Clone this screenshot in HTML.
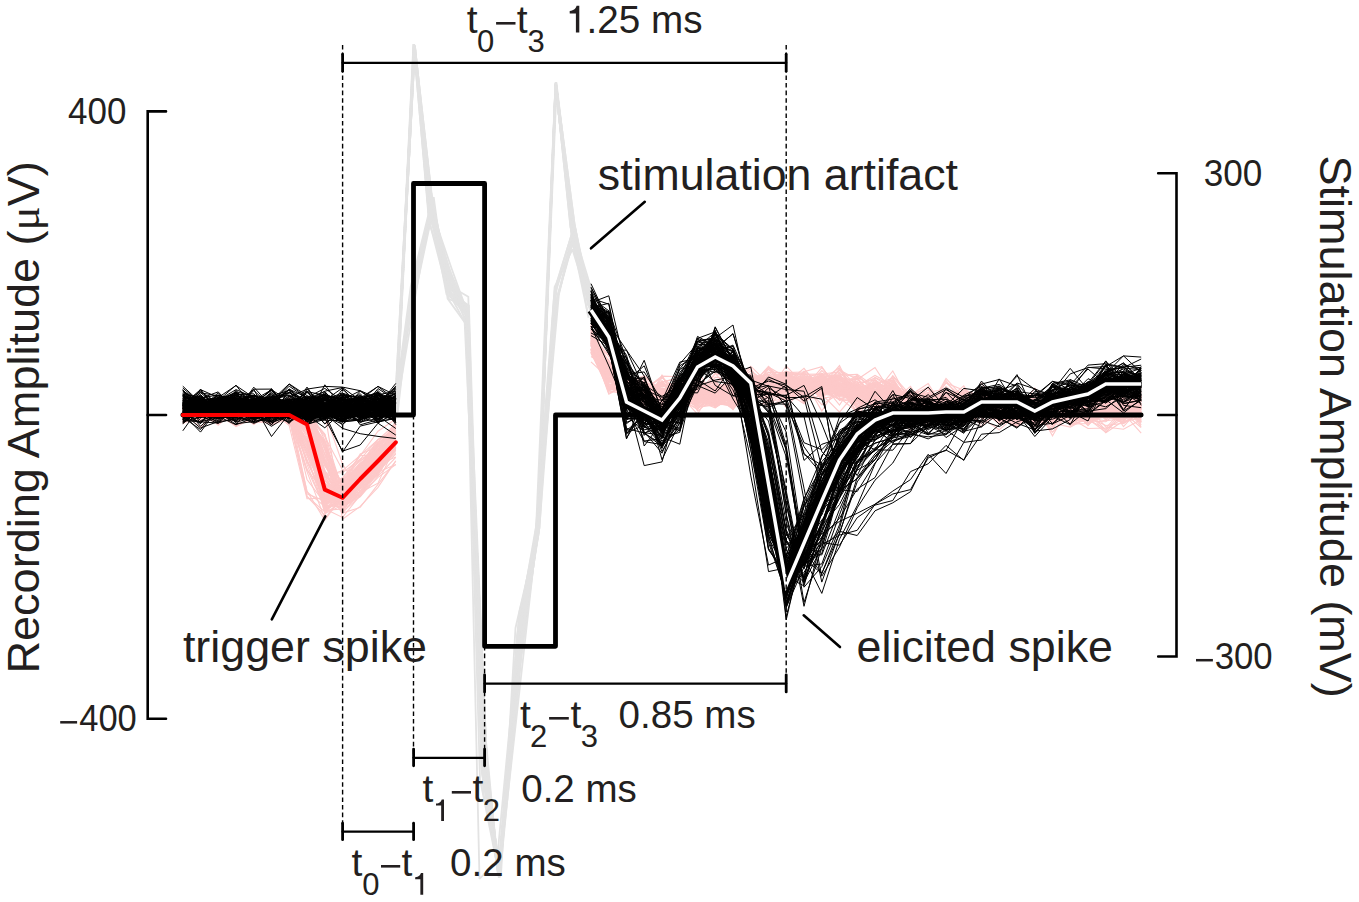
<!DOCTYPE html>
<html><head><meta charset="utf-8"><style>
html,body{margin:0;padding:0;background:#fff;width:1359px;height:902px;overflow:hidden;}
svg{display:block;}
text{font-family:"Liberation Sans",sans-serif;fill:#231f20;}
</style></head><body>
<svg width="1359" height="902" viewBox="0 0 1359 902">
<rect width="1359" height="902" fill="#fff"/>
<g fill="none" stroke="#e3e3e3" stroke-width="1.8" stroke-linejoin="miter" stroke-miterlimit="2"><polyline points="395.8,412.7 414.9,45.5 430.8,203.3 449.9,284.6 467.1,307.5 487.0,763.6 499.5,877.5 519.4,636.5 538.2,531.4 555.5,84.1 571.9,224.4 591.6,300.3"/><polyline points="394.8,408.4 414.1,47.6 428.9,207.3 450.4,283.4 466.4,314.2 485.6,760.8 499.4,873.8 519.7,618.6 537.9,532.7 556.1,85.9 572.2,229.1 588.2,305.9"/><polyline points="396.0,408.5 415.0,46.5 432.3,209.8 450.5,275.7 467.1,314.8 481.7,769.9 498.8,874.9 519.3,629.7 537.9,529.4 555.9,82.3 574.0,231.3 592.7,309.2"/><polyline points="395.7,411.3 414.9,49.4 428.7,213.2 449.7,284.3 466.2,316.8 482.5,772.9 500.0,871.6 519.5,611.7 537.9,536.5 556.6,87.3 572.3,239.9 593.5,307.9"/><polyline points="395.4,410.6 414.3,44.6 430.1,209.7 449.5,284.3 466.6,309.1 483.7,781.9 498.8,872.2 522.1,637.4 538.8,532.2 555.4,86.3 575.4,253.0 589.7,300.5"/><polyline points="396.0,408.3 414.2,45.0 431.6,214.7 449.0,291.4 466.5,314.0 481.1,744.7 499.6,875.6 520.9,637.6 538.4,534.4 556.1,82.3 572.1,229.9 590.2,297.1"/><polyline points="395.5,409.8 414.4,45.0 428.2,206.5 449.4,292.6 467.0,311.1 483.3,793.1 499.6,870.7 523.4,618.5 537.9,533.4 555.9,83.6 573.6,236.2 588.6,303.8"/><polyline points="395.4,410.3 414.1,45.9 432.6,209.2 449.5,285.7 466.5,312.5 483.7,770.4 499.0,875.7 517.9,642.4 537.4,529.8 555.5,83.7 573.7,231.0 589.3,299.1"/><polyline points="396.4,410.1 413.7,44.0 428.8,219.5 446.6,288.4 467.0,308.6 485.0,779.0 499.4,877.0 521.5,632.3 537.9,531.6 555.9,84.8 574.5,231.5 589.3,307.6"/><polyline points="396.6,411.9 414.1,46.1 430.5,206.1 449.1,268.8 466.8,309.9 483.4,744.4 497.8,874.2 521.3,653.3 537.7,535.3 555.5,87.7 573.5,238.1 590.3,307.1"/><polyline points="396.0,408.3 413.6,44.7 430.9,204.5 450.6,297.1 466.5,315.1 486.0,775.0 499.8,876.4 521.2,658.3 538.2,530.1 555.9,85.8 573.8,231.1 593.5,296.3"/><polyline points="396.0,410.0 413.7,47.7 431.8,198.8 450.0,282.0 465.8,310.9 484.9,773.9 499.1,877.8 520.8,627.0 538.3,532.4 555.7,83.6 571.6,230.0 593.4,307.3"/><polyline points="395.6,410.7 414.1,44.8 430.2,208.9 446.5,294.3 466.5,308.3 484.1,759.8 499.1,873.4 520.6,680.7 537.1,533.0 555.5,82.6 570.4,226.9 591.7,304.7"/><polyline points="396.6,408.6 414.4,52.7 430.0,200.7 448.9,284.7 467.2,313.4 483.3,768.0 501.1,872.9 515.5,628.0 537.3,533.9 555.5,87.8 574.7,241.2 591.3,304.7"/><polyline points="395.9,412.6 414.6,45.1 433.3,208.3 448.9,279.5 466.5,311.1 480.0,779.2 499.5,877.1 521.7,636.1 537.9,524.6 555.5,83.6 575.8,247.9 593.3,296.9"/><polyline points="394.7,411.1 414.3,46.9 431.0,208.5 446.6,288.1 466.5,314.0 485.2,763.4 499.3,877.9 521.2,637.0 537.5,530.2 556.4,82.3 574.8,237.8 590.1,299.8"/><polyline points="395.8,410.5 414.6,47.8 430.3,206.3 451.6,268.5 467.0,311.4 485.2,758.1 499.3,871.7 520.6,636.1 537.9,529.7 555.9,82.6 572.0,234.7 590.6,310.3"/><polyline points="395.7,408.9 415.0,47.0 433.3,211.3 448.8,282.1 466.6,315.8 484.7,744.2 499.0,872.3 520.3,613.1 537.1,532.4 555.6,87.0 574.4,250.1 588.6,317.7"/><polyline points="395.4,409.0 414.2,48.3 433.3,210.4 447.8,283.1 466.0,312.0 486.0,741.0 498.7,877.4 521.7,648.9 537.5,529.8 555.8,83.1 572.8,242.6 593.7,306.9"/><polyline points="395.7,411.1 413.4,44.1 429.6,223.7 450.2,286.0 466.7,305.5 485.6,787.8 498.4,875.3 521.2,608.3 538.2,536.1 555.7,82.2 574.5,224.2 591.1,312.4"/><polyline points="395.1,412.0 414.1,50.2 431.1,200.2 449.5,276.8 467.3,310.8 485.1,756.7 498.7,873.2 520.3,624.5 537.1,535.5 556.0,83.0 573.6,227.8 589.4,299.2"/><polyline points="395.9,410.6 413.9,46.2 432.5,208.2 450.7,283.0 466.7,314.4 484.4,776.1 498.0,872.3 518.7,627.7 537.1,533.8 556.2,85.2 574.6,224.1 589.7,301.8"/><polyline points="397.4,403.5 413.5,286.3 429.8,210.4 447.7,278.6 467.3,316.5 486.1,769.0 499.0,872.6 518.0,631.0 539.3,528.3 557.1,299.7 572.9,235.3 590.4,312.6"/><polyline points="397.7,412.4 412.6,282.4 432.1,206.9 449.2,288.4 464.4,316.9 484.7,759.0 499.0,874.3 518.6,621.5 536.2,530.8 558.0,293.6 575.2,234.0 589.3,307.0"/><polyline points="394.3,408.2 411.8,290.4 432.1,216.3 450.2,270.8 465.6,323.9 481.8,771.9 499.0,877.0 517.3,633.4 538.3,513.6 554.6,308.0 573.4,240.8 591.9,302.7"/><polyline points="393.9,421.5 414.0,288.9 433.7,197.0 447.6,298.6 466.8,325.2 486.8,763.9 499.0,877.1 521.9,640.6 535.6,538.3 557.2,281.0 573.5,228.5 590.7,297.5"/><polyline points="398.2,401.0 413.3,277.9 433.1,205.7 448.9,275.1 467.5,311.5 483.8,768.3 499.0,877.0 519.8,633.3 537.7,527.4 558.9,294.5 573.7,231.6 587.9,315.2"/><polyline points="394.0,397.8 417.2,284.2 433.1,209.7 445.3,283.4 468.3,296.8 482.6,766.3 499.0,873.5 522.2,637.9 536.1,526.6 553.9,297.9 571.5,241.0 591.1,310.7"/><polyline points="394.4,407.0 410.7,286.7 430.7,205.1 447.1,289.7 466.3,325.0 486.6,757.0 499.0,871.3 520.0,623.8 537.3,527.2 556.1,302.9 573.8,236.0 592.3,304.6"/><polyline points="395.2,416.2 417.1,285.7 431.0,210.0 449.0,299.3 467.8,305.3 483.8,758.7 499.0,876.7 519.2,624.7 539.5,527.8 554.6,287.0 572.4,249.3 593.0,315.4"/><polyline points="393.6,408.9 414.5,288.2 431.4,213.8 451.1,293.4 468.9,305.6 483.7,766.2 499.0,876.7 517.3,636.9 537.5,532.6 554.7,290.8 574.5,224.8 590.4,298.4"/><polyline points="396.0,415.0 414.0,44.0 430.0,205.0 449.0,283.0 466.5,313.0 479.5,879.0 497.0,860.0 518.0,640.0 536.0,530.0 555.5,84.0 572.0,240.0 591.0,305.0"/></g>
<g fill="none" stroke="#fdc9c9" stroke-width="1.1"><polyline points="182.8,414.9 200.5,408.3 218.2,417.8 236.0,414.2 253.8,411.7 271.5,403.8 289.2,409.1 307.0,439.9 324.8,491.8 342.5,477.5 360.2,473.5 378.0,457.1 395.8,429.7"/><polyline points="182.8,409.3 200.5,403.7 218.2,407.6 236.0,414.5 253.8,403.1 271.5,408.8 289.2,419.2 307.0,409.2 324.8,472.7 342.5,496.1 360.2,480.0 378.0,454.6 395.8,436.2"/><polyline points="182.8,412.3 200.5,402.5 218.2,406.3 236.0,409.5 253.8,415.9 271.5,414.3 289.2,416.4 307.0,418.9 324.8,412.6 342.5,519.2 360.2,506.4 378.0,487.4 395.8,460.7"/><polyline points="182.8,407.4 200.5,417.8 218.2,415.5 236.0,425.9 253.8,418.2 271.5,413.3 289.2,418.2 307.0,418.7 324.8,494.8 342.5,503.2 360.2,469.3 378.0,450.5 395.8,440.5"/><polyline points="182.8,414.3 200.5,420.3 218.2,414.2 236.0,412.7 253.8,409.8 271.5,412.6 289.2,411.7 307.0,442.7 324.8,509.3 342.5,497.8 360.2,479.6 378.0,454.4 395.8,435.7"/><polyline points="182.8,420.0 200.5,414.5 218.2,408.3 236.0,410.9 253.8,419.2 271.5,406.4 289.2,421.1 307.0,449.3 324.8,492.8 342.5,480.3 360.2,464.7 378.0,447.2 395.8,423.9"/><polyline points="182.8,405.1 200.5,409.0 218.2,409.8 236.0,407.5 253.8,416.2 271.5,402.5 289.2,412.0 307.0,409.0 324.8,448.2 342.5,487.5 360.2,479.1 378.0,467.4 395.8,443.8"/><polyline points="182.8,419.1 200.5,406.7 218.2,418.1 236.0,413.3 253.8,420.3 271.5,417.6 289.2,417.6 307.0,412.3 324.8,448.5 342.5,512.1 360.2,496.2 378.0,472.8 395.8,448.2"/><polyline points="182.8,414.2 200.5,412.4 218.2,406.3 236.0,411.0 253.8,414.0 271.5,403.8 289.2,419.2 307.0,493.8 324.8,501.1 342.5,491.7 360.2,472.9 378.0,443.1 395.8,428.6"/><polyline points="182.8,411.7 200.5,408.0 218.2,415.6 236.0,412.2 253.8,413.3 271.5,396.6 289.2,417.2 307.0,408.3 324.8,499.1 342.5,493.9 360.2,477.0 378.0,457.3 395.8,434.5"/><polyline points="182.8,412.7 200.5,410.3 218.2,420.0 236.0,420.7 253.8,407.2 271.5,411.9 289.2,416.3 307.0,460.2 324.8,502.0 342.5,485.2 360.2,467.5 378.0,444.5 395.8,429.1"/><polyline points="182.8,417.6 200.5,412.5 218.2,412.9 236.0,404.0 253.8,405.1 271.5,416.3 289.2,418.5 307.0,496.6 324.8,515.2 342.5,482.3 360.2,459.1 378.0,449.9 395.8,420.7"/><polyline points="182.8,418.1 200.5,411.4 218.2,412.1 236.0,413.0 253.8,411.8 271.5,421.5 289.2,417.7 307.0,409.4 324.8,473.4 342.5,501.8 360.2,486.9 378.0,463.7 395.8,447.4"/><polyline points="182.8,413.1 200.5,409.9 218.2,415.4 236.0,412.3 253.8,420.1 271.5,415.0 289.2,408.0 307.0,451.3 324.8,498.8 342.5,483.5 360.2,472.6 378.0,460.5 395.8,437.2"/><polyline points="182.8,416.0 200.5,415.9 218.2,410.7 236.0,411.7 253.8,410.9 271.5,403.4 289.2,404.6 307.0,416.4 324.8,454.3 342.5,495.9 360.2,479.1 378.0,456.0 395.8,438.0"/><polyline points="182.8,412.6 200.5,403.3 218.2,409.0 236.0,408.6 253.8,410.3 271.5,415.7 289.2,417.0 307.0,422.9 324.8,492.7 342.5,489.0 360.2,485.9 378.0,463.0 395.8,439.5"/><polyline points="182.8,416.6 200.5,412.2 218.2,411.2 236.0,407.2 253.8,407.6 271.5,410.9 289.2,410.2 307.0,414.6 324.8,499.6 342.5,496.0 360.2,475.9 378.0,459.4 395.8,434.5"/><polyline points="182.8,416.5 200.5,406.5 218.2,407.4 236.0,407.4 253.8,412.1 271.5,416.6 289.2,422.0 307.0,414.4 324.8,466.0 342.5,489.7 360.2,483.2 378.0,460.4 395.8,444.5"/><polyline points="182.8,412.4 200.5,416.0 218.2,422.8 236.0,412.8 253.8,420.1 271.5,416.5 289.2,415.9 307.0,414.3 324.8,479.7 342.5,499.7 360.2,484.8 378.0,467.3 395.8,449.6"/><polyline points="182.8,408.5 200.5,412.4 218.2,423.7 236.0,411.8 253.8,422.3 271.5,412.1 289.2,412.3 307.0,445.9 324.8,498.5 342.5,486.2 360.2,465.3 378.0,450.7 395.8,430.8"/><polyline points="182.8,417.9 200.5,411.6 218.2,403.9 236.0,413.8 253.8,418.2 271.5,412.2 289.2,404.6 307.0,479.5 324.8,503.2 342.5,484.0 360.2,453.9 378.0,446.9 395.8,423.7"/><polyline points="182.8,402.9 200.5,405.4 218.2,411.4 236.0,404.8 253.8,416.2 271.5,419.3 289.2,397.3 307.0,433.0 324.8,491.3 342.5,493.3 360.2,469.6 378.0,462.7 395.8,444.6"/><polyline points="182.8,408.1 200.5,421.5 218.2,406.8 236.0,413.3 253.8,407.6 271.5,417.8 289.2,416.3 307.0,424.2 324.8,486.9 342.5,488.8 360.2,465.7 378.0,442.8 395.8,435.1"/><polyline points="182.8,416.3 200.5,412.3 218.2,411.4 236.0,407.7 253.8,413.6 271.5,410.7 289.2,411.7 307.0,453.2 324.8,487.4 342.5,478.0 360.2,460.5 378.0,451.0 395.8,423.2"/><polyline points="182.8,411.2 200.5,420.3 218.2,419.9 236.0,410.8 253.8,417.3 271.5,424.8 289.2,418.8 307.0,469.9 324.8,492.1 342.5,479.6 360.2,465.9 378.0,445.5 395.8,426.1"/><polyline points="182.8,420.1 200.5,413.0 218.2,410.4 236.0,414.2 253.8,414.8 271.5,407.2 289.2,414.9 307.0,417.0 324.8,476.2 342.5,504.9 360.2,476.6 378.0,460.1 395.8,437.1"/><polyline points="182.8,421.9 200.5,407.3 218.2,408.7 236.0,414.8 253.8,414.6 271.5,416.3 289.2,412.8 307.0,405.0 324.8,459.8 342.5,493.7 360.2,475.4 378.0,457.6 395.8,440.3"/><polyline points="182.8,416.8 200.5,413.7 218.2,412.8 236.0,413.3 253.8,410.7 271.5,413.1 289.2,410.9 307.0,414.5 324.8,483.7 342.5,496.8 360.2,494.7 378.0,467.4 395.8,447.7"/><polyline points="182.8,417.1 200.5,412.0 218.2,412.0 236.0,405.8 253.8,404.3 271.5,409.6 289.2,414.3 307.0,447.1 324.8,489.3 342.5,481.9 360.2,464.5 378.0,446.5 395.8,427.2"/><polyline points="182.8,407.0 200.5,414.2 218.2,412.9 236.0,408.4 253.8,403.8 271.5,405.3 289.2,416.4 307.0,412.7 324.8,483.0 342.5,498.2 360.2,484.7 378.0,456.2 395.8,436.6"/><polyline points="182.8,404.3 200.5,416.7 218.2,411.5 236.0,418.4 253.8,410.1 271.5,407.6 289.2,421.9 307.0,413.5 324.8,476.5 342.5,483.3 360.2,466.5 378.0,457.7 395.8,437.3"/><polyline points="182.8,418.3 200.5,414.0 218.2,417.3 236.0,420.7 253.8,408.1 271.5,414.8 289.2,414.6 307.0,412.8 324.8,496.4 342.5,505.7 360.2,479.4 378.0,467.7 395.8,435.9"/><polyline points="182.8,413.4 200.5,427.2 218.2,410.5 236.0,410.6 253.8,412.8 271.5,410.3 289.2,413.5 307.0,418.5 324.8,480.1 342.5,498.2 360.2,474.9 378.0,465.9 395.8,444.1"/><polyline points="182.8,419.7 200.5,410.8 218.2,410.0 236.0,411.6 253.8,409.5 271.5,412.6 289.2,412.0 307.0,429.6 324.8,476.9 342.5,470.6 360.2,455.4 378.0,439.7 395.8,430.6"/><polyline points="182.8,408.3 200.5,415.2 218.2,417.7 236.0,413.6 253.8,418.5 271.5,412.1 289.2,412.1 307.0,460.2 324.8,498.0 342.5,484.7 360.2,462.4 378.0,442.5 395.8,432.3"/><polyline points="182.8,411.8 200.5,414.1 218.2,412.3 236.0,402.5 253.8,414.9 271.5,415.3 289.2,410.9 307.0,406.1 324.8,412.9 342.5,464.0 360.2,492.0 378.0,472.1 395.8,464.4"/><polyline points="182.8,414.4 200.5,414.5 218.2,402.9 236.0,419.2 253.8,408.3 271.5,408.9 289.2,406.8 307.0,464.4 324.8,508.9 342.5,502.6 360.2,472.1 378.0,443.9 395.8,432.7"/><polyline points="182.8,409.5 200.5,413.3 218.2,405.4 236.0,418.1 253.8,409.2 271.5,420.9 289.2,408.3 307.0,414.8 324.8,464.0 342.5,495.2 360.2,468.6 378.0,459.0 395.8,439.9"/><polyline points="182.8,398.6 200.5,405.1 218.2,414.3 236.0,412.5 253.8,424.4 271.5,411.3 289.2,405.9 307.0,415.2 324.8,463.4 342.5,505.7 360.2,482.2 378.0,459.3 395.8,445.3"/><polyline points="182.8,412.8 200.5,403.5 218.2,412.8 236.0,410.0 253.8,406.1 271.5,414.8 289.2,412.9 307.0,413.6 324.8,476.5 342.5,502.1 360.2,475.3 378.0,466.1 395.8,440.3"/><polyline points="182.8,418.7 200.5,412.7 218.2,411.4 236.0,412.4 253.8,412.7 271.5,414.8 289.2,407.1 307.0,417.1 324.8,489.7 342.5,513.4 360.2,491.3 378.0,468.6 395.8,446.6"/><polyline points="182.8,420.7 200.5,417.6 218.2,413.9 236.0,413.4 253.8,412.6 271.5,411.9 289.2,412.4 307.0,413.1 324.8,508.8 342.5,517.4 360.2,495.2 378.0,467.5 395.8,441.9"/><polyline points="182.8,406.6 200.5,419.0 218.2,420.3 236.0,401.6 253.8,418.5 271.5,410.6 289.2,413.4 307.0,417.2 324.8,465.2 342.5,496.2 360.2,466.5 378.0,465.0 395.8,445.4"/><polyline points="182.8,416.7 200.5,415.4 218.2,418.7 236.0,417.8 253.8,418.4 271.5,416.1 289.2,413.8 307.0,424.7 324.8,501.6 342.5,502.0 360.2,471.7 378.0,461.0 395.8,445.8"/><polyline points="182.8,409.1 200.5,413.1 218.2,418.6 236.0,412.3 253.8,412.0 271.5,414.9 289.2,421.5 307.0,417.4 324.8,492.2 342.5,504.4 360.2,482.3 378.0,464.7 395.8,441.7"/><polyline points="182.8,406.1 200.5,411.0 218.2,407.4 236.0,419.4 253.8,419.5 271.5,415.9 289.2,411.6 307.0,413.3 324.8,480.0 342.5,504.4 360.2,485.6 378.0,471.7 395.8,447.0"/><polyline points="182.8,399.6 200.5,415.5 218.2,414.6 236.0,422.0 253.8,411.9 271.5,415.3 289.2,410.9 307.0,414.3 324.8,436.5 342.5,470.0 360.2,470.7 378.0,453.9 395.8,439.5"/><polyline points="182.8,412.0 200.5,413.2 218.2,406.1 236.0,413.5 253.8,411.8 271.5,418.8 289.2,413.5 307.0,468.8 324.8,507.0 342.5,488.6 360.2,466.5 378.0,439.6 395.8,430.7"/><polyline points="182.8,412.0 200.5,415.8 218.2,412.0 236.0,418.0 253.8,415.0 271.5,410.3 289.2,411.6 307.0,414.6 324.8,465.0 342.5,492.5 360.2,469.2 378.0,462.8 395.8,439.3"/><polyline points="182.8,421.6 200.5,416.9 218.2,409.7 236.0,415.6 253.8,420.6 271.5,413.9 289.2,411.7 307.0,413.1 324.8,484.3 342.5,507.2 360.2,485.6 378.0,468.2 395.8,446.9"/><polyline points="182.8,414.0 200.5,404.4 218.2,415.5 236.0,414.7 253.8,411.9 271.5,420.3 289.2,412.8 307.0,416.4 324.8,472.3 342.5,484.8 360.2,465.5 378.0,454.9 395.8,440.9"/><polyline points="182.8,411.8 200.5,418.8 218.2,415.5 236.0,404.3 253.8,404.8 271.5,421.6 289.2,408.9 307.0,407.2 324.8,461.9 342.5,503.7 360.2,489.0 378.0,458.9 395.8,434.1"/><polyline points="182.8,410.6 200.5,413.1 218.2,407.7 236.0,410.3 253.8,412.4 271.5,415.4 289.2,408.6 307.0,420.4 324.8,442.1 342.5,489.8 360.2,474.6 378.0,468.2 395.8,449.4"/><polyline points="182.8,409.7 200.5,411.4 218.2,415.0 236.0,420.5 253.8,412.7 271.5,415.5 289.2,413.6 307.0,455.9 324.8,491.5 342.5,489.3 360.2,466.3 378.0,456.2 395.8,437.6"/><polyline points="182.8,416.9 200.5,410.2 218.2,412.0 236.0,419.8 253.8,417.3 271.5,414.0 289.2,424.2 307.0,439.2 324.8,503.2 342.5,495.3 360.2,472.2 378.0,448.6 395.8,442.1"/><polyline points="182.8,413.9 200.5,406.2 218.2,419.1 236.0,407.7 253.8,412.6 271.5,424.5 289.2,411.4 307.0,427.2 324.8,484.6 342.5,512.7 360.2,483.8 378.0,462.8 395.8,439.2"/><polyline points="182.8,406.6 200.5,422.0 218.2,410.3 236.0,415.3 253.8,404.0 271.5,412.0 289.2,406.3 307.0,437.4 324.8,510.5 342.5,496.5 360.2,479.8 378.0,460.2 395.8,427.2"/><polyline points="182.8,415.4 200.5,405.9 218.2,407.3 236.0,412.0 253.8,419.7 271.5,410.1 289.2,419.0 307.0,459.9 324.8,500.7 342.5,493.0 360.2,465.4 378.0,439.9 395.8,424.0"/><polyline points="182.8,418.0 200.5,414.0 218.2,421.0 236.0,414.6 253.8,415.1 271.5,409.8 289.2,412.8 307.0,419.9 324.8,496.0 342.5,503.7 360.2,473.2 378.0,460.5 395.8,436.2"/><polyline points="182.8,408.8 200.5,414.5 218.2,418.0 236.0,416.9 253.8,414.8 271.5,414.9 289.2,413.8 307.0,422.9 324.8,502.7 342.5,495.0 360.2,487.8 378.0,455.9 395.8,440.1"/><polyline points="182.8,411.7 200.5,417.8 218.2,418.7 236.0,411.4 253.8,417.0 271.5,404.8 289.2,416.1 307.0,424.0 324.8,473.1 342.5,472.8 360.2,459.3 378.0,439.4 395.8,432.0"/><polyline points="182.8,416.9 200.5,410.4 218.2,412.7 236.0,418.7 253.8,415.8 271.5,409.0 289.2,413.6 307.0,422.6 324.8,489.9 342.5,486.7 360.2,464.6 378.0,453.6 395.8,439.1"/><polyline points="182.8,413.2 200.5,406.0 218.2,402.8 236.0,403.2 253.8,414.5 271.5,419.4 289.2,415.3 307.0,491.0 324.8,520.3 342.5,495.6 360.2,476.8 378.0,452.6 395.8,435.8"/><polyline points="182.8,416.6 200.5,417.1 218.2,416.0 236.0,414.5 253.8,405.6 271.5,407.9 289.2,414.5 307.0,414.2 324.8,443.4 342.5,486.5 360.2,477.0 378.0,458.5 395.8,443.8"/><polyline points="182.8,414.3 200.5,408.5 218.2,410.7 236.0,416.3 253.8,412.6 271.5,414.3 289.2,414.0 307.0,410.4 324.8,445.7 342.5,513.1 360.2,507.4 378.0,484.3 395.8,461.1"/><polyline points="182.8,414.4 200.5,411.0 218.2,410.9 236.0,411.0 253.8,420.4 271.5,410.0 289.2,425.5 307.0,498.8 324.8,498.3 342.5,477.8 360.2,455.7 378.0,431.2 395.8,419.0"/><polyline points="182.8,411.3 200.5,417.0 218.2,412.8 236.0,412.7 253.8,413.2 271.5,418.0 289.2,414.0 307.0,417.7 324.8,461.0 342.5,509.4 360.2,488.3 378.0,471.9 395.8,450.2"/><polyline points="182.8,408.9 200.5,417.0 218.2,408.6 236.0,413.8 253.8,410.6 271.5,420.5 289.2,412.8 307.0,424.9 324.8,491.8 342.5,506.2 360.2,477.5 378.0,463.6 395.8,439.2"/><polyline points="182.8,406.6 200.5,417.4 218.2,404.5 236.0,396.6 253.8,418.7 271.5,417.4 289.2,420.7 307.0,413.2 324.8,463.4 342.5,495.1 360.2,482.9 378.0,472.0 395.8,444.9"/><polyline points="182.8,410.2 200.5,422.6 218.2,408.6 236.0,409.5 253.8,413.1 271.5,407.2 289.2,419.2 307.0,431.3 324.8,507.7 342.5,495.5 360.2,484.6 378.0,458.1 395.8,444.6"/><polyline points="182.8,410.9 200.5,418.5 218.2,417.3 236.0,412.3 253.8,407.1 271.5,410.8 289.2,413.5 307.0,426.2 324.8,496.7 342.5,499.1 360.2,482.4 378.0,465.9 395.8,447.4"/><polyline points="182.8,412.4 200.5,416.5 218.2,412.9 236.0,411.6 253.8,415.9 271.5,413.0 289.2,416.3 307.0,496.3 324.8,511.8 342.5,495.1 360.2,470.4 378.0,454.7 395.8,424.6"/><polyline points="182.8,411.1 200.5,410.2 218.2,419.3 236.0,413.7 253.8,417.9 271.5,417.0 289.2,414.1 307.0,423.2 324.8,503.5 342.5,496.3 360.2,474.3 378.0,452.3 395.8,429.7"/><polyline points="182.8,413.8 200.5,413.5 218.2,416.8 236.0,404.2 253.8,405.5 271.5,417.8 289.2,407.5 307.0,415.7 324.8,485.4 342.5,508.9 360.2,492.5 378.0,483.2 395.8,444.5"/><polyline points="182.8,410.5 200.5,410.8 218.2,408.8 236.0,413.2 253.8,422.5 271.5,417.0 289.2,415.1 307.0,448.9 324.8,487.6 342.5,481.7 360.2,455.7 378.0,454.4 395.8,433.7"/><polyline points="182.8,413.2 200.5,413.5 218.2,417.2 236.0,409.5 253.8,414.6 271.5,413.9 289.2,413.1 307.0,414.6 324.8,434.6 342.5,506.7 360.2,488.7 378.0,475.0 395.8,446.6"/><polyline points="182.8,411.3 200.5,408.1 218.2,409.8 236.0,419.6 253.8,408.2 271.5,408.2 289.2,417.7 307.0,429.2 324.8,508.5 342.5,499.2 360.2,466.2 378.0,458.3 395.8,444.6"/><polyline points="182.8,411.6 200.5,403.1 218.2,410.7 236.0,415.0 253.8,413.9 271.5,405.0 289.2,419.5 307.0,409.9 324.8,483.7 342.5,499.3 360.2,485.7 378.0,462.5 395.8,440.5"/><polyline points="182.8,412.4 200.5,413.4 218.2,410.1 236.0,422.2 253.8,410.8 271.5,410.4 289.2,418.2 307.0,471.6 324.8,518.7 342.5,495.1 360.2,466.0 378.0,452.4 395.8,430.0"/><polyline points="182.8,412.1 200.5,419.6 218.2,416.8 236.0,405.3 253.8,401.6 271.5,401.5 289.2,416.9 307.0,410.4 324.8,462.3 342.5,503.3 360.2,487.1 378.0,473.4 395.8,448.1"/><polyline points="182.8,416.3 200.5,418.7 218.2,413.4 236.0,415.1 253.8,415.0 271.5,422.9 289.2,407.7 307.0,431.9 324.8,502.0 342.5,504.3 360.2,471.6 378.0,456.2 395.8,441.6"/><polyline points="182.8,419.7 200.5,411.0 218.2,419.3 236.0,413.2 253.8,413.5 271.5,411.4 289.2,414.0 307.0,417.1 324.8,494.7 342.5,493.7 360.2,472.8 378.0,457.7 395.8,436.5"/><polyline points="182.8,411.1 200.5,416.7 218.2,416.3 236.0,413.9 253.8,408.5 271.5,412.3 289.2,410.1 307.0,411.7 324.8,488.9 342.5,494.2 360.2,477.0 378.0,457.2 395.8,441.8"/><polyline points="182.8,409.2 200.5,420.0 218.2,420.7 236.0,411.3 253.8,413.9 271.5,413.3 289.2,411.6 307.0,418.5 324.8,485.6 342.5,486.0 360.2,478.3 378.0,452.6 395.8,434.2"/><polyline points="182.8,411.7 200.5,411.1 218.2,411.0 236.0,418.0 253.8,419.3 271.5,414.3 289.2,403.7 307.0,419.2 324.8,480.0 342.5,498.3 360.2,491.5 378.0,474.0 395.8,440.5"/><polyline points="182.8,422.7 200.5,419.1 218.2,409.0 236.0,414.1 253.8,410.8 271.5,423.1 289.2,417.3 307.0,417.8 324.8,440.6 342.5,507.0 360.2,496.8 378.0,476.0 395.8,457.3"/><polyline points="182.8,417.1 200.5,408.7 218.2,413.3 236.0,425.5 253.8,409.2 271.5,410.8 289.2,412.3 307.0,411.9 324.8,463.6 342.5,492.6 360.2,473.7 378.0,460.3 395.8,436.1"/><polyline points="182.8,408.2 200.5,412.1 218.2,415.2 236.0,413.5 253.8,406.4 271.5,401.9 289.2,411.2 307.0,421.7 324.8,475.4 342.5,494.1 360.2,478.6 378.0,459.2 395.8,437.1"/><polyline points="182.8,409.5 200.5,410.0 218.2,422.3 236.0,409.5 253.8,422.8 271.5,407.1 289.2,405.6 307.0,462.0 324.8,496.2 342.5,483.9 360.2,466.7 378.0,444.7 395.8,433.7"/><polyline points="182.8,415.8 200.5,415.9 218.2,410.0 236.0,407.7 253.8,424.4 271.5,409.7 289.2,414.4 307.0,428.0 324.8,501.3 342.5,503.7 360.2,478.5 378.0,460.8 395.8,448.1"/><polyline points="182.8,418.1 200.5,412.1 218.2,408.6 236.0,419.1 253.8,414.0 271.5,403.9 289.2,410.0 307.0,410.0 324.8,498.7 342.5,499.1 360.2,486.6 378.0,455.0 395.8,448.1"/><polyline points="182.8,415.2 200.5,416.9 218.2,413.3 236.0,415.9 253.8,413.4 271.5,412.9 289.2,414.7 307.0,431.7 324.8,510.3 342.5,509.0 360.2,483.0 378.0,454.5 395.8,446.6"/><polyline points="182.8,414.7 200.5,416.0 218.2,413.0 236.0,409.6 253.8,412.9 271.5,415.8 289.2,410.6 307.0,416.9 324.8,495.6 342.5,489.0 360.2,471.8 378.0,452.1 395.8,439.7"/><polyline points="182.8,410.8 200.5,409.5 218.2,414.7 236.0,398.2 253.8,420.2 271.5,413.7 289.2,415.0 307.0,403.0 324.8,440.3 342.5,498.5 360.2,479.9 378.0,466.4 395.8,449.6"/><polyline points="182.8,406.5 200.5,412.1 218.2,403.9 236.0,412.6 253.8,408.9 271.5,405.5 289.2,411.9 307.0,434.2 324.8,489.6 342.5,491.4 360.2,469.3 378.0,450.8 395.8,429.6"/><polyline points="182.8,417.3 200.5,417.3 218.2,414.2 236.0,411.3 253.8,412.3 271.5,406.0 289.2,418.1 307.0,405.4 324.8,455.1 342.5,507.4 360.2,495.2 378.0,468.7 395.8,452.8"/><polyline points="182.8,424.0 200.5,410.4 218.2,406.7 236.0,417.8 253.8,418.0 271.5,414.4 289.2,409.0 307.0,415.3 324.8,462.9 342.5,486.9 360.2,480.0 378.0,456.8 395.8,451.8"/><polyline points="182.8,419.7 200.5,418.9 218.2,414.2 236.0,403.0 253.8,418.7 271.5,419.5 289.2,398.5 307.0,414.0 324.8,505.3 342.5,507.1 360.2,491.1 378.0,464.9 395.8,447.0"/><polyline points="182.8,407.3 200.5,417.4 218.2,410.9 236.0,416.7 253.8,415.9 271.5,406.7 289.2,414.1 307.0,415.4 324.8,480.6 342.5,494.3 360.2,471.9 378.0,458.0 395.8,432.9"/><polyline points="182.8,416.2 200.5,421.3 218.2,419.0 236.0,410.7 253.8,413.4 271.5,415.1 289.2,408.2 307.0,491.8 324.8,506.5 342.5,478.8 360.2,472.4 378.0,441.9 395.8,426.0"/><polyline points="182.8,414.5 200.5,415.7 218.2,411.9 236.0,417.2 253.8,411.3 271.5,413.7 289.2,406.3 307.0,405.5 324.8,459.7 342.5,483.8 360.2,470.9 378.0,447.2 395.8,438.2"/><polyline points="182.8,413.4 200.5,413.8 218.2,413.6 236.0,412.4 253.8,405.9 271.5,418.9 289.2,413.7 307.0,421.9 324.8,479.3 342.5,502.5 360.2,494.4 378.0,469.7 395.8,441.3"/><polyline points="182.8,418.2 200.5,418.1 218.2,413.4 236.0,412.4 253.8,422.2 271.5,422.4 289.2,412.8 307.0,411.7 324.8,458.3 342.5,511.6 360.2,483.5 378.0,471.4 395.8,445.5"/><polyline points="182.8,421.5 200.5,412.0 218.2,412.3 236.0,408.6 253.8,406.4 271.5,410.2 289.2,412.3 307.0,405.6 324.8,454.0 342.5,483.3 360.2,477.3 378.0,469.6 395.8,450.0"/><polyline points="182.8,407.2 200.5,412.5 218.2,419.0 236.0,415.3 253.8,421.2 271.5,406.3 289.2,416.5 307.0,407.4 324.8,473.5 342.5,500.6 360.2,479.0 378.0,456.4 395.8,445.2"/><polyline points="182.8,413.3 200.5,418.7 218.2,419.9 236.0,408.5 253.8,405.9 271.5,412.2 289.2,411.8 307.0,406.5 324.8,445.7 342.5,494.4 360.2,486.4 378.0,471.2 395.8,454.2"/><polyline points="182.8,414.6 200.5,406.3 218.2,416.3 236.0,407.9 253.8,415.3 271.5,414.3 289.2,413.2 307.0,419.8 324.8,463.6 342.5,483.2 360.2,479.3 378.0,459.7 395.8,442.6"/><polyline points="182.8,406.8 200.5,413.2 218.2,418.1 236.0,413.2 253.8,413.6 271.5,416.6 289.2,408.9 307.0,417.7 324.8,441.6 342.5,490.0 360.2,496.3 378.0,468.5 395.8,447.6"/><polyline points="182.8,416.3 200.5,411.6 218.2,411.2 236.0,407.7 253.8,412.0 271.5,416.2 289.2,413.1 307.0,444.1 324.8,499.3 342.5,489.3 360.2,465.4 378.0,453.2 395.8,436.3"/><polyline points="182.8,416.4 200.5,421.4 218.2,404.0 236.0,409.8 253.8,415.1 271.5,411.4 289.2,408.0 307.0,405.8 324.8,450.4 342.5,501.4 360.2,480.2 378.0,467.8 395.8,449.5"/><polyline points="182.8,408.1 200.5,412.7 218.2,411.7 236.0,410.2 253.8,403.8 271.5,411.3 289.2,416.4 307.0,438.9 324.8,497.5 342.5,498.6 360.2,476.2 378.0,456.8 395.8,437.4"/><polyline points="182.8,413.0 200.5,414.2 218.2,417.2 236.0,403.5 253.8,402.6 271.5,410.8 289.2,423.5 307.0,413.3 324.8,434.1 342.5,490.1 360.2,476.4 378.0,466.0 395.8,441.6"/><polyline points="182.8,420.1 200.5,418.8 218.2,414.8 236.0,408.2 253.8,406.5 271.5,408.8 289.2,421.2 307.0,440.5 324.8,504.6 342.5,491.8 360.2,467.1 378.0,457.5 395.8,433.9"/><polyline points="182.8,415.2 200.5,420.0 218.2,414.8 236.0,405.8 253.8,411.1 271.5,417.5 289.2,406.5 307.0,412.9 324.8,443.1 342.5,504.9 360.2,495.5 378.0,477.4 395.8,464.6"/><polyline points="182.8,412.0 200.5,404.8 218.2,410.0 236.0,412.6 253.8,404.0 271.5,420.5 289.2,411.3 307.0,410.5 324.8,475.3 342.5,491.7 360.2,482.0 378.0,458.3 395.8,442.6"/><polyline points="182.8,410.9 200.5,422.2 218.2,415.9 236.0,414.2 253.8,413.2 271.5,412.3 289.2,409.5 307.0,419.7 324.8,487.8 342.5,486.1 360.2,467.0 378.0,449.2 395.8,439.1"/><polyline points="182.8,415.8 200.5,416.9 218.2,407.3 236.0,413.2 253.8,413.2 271.5,409.6 289.2,411.0 307.0,441.3 324.8,513.5 342.5,505.3 360.2,481.0 378.0,454.1 395.8,445.2"/><polyline points="182.8,414.5 200.5,416.1 218.2,413.3 236.0,410.2 253.8,408.1 271.5,409.6 289.2,416.9 307.0,434.3 324.8,507.3 342.5,501.3 360.2,469.3 378.0,456.8 395.8,424.6"/><polyline points="182.8,411.2 200.5,399.0 218.2,409.7 236.0,410.6 253.8,414.4 271.5,409.0 289.2,411.8 307.0,423.9 324.8,487.6 342.5,492.0 360.2,468.2 378.0,454.1 395.8,435.5"/><polyline points="182.8,417.2 200.5,407.5 218.2,411.4 236.0,419.8 253.8,407.6 271.5,421.3 289.2,408.0 307.0,424.9 324.8,502.2 342.5,498.7 360.2,471.9 378.0,453.5 395.8,432.1"/><polyline points="182.8,408.2 200.5,418.4 218.2,421.9 236.0,416.4 253.8,404.2 271.5,415.1 289.2,414.0 307.0,430.1 324.8,508.9 342.5,500.7 360.2,479.0 378.0,458.1 395.8,445.6"/><polyline points="182.8,416.9 200.5,413.1 218.2,412.9 236.0,426.6 253.8,417.8 271.5,406.5 289.2,417.1 307.0,441.4 324.8,494.7 342.5,481.4 360.2,463.4 378.0,452.0 395.8,441.4"/><polyline points="182.8,412.5 200.5,413.8 218.2,415.6 236.0,416.2 253.8,412.3 271.5,418.9 289.2,410.9 307.0,416.0 324.8,480.2 342.5,499.3 360.2,481.5 378.0,464.7 395.8,456.9"/><polyline points="182.8,413.2 200.5,405.8 218.2,417.4 236.0,412.1 253.8,412.7 271.5,413.0 289.2,406.4 307.0,426.1 324.8,503.5 342.5,501.7 360.2,469.0 378.0,449.5 395.8,426.4"/><polyline points="182.8,417.6 200.5,412.5 218.2,412.2 236.0,412.1 253.8,417.2 271.5,406.5 289.2,412.1 307.0,453.6 324.8,512.6 342.5,502.9 360.2,483.8 378.0,458.6 395.8,434.3"/><polyline points="182.8,419.3 200.5,419.2 218.2,421.6 236.0,417.3 253.8,406.1 271.5,413.9 289.2,413.0 307.0,408.2 324.8,491.2 342.5,494.1 360.2,468.6 378.0,454.6 395.8,444.8"/><polyline points="182.8,416.5 200.5,416.3 218.2,417.0 236.0,413.0 253.8,419.2 271.5,424.3 289.2,412.8 307.0,431.5 324.8,506.0 342.5,488.7 360.2,477.8 378.0,459.1 395.8,435.7"/><polyline points="182.8,407.0 200.5,409.4 218.2,417.0 236.0,418.7 253.8,416.8 271.5,405.6 289.2,413.6 307.0,407.9 324.8,470.1 342.5,501.8 360.2,484.9 378.0,463.4 395.8,442.0"/><polyline points="182.8,414.9 200.5,410.7 218.2,415.7 236.0,411.4 253.8,415.4 271.5,407.3 289.2,416.4 307.0,439.6 324.8,488.9 342.5,492.4 360.2,469.7 378.0,452.3 395.8,438.4"/><polyline points="182.8,410.6 200.5,410.0 218.2,425.2 236.0,408.9 253.8,410.2 271.5,405.5 289.2,405.3 307.0,419.3 324.8,511.7 342.5,498.2 360.2,480.0 378.0,461.0 395.8,436.8"/><polyline points="591.0,335.0 608.8,372.5 626.5,385.1 644.2,382.5 662.0,393.4 679.8,398.5 697.5,396.8 715.2,384.0 733.0,400.5 750.8,391.4 768.5,387.4 786.2,375.2 804.0,373.2 821.8,385.3 839.5,376.8 857.2,382.3 875.0,400.1 892.8,400.3 910.5,409.1 928.2,414.4 946.0,411.2 963.8,394.7 981.5,413.1 999.2,410.9 1017.0,413.5 1034.8,422.5 1052.5,413.5 1070.2,422.6 1088.0,410.4 1105.8,406.9 1123.5,404.3 1141.2,408.9"/><polyline points="591.0,326.5 608.8,375.5 626.5,385.0 644.2,389.7 662.0,376.1 679.8,376.8 697.5,399.6 715.2,386.3 733.0,405.0 750.8,379.3 768.5,387.9 786.2,373.4 804.0,379.9 821.8,383.2 839.5,389.6 857.2,406.4 875.0,400.7 892.8,381.4 910.5,404.0 928.2,402.7 946.0,398.9 963.8,408.7 981.5,416.6 999.2,406.3 1017.0,418.9 1034.8,421.2 1052.5,401.5 1070.2,424.2 1088.0,423.5 1105.8,412.4 1123.5,423.7 1141.2,412.0"/><polyline points="591.0,349.2 608.8,381.2 626.5,379.1 644.2,396.1 662.0,392.7 679.8,390.1 697.5,384.8 715.2,387.8 733.0,384.1 750.8,394.1 768.5,369.3 786.2,385.6 804.0,380.1 821.8,375.0 839.5,390.8 857.2,386.6 875.0,402.7 892.8,391.6 910.5,406.7 928.2,403.0 946.0,409.2 963.8,411.5 981.5,400.4 999.2,409.9 1017.0,424.1 1034.8,405.4 1052.5,424.5 1070.2,406.9 1088.0,405.5 1105.8,396.5 1123.5,403.2 1141.2,396.1"/><polyline points="591.0,335.4 608.8,381.5 626.5,385.5 644.2,389.2 662.0,385.8 679.8,388.5 697.5,382.4 715.2,383.8 733.0,409.6 750.8,386.9 768.5,377.7 786.2,390.4 804.0,397.0 821.8,379.9 839.5,384.1 857.2,382.9 875.0,380.2 892.8,404.0 910.5,431.4 928.2,398.1 946.0,391.0 963.8,415.4 981.5,412.5 999.2,413.8 1017.0,421.8 1034.8,407.3 1052.5,412.2 1070.2,416.3 1088.0,407.5 1105.8,413.8 1123.5,408.1 1141.2,413.6"/><polyline points="591.0,341.3 608.8,360.1 626.5,386.7 644.2,382.5 662.0,387.2 679.8,380.7 697.5,400.5 715.2,391.4 733.0,390.9 750.8,395.0 768.5,390.7 786.2,383.3 804.0,368.3 821.8,390.3 839.5,382.9 857.2,390.1 875.0,398.8 892.8,387.9 910.5,403.3 928.2,411.1 946.0,408.5 963.8,399.1 981.5,415.6 999.2,419.2 1017.0,425.1 1034.8,409.5 1052.5,411.7 1070.2,418.4 1088.0,413.5 1105.8,411.1 1123.5,409.2 1141.2,407.6"/><polyline points="591.0,334.8 608.8,370.8 626.5,389.3 644.2,391.6 662.0,382.7 679.8,394.4 697.5,407.3 715.2,404.9 733.0,377.9 750.8,378.2 768.5,391.2 786.2,385.7 804.0,385.6 821.8,384.0 839.5,385.5 857.2,384.9 875.0,402.5 892.8,384.7 910.5,402.9 928.2,416.3 946.0,412.7 963.8,404.0 981.5,404.0 999.2,405.3 1017.0,406.1 1034.8,408.2 1052.5,420.7 1070.2,406.6 1088.0,414.6 1105.8,413.5 1123.5,413.3 1141.2,407.8"/><polyline points="591.0,345.9 608.8,377.4 626.5,386.9 644.2,390.3 662.0,377.0 679.8,399.9 697.5,400.2 715.2,390.1 733.0,392.7 750.8,387.4 768.5,377.4 786.2,390.8 804.0,390.8 821.8,392.0 839.5,392.5 857.2,378.1 875.0,397.4 892.8,389.7 910.5,413.0 928.2,412.6 946.0,410.7 963.8,403.6 981.5,426.5 999.2,409.8 1017.0,401.9 1034.8,418.0 1052.5,398.7 1070.2,425.5 1088.0,418.3 1105.8,420.8 1123.5,418.6 1141.2,413.5"/><polyline points="591.0,329.8 608.8,371.6 626.5,390.8 644.2,392.7 662.0,397.3 679.8,388.9 697.5,388.1 715.2,396.7 733.0,400.2 750.8,385.4 768.5,377.6 786.2,372.1 804.0,401.4 821.8,376.3 839.5,378.4 857.2,387.5 875.0,400.4 892.8,387.3 910.5,408.6 928.2,406.6 946.0,395.2 963.8,405.5 981.5,394.5 999.2,409.0 1017.0,416.1 1034.8,408.3 1052.5,403.0 1070.2,406.9 1088.0,408.7 1105.8,412.8 1123.5,392.0 1141.2,395.5"/><polyline points="591.0,344.0 608.8,375.2 626.5,386.2 644.2,395.7 662.0,392.8 679.8,390.4 697.5,394.9 715.2,399.3 733.0,396.7 750.8,385.1 768.5,376.7 786.2,386.8 804.0,375.8 821.8,379.6 839.5,386.1 857.2,393.9 875.0,401.6 892.8,399.9 910.5,407.8 928.2,401.4 946.0,403.9 963.8,402.0 981.5,417.7 999.2,413.6 1017.0,404.8 1034.8,403.3 1052.5,419.8 1070.2,403.1 1088.0,412.9 1105.8,411.4 1123.5,418.4 1141.2,403.1"/><polyline points="591.0,343.6 608.8,377.6 626.5,392.3 644.2,404.7 662.0,394.8 679.8,392.2 697.5,400.9 715.2,382.9 733.0,395.5 750.8,377.3 768.5,375.5 786.2,372.5 804.0,372.0 821.8,391.6 839.5,391.9 857.2,393.9 875.0,401.2 892.8,393.3 910.5,400.1 928.2,395.5 946.0,410.1 963.8,410.5 981.5,414.0 999.2,403.8 1017.0,407.8 1034.8,399.4 1052.5,419.1 1070.2,415.7 1088.0,414.2 1105.8,410.0 1123.5,408.9 1141.2,407.2"/><polyline points="591.0,348.7 608.8,371.1 626.5,393.2 644.2,396.4 662.0,386.2 679.8,382.7 697.5,388.0 715.2,393.8 733.0,383.9 750.8,390.1 768.5,394.1 786.2,389.4 804.0,371.8 821.8,366.6 839.5,392.0 857.2,404.9 875.0,390.0 892.8,397.3 910.5,402.0 928.2,399.1 946.0,412.0 963.8,399.8 981.5,410.9 999.2,423.8 1017.0,409.2 1034.8,425.0 1052.5,399.8 1070.2,417.4 1088.0,410.2 1105.8,430.5 1123.5,410.5 1141.2,403.9"/><polyline points="591.0,353.1 608.8,364.0 626.5,389.7 644.2,388.1 662.0,405.1 679.8,393.3 697.5,401.0 715.2,393.9 733.0,385.4 750.8,368.0 768.5,399.4 786.2,387.0 804.0,376.0 821.8,382.7 839.5,393.0 857.2,381.3 875.0,411.2 892.8,391.2 910.5,401.2 928.2,414.4 946.0,405.8 963.8,396.1 981.5,411.4 999.2,413.7 1017.0,419.1 1034.8,402.8 1052.5,401.1 1070.2,415.1 1088.0,406.6 1105.8,392.9 1123.5,405.4 1141.2,415.1"/><polyline points="591.0,334.3 608.8,386.3 626.5,382.0 644.2,393.3 662.0,381.1 679.8,387.7 697.5,392.5 715.2,398.6 733.0,395.5 750.8,393.5 768.5,367.7 786.2,385.2 804.0,383.8 821.8,376.7 839.5,384.7 857.2,387.1 875.0,396.4 892.8,390.2 910.5,408.0 928.2,396.7 946.0,414.1 963.8,407.2 981.5,418.2 999.2,408.9 1017.0,406.0 1034.8,411.1 1052.5,406.3 1070.2,401.7 1088.0,410.1 1105.8,409.5 1123.5,404.8 1141.2,406.9"/><polyline points="591.0,332.2 608.8,377.2 626.5,375.2 644.2,407.6 662.0,394.2 679.8,401.6 697.5,384.4 715.2,396.8 733.0,392.9 750.8,392.9 768.5,392.0 786.2,371.9 804.0,394.2 821.8,373.0 839.5,395.7 857.2,392.6 875.0,383.4 892.8,398.7 910.5,404.3 928.2,396.1 946.0,398.1 963.8,407.8 981.5,393.0 999.2,403.1 1017.0,424.9 1034.8,403.8 1052.5,413.0 1070.2,413.6 1088.0,417.7 1105.8,417.1 1123.5,389.7 1141.2,406.1"/><polyline points="591.0,349.5 608.8,369.7 626.5,400.6 644.2,396.0 662.0,384.2 679.8,398.6 697.5,409.6 715.2,388.6 733.0,398.5 750.8,377.9 768.5,380.3 786.2,385.9 804.0,389.2 821.8,387.9 839.5,386.7 857.2,412.4 875.0,384.3 892.8,378.1 910.5,408.5 928.2,405.5 946.0,392.5 963.8,417.9 981.5,398.4 999.2,398.7 1017.0,413.4 1034.8,415.2 1052.5,429.0 1070.2,397.7 1088.0,399.8 1105.8,407.8 1123.5,406.5 1141.2,409.4"/><polyline points="591.0,334.3 608.8,363.5 626.5,382.4 644.2,399.8 662.0,400.4 679.8,388.7 697.5,398.4 715.2,397.4 733.0,390.1 750.8,382.2 768.5,385.4 786.2,407.6 804.0,386.4 821.8,377.9 839.5,383.8 857.2,388.6 875.0,402.3 892.8,375.6 910.5,395.2 928.2,410.8 946.0,407.4 963.8,404.3 981.5,409.9 999.2,399.3 1017.0,413.0 1034.8,400.9 1052.5,399.7 1070.2,414.1 1088.0,403.6 1105.8,407.2 1123.5,415.1 1141.2,401.6"/><polyline points="591.0,345.0 608.8,394.2 626.5,384.5 644.2,401.9 662.0,400.3 679.8,383.9 697.5,383.0 715.2,394.1 733.0,376.9 750.8,385.5 768.5,387.2 786.2,388.9 804.0,388.8 821.8,395.9 839.5,382.4 857.2,404.1 875.0,397.4 892.8,397.4 910.5,402.9 928.2,411.9 946.0,398.1 963.8,410.0 981.5,413.2 999.2,404.8 1017.0,402.5 1034.8,404.0 1052.5,409.8 1070.2,413.1 1088.0,417.3 1105.8,425.5 1123.5,423.3 1141.2,412.4"/><polyline points="591.0,337.0 608.8,366.4 626.5,392.9 644.2,398.4 662.0,391.9 679.8,392.9 697.5,393.2 715.2,373.3 733.0,393.7 750.8,387.8 768.5,384.2 786.2,376.6 804.0,385.6 821.8,389.1 839.5,399.8 857.2,401.8 875.0,398.0 892.8,392.8 910.5,393.3 928.2,400.4 946.0,393.1 963.8,403.4 981.5,412.8 999.2,418.7 1017.0,417.5 1034.8,410.4 1052.5,418.2 1070.2,408.0 1088.0,394.3 1105.8,411.3 1123.5,410.5 1141.2,396.1"/><polyline points="591.0,335.9 608.8,356.4 626.5,382.3 644.2,404.0 662.0,389.0 679.8,404.8 697.5,396.0 715.2,388.2 733.0,379.8 750.8,391.3 768.5,390.6 786.2,373.1 804.0,381.8 821.8,394.2 839.5,379.1 857.2,396.4 875.0,377.4 892.8,385.7 910.5,410.1 928.2,394.6 946.0,392.5 963.8,392.9 981.5,401.1 999.2,397.4 1017.0,409.3 1034.8,414.7 1052.5,422.6 1070.2,406.9 1088.0,423.3 1105.8,414.7 1123.5,408.4 1141.2,414.4"/><polyline points="591.0,352.5 608.8,388.3 626.5,392.3 644.2,393.4 662.0,400.9 679.8,395.9 697.5,395.5 715.2,396.3 733.0,408.9 750.8,375.5 768.5,384.6 786.2,376.3 804.0,392.2 821.8,394.2 839.5,396.2 857.2,390.3 875.0,393.6 892.8,399.4 910.5,405.7 928.2,406.6 946.0,405.8 963.8,406.4 981.5,403.3 999.2,413.8 1017.0,398.4 1034.8,406.8 1052.5,399.5 1070.2,409.5 1088.0,404.3 1105.8,414.6 1123.5,420.4 1141.2,400.2"/><polyline points="591.0,333.9 608.8,378.9 626.5,397.9 644.2,400.5 662.0,397.8 679.8,393.8 697.5,390.7 715.2,397.4 733.0,398.3 750.8,386.5 768.5,380.5 786.2,372.3 804.0,378.4 821.8,382.2 839.5,375.8 857.2,395.9 875.0,381.7 892.8,390.8 910.5,407.1 928.2,410.8 946.0,406.2 963.8,414.0 981.5,399.4 999.2,404.0 1017.0,419.0 1034.8,403.1 1052.5,409.0 1070.2,396.2 1088.0,419.3 1105.8,416.0 1123.5,404.1 1141.2,396.1"/><polyline points="591.0,342.3 608.8,378.4 626.5,395.6 644.2,409.2 662.0,396.1 679.8,392.4 697.5,392.3 715.2,391.8 733.0,383.1 750.8,377.9 768.5,384.5 786.2,371.9 804.0,374.6 821.8,395.0 839.5,379.7 857.2,399.6 875.0,402.0 892.8,393.3 910.5,410.9 928.2,402.7 946.0,397.1 963.8,403.3 981.5,404.8 999.2,411.2 1017.0,410.8 1034.8,407.0 1052.5,418.8 1070.2,408.6 1088.0,406.9 1105.8,417.7 1123.5,402.2 1141.2,410.2"/><polyline points="591.0,352.1 608.8,376.8 626.5,397.7 644.2,392.2 662.0,390.2 679.8,393.0 697.5,389.8 715.2,391.4 733.0,390.8 750.8,391.7 768.5,388.5 786.2,383.6 804.0,379.3 821.8,411.1 839.5,383.7 857.2,404.6 875.0,383.8 892.8,387.4 910.5,414.2 928.2,395.5 946.0,395.7 963.8,403.9 981.5,398.5 999.2,408.0 1017.0,411.6 1034.8,417.3 1052.5,411.8 1070.2,412.7 1088.0,421.0 1105.8,421.7 1123.5,407.5 1141.2,395.4"/><polyline points="591.0,332.2 608.8,384.9 626.5,382.5 644.2,388.6 662.0,390.7 679.8,407.1 697.5,394.8 715.2,391.3 733.0,388.7 750.8,376.5 768.5,408.0 786.2,385.0 804.0,386.6 821.8,382.8 839.5,393.9 857.2,385.3 875.0,377.9 892.8,388.7 910.5,407.1 928.2,422.5 946.0,403.8 963.8,397.4 981.5,402.5 999.2,404.1 1017.0,404.0 1034.8,411.1 1052.5,412.7 1070.2,405.1 1088.0,419.2 1105.8,409.8 1123.5,411.3 1141.2,406.2"/><polyline points="591.0,343.3 608.8,379.7 626.5,391.7 644.2,387.8 662.0,399.5 679.8,389.8 697.5,395.2 715.2,400.4 733.0,406.6 750.8,381.8 768.5,376.5 786.2,386.6 804.0,395.3 821.8,382.8 839.5,405.0 857.2,378.3 875.0,405.5 892.8,402.8 910.5,413.4 928.2,397.8 946.0,415.4 963.8,413.9 981.5,414.5 999.2,408.6 1017.0,408.5 1034.8,420.9 1052.5,413.3 1070.2,407.6 1088.0,403.7 1105.8,412.6 1123.5,399.5 1141.2,415.1"/><polyline points="591.0,341.7 608.8,364.0 626.5,390.1 644.2,404.2 662.0,396.5 679.8,383.8 697.5,389.6 715.2,401.2 733.0,384.0 750.8,382.4 768.5,394.7 786.2,383.1 804.0,380.8 821.8,391.9 839.5,398.4 857.2,396.6 875.0,382.7 892.8,380.4 910.5,402.4 928.2,389.9 946.0,403.7 963.8,411.7 981.5,383.0 999.2,409.0 1017.0,413.0 1034.8,406.0 1052.5,413.6 1070.2,414.4 1088.0,418.9 1105.8,432.2 1123.5,413.0 1141.2,403.2"/><polyline points="591.0,332.1 608.8,366.4 626.5,392.1 644.2,397.1 662.0,398.2 679.8,396.0 697.5,407.3 715.2,403.2 733.0,402.6 750.8,379.9 768.5,382.8 786.2,374.9 804.0,380.1 821.8,386.1 839.5,375.5 857.2,388.2 875.0,409.7 892.8,391.9 910.5,392.3 928.2,394.3 946.0,403.7 963.8,411.2 981.5,403.7 999.2,417.4 1017.0,412.9 1034.8,401.4 1052.5,418.7 1070.2,406.7 1088.0,425.6 1105.8,405.6 1123.5,409.2 1141.2,406.0"/><polyline points="591.0,338.2 608.8,380.1 626.5,384.9 644.2,404.0 662.0,397.8 679.8,407.2 697.5,395.0 715.2,404.8 733.0,404.1 750.8,384.3 768.5,405.9 786.2,397.7 804.0,389.9 821.8,383.9 839.5,384.8 857.2,392.1 875.0,395.8 892.8,384.4 910.5,405.0 928.2,399.7 946.0,418.0 963.8,410.7 981.5,418.0 999.2,429.8 1017.0,414.4 1034.8,426.8 1052.5,413.6 1070.2,415.7 1088.0,403.0 1105.8,411.3 1123.5,422.1 1141.2,414.6"/><polyline points="591.0,337.6 608.8,376.7 626.5,380.7 644.2,389.2 662.0,383.0 679.8,403.6 697.5,403.4 715.2,393.7 733.0,383.8 750.8,383.7 768.5,401.8 786.2,374.9 804.0,381.6 821.8,381.8 839.5,392.1 857.2,383.4 875.0,395.8 892.8,387.0 910.5,401.8 928.2,394.8 946.0,408.9 963.8,400.7 981.5,399.9 999.2,419.5 1017.0,413.4 1034.8,429.7 1052.5,414.0 1070.2,411.3 1088.0,411.7 1105.8,432.8 1123.5,420.7 1141.2,408.4"/><polyline points="591.0,343.3 608.8,372.5 626.5,392.0 644.2,390.6 662.0,390.2 679.8,398.3 697.5,405.6 715.2,401.6 733.0,400.7 750.8,386.0 768.5,366.2 786.2,384.3 804.0,384.0 821.8,390.0 839.5,399.8 857.2,399.8 875.0,379.6 892.8,393.8 910.5,402.7 928.2,410.4 946.0,404.1 963.8,389.2 981.5,397.3 999.2,408.0 1017.0,394.1 1034.8,409.6 1052.5,408.2 1070.2,419.2 1088.0,409.6 1105.8,405.5 1123.5,409.5 1141.2,410.6"/><polyline points="591.0,348.3 608.8,368.8 626.5,368.3 644.2,416.7 662.0,400.6 679.8,394.8 697.5,414.0 715.2,385.2 733.0,388.0 750.8,381.9 768.5,389.4 786.2,381.7 804.0,391.7 821.8,382.6 839.5,395.9 857.2,397.2 875.0,380.0 892.8,393.1 910.5,395.1 928.2,403.2 946.0,404.4 963.8,422.5 981.5,402.4 999.2,397.3 1017.0,411.2 1034.8,400.9 1052.5,425.1 1070.2,416.1 1088.0,423.1 1105.8,407.1 1123.5,401.8 1141.2,412.7"/><polyline points="591.0,329.1 608.8,368.4 626.5,380.1 644.2,393.1 662.0,381.9 679.8,377.5 697.5,405.9 715.2,389.8 733.0,392.8 750.8,390.1 768.5,388.8 786.2,379.9 804.0,381.6 821.8,398.4 839.5,395.5 857.2,399.4 875.0,406.9 892.8,378.0 910.5,405.4 928.2,402.1 946.0,388.7 963.8,407.1 981.5,409.6 999.2,412.5 1017.0,395.7 1034.8,408.6 1052.5,412.1 1070.2,408.5 1088.0,412.7 1105.8,414.5 1123.5,422.0 1141.2,412.4"/><polyline points="591.0,361.9 608.8,378.2 626.5,388.8 644.2,400.9 662.0,393.9 679.8,391.9 697.5,404.6 715.2,377.1 733.0,380.1 750.8,402.5 768.5,391.5 786.2,390.0 804.0,388.0 821.8,387.9 839.5,377.8 857.2,391.2 875.0,385.2 892.8,403.0 910.5,409.8 928.2,406.5 946.0,407.8 963.8,403.5 981.5,395.2 999.2,424.5 1017.0,415.9 1034.8,409.2 1052.5,415.4 1070.2,421.0 1088.0,420.3 1105.8,416.0 1123.5,417.4 1141.2,408.8"/><polyline points="591.0,351.7 608.8,384.4 626.5,394.4 644.2,384.1 662.0,399.9 679.8,400.1 697.5,401.2 715.2,373.4 733.0,379.3 750.8,387.9 768.5,377.8 786.2,388.7 804.0,384.8 821.8,392.6 839.5,380.9 857.2,384.8 875.0,397.8 892.8,391.2 910.5,394.8 928.2,388.2 946.0,430.2 963.8,401.5 981.5,402.4 999.2,394.3 1017.0,402.0 1034.8,409.1 1052.5,413.1 1070.2,416.8 1088.0,404.2 1105.8,414.3 1123.5,419.8 1141.2,406.2"/><polyline points="591.0,339.8 608.8,361.5 626.5,379.6 644.2,383.0 662.0,399.8 679.8,392.8 697.5,407.4 715.2,395.9 733.0,400.9 750.8,389.6 768.5,387.0 786.2,376.5 804.0,399.0 821.8,384.6 839.5,370.2 857.2,388.6 875.0,384.3 892.8,403.1 910.5,413.0 928.2,417.0 946.0,422.4 963.8,399.0 981.5,388.8 999.2,402.6 1017.0,413.7 1034.8,388.0 1052.5,405.4 1070.2,417.3 1088.0,403.3 1105.8,409.4 1123.5,402.8 1141.2,424.8"/><polyline points="591.0,356.5 608.8,367.9 626.5,379.4 644.2,395.5 662.0,400.2 679.8,398.0 697.5,400.0 715.2,402.8 733.0,404.8 750.8,401.4 768.5,387.4 786.2,382.1 804.0,385.5 821.8,404.7 839.5,393.2 857.2,400.2 875.0,405.4 892.8,404.6 910.5,424.9 928.2,398.6 946.0,407.0 963.8,411.6 981.5,412.2 999.2,408.1 1017.0,397.8 1034.8,409.0 1052.5,405.5 1070.2,410.4 1088.0,420.4 1105.8,417.0 1123.5,401.7 1141.2,404.9"/><polyline points="591.0,342.8 608.8,386.6 626.5,386.6 644.2,396.9 662.0,382.5 679.8,391.0 697.5,388.4 715.2,396.6 733.0,392.7 750.8,378.6 768.5,376.8 786.2,387.5 804.0,380.3 821.8,395.1 839.5,386.9 857.2,391.4 875.0,401.2 892.8,383.7 910.5,412.2 928.2,398.6 946.0,410.6 963.8,398.9 981.5,396.6 999.2,395.2 1017.0,410.8 1034.8,414.4 1052.5,398.8 1070.2,425.1 1088.0,410.3 1105.8,401.0 1123.5,426.6 1141.2,407.0"/><polyline points="591.0,352.5 608.8,353.0 626.5,404.2 644.2,395.9 662.0,394.3 679.8,397.0 697.5,384.7 715.2,402.0 733.0,397.9 750.8,388.0 768.5,380.6 786.2,375.6 804.0,388.3 821.8,392.1 839.5,386.4 857.2,391.6 875.0,388.9 892.8,399.2 910.5,416.3 928.2,403.0 946.0,397.2 963.8,424.6 981.5,391.4 999.2,412.4 1017.0,409.4 1034.8,421.1 1052.5,409.1 1070.2,396.5 1088.0,400.8 1105.8,411.1 1123.5,410.0 1141.2,404.7"/><polyline points="591.0,335.6 608.8,363.3 626.5,374.0 644.2,389.0 662.0,388.5 679.8,393.1 697.5,384.5 715.2,407.1 733.0,379.8 750.8,392.4 768.5,389.8 786.2,398.4 804.0,396.7 821.8,374.5 839.5,388.3 857.2,399.7 875.0,401.2 892.8,397.7 910.5,399.7 928.2,415.1 946.0,403.5 963.8,400.5 981.5,406.0 999.2,406.8 1017.0,405.0 1034.8,411.5 1052.5,432.2 1070.2,413.2 1088.0,411.2 1105.8,406.8 1123.5,413.4 1141.2,400.8"/><polyline points="591.0,344.6 608.8,378.8 626.5,387.3 644.2,398.5 662.0,392.9 679.8,400.0 697.5,399.0 715.2,399.2 733.0,394.6 750.8,392.8 768.5,384.1 786.2,396.2 804.0,384.7 821.8,396.1 839.5,387.7 857.2,393.3 875.0,385.3 892.8,398.8 910.5,407.5 928.2,405.0 946.0,407.9 963.8,405.7 981.5,397.1 999.2,401.0 1017.0,415.8 1034.8,412.1 1052.5,423.1 1070.2,427.1 1088.0,417.4 1105.8,415.9 1123.5,415.3 1141.2,411.5"/><polyline points="591.0,335.4 608.8,355.0 626.5,392.9 644.2,399.5 662.0,394.9 679.8,395.7 697.5,402.6 715.2,402.2 733.0,396.2 750.8,383.6 768.5,390.6 786.2,392.2 804.0,403.8 821.8,378.2 839.5,389.7 857.2,386.4 875.0,389.9 892.8,412.9 910.5,401.2 928.2,403.6 946.0,399.9 963.8,411.7 981.5,401.2 999.2,396.9 1017.0,411.8 1034.8,417.4 1052.5,410.4 1070.2,411.9 1088.0,404.9 1105.8,402.9 1123.5,410.6 1141.2,401.2"/><polyline points="591.0,336.9 608.8,368.4 626.5,384.6 644.2,401.0 662.0,394.2 679.8,403.8 697.5,397.5 715.2,393.4 733.0,387.0 750.8,386.3 768.5,375.9 786.2,391.7 804.0,374.4 821.8,374.0 839.5,378.4 857.2,379.6 875.0,394.2 892.8,387.0 910.5,400.6 928.2,409.4 946.0,386.2 963.8,402.3 981.5,407.3 999.2,418.7 1017.0,411.4 1034.8,404.8 1052.5,418.0 1070.2,418.0 1088.0,428.5 1105.8,428.0 1123.5,408.7 1141.2,421.6"/><polyline points="591.0,342.1 608.8,368.0 626.5,392.2 644.2,405.1 662.0,375.0 679.8,405.3 697.5,387.5 715.2,407.6 733.0,396.3 750.8,386.6 768.5,396.8 786.2,382.6 804.0,402.5 821.8,377.5 839.5,380.4 857.2,384.4 875.0,397.8 892.8,392.7 910.5,410.9 928.2,413.3 946.0,410.8 963.8,413.1 981.5,413.2 999.2,409.6 1017.0,404.2 1034.8,402.2 1052.5,416.3 1070.2,405.8 1088.0,402.2 1105.8,403.3 1123.5,408.3 1141.2,412.0"/><polyline points="591.0,338.0 608.8,367.6 626.5,390.5 644.2,375.7 662.0,391.3 679.8,402.5 697.5,396.1 715.2,403.7 733.0,394.8 750.8,389.6 768.5,385.2 786.2,381.3 804.0,387.9 821.8,392.8 839.5,368.6 857.2,386.1 875.0,375.5 892.8,385.0 910.5,393.1 928.2,399.7 946.0,401.2 963.8,411.4 981.5,413.6 999.2,402.9 1017.0,405.5 1034.8,414.6 1052.5,404.2 1070.2,406.1 1088.0,394.3 1105.8,415.4 1123.5,411.6 1141.2,401.6"/><polyline points="591.0,328.6 608.8,366.7 626.5,389.0 644.2,389.5 662.0,383.5 679.8,390.8 697.5,400.5 715.2,403.7 733.0,404.5 750.8,385.6 768.5,386.7 786.2,387.0 804.0,390.1 821.8,389.5 839.5,376.8 857.2,386.7 875.0,389.6 892.8,398.5 910.5,399.6 928.2,397.4 946.0,412.1 963.8,415.7 981.5,396.3 999.2,408.6 1017.0,419.2 1034.8,406.5 1052.5,417.2 1070.2,398.2 1088.0,408.0 1105.8,415.1 1123.5,422.2 1141.2,417.5"/><polyline points="591.0,326.5 608.8,363.2 626.5,378.6 644.2,400.5 662.0,399.7 679.8,402.6 697.5,399.4 715.2,389.0 733.0,390.6 750.8,377.4 768.5,391.5 786.2,374.4 804.0,385.2 821.8,386.7 839.5,394.7 857.2,386.5 875.0,396.0 892.8,384.5 910.5,412.1 928.2,400.7 946.0,401.2 963.8,395.9 981.5,398.7 999.2,404.4 1017.0,404.7 1034.8,419.1 1052.5,401.6 1070.2,411.7 1088.0,416.5 1105.8,400.5 1123.5,392.2 1141.2,413.5"/><polyline points="591.0,326.3 608.8,369.4 626.5,384.9 644.2,395.9 662.0,391.5 679.8,388.0 697.5,401.8 715.2,395.5 733.0,409.4 750.8,377.4 768.5,384.0 786.2,384.4 804.0,389.1 821.8,386.6 839.5,384.9 857.2,408.7 875.0,391.4 892.8,396.3 910.5,405.3 928.2,398.8 946.0,409.8 963.8,388.6 981.5,413.0 999.2,397.1 1017.0,407.2 1034.8,410.6 1052.5,405.8 1070.2,405.5 1088.0,419.5 1105.8,429.2 1123.5,418.2 1141.2,411.1"/><polyline points="591.0,334.7 608.8,369.5 626.5,395.6 644.2,401.0 662.0,404.5 679.8,401.9 697.5,404.5 715.2,388.9 733.0,387.4 750.8,376.5 768.5,384.5 786.2,383.2 804.0,385.6 821.8,375.0 839.5,386.1 857.2,399.3 875.0,393.4 892.8,370.9 910.5,403.5 928.2,400.8 946.0,411.2 963.8,402.4 981.5,408.9 999.2,406.6 1017.0,412.4 1034.8,417.6 1052.5,407.5 1070.2,412.2 1088.0,411.0 1105.8,414.7 1123.5,408.8 1141.2,413.6"/><polyline points="591.0,324.9 608.8,373.9 626.5,392.4 644.2,399.1 662.0,385.9 679.8,387.3 697.5,396.9 715.2,396.6 733.0,397.5 750.8,385.2 768.5,385.6 786.2,393.1 804.0,377.2 821.8,373.6 839.5,392.8 857.2,386.6 875.0,398.2 892.8,387.2 910.5,394.8 928.2,416.1 946.0,403.1 963.8,392.4 981.5,401.9 999.2,408.3 1017.0,408.0 1034.8,411.0 1052.5,400.4 1070.2,407.3 1088.0,413.2 1105.8,414.6 1123.5,410.3 1141.2,403.2"/><polyline points="591.0,323.8 608.8,387.3 626.5,376.6 644.2,390.0 662.0,393.7 679.8,397.2 697.5,393.4 715.2,387.1 733.0,393.3 750.8,401.2 768.5,404.7 786.2,382.9 804.0,389.8 821.8,370.6 839.5,386.3 857.2,398.4 875.0,390.2 892.8,407.3 910.5,410.7 928.2,408.6 946.0,382.7 963.8,398.8 981.5,409.4 999.2,405.7 1017.0,395.6 1034.8,405.1 1052.5,421.9 1070.2,415.2 1088.0,416.7 1105.8,411.3 1123.5,422.7 1141.2,387.2"/><polyline points="591.0,330.1 608.8,391.1 626.5,394.2 644.2,395.7 662.0,391.0 679.8,379.2 697.5,390.3 715.2,392.6 733.0,386.3 750.8,395.8 768.5,393.0 786.2,382.5 804.0,392.0 821.8,384.4 839.5,386.9 857.2,388.9 875.0,412.7 892.8,380.8 910.5,402.6 928.2,412.1 946.0,412.0 963.8,390.8 981.5,396.2 999.2,409.0 1017.0,403.4 1034.8,404.4 1052.5,407.8 1070.2,408.5 1088.0,418.7 1105.8,396.1 1123.5,418.3 1141.2,408.0"/><polyline points="591.0,344.5 608.8,373.0 626.5,404.7 644.2,379.4 662.0,403.3 679.8,390.2 697.5,392.0 715.2,405.3 733.0,392.2 750.8,392.1 768.5,396.5 786.2,380.1 804.0,401.1 821.8,395.0 839.5,383.1 857.2,394.7 875.0,387.2 892.8,395.3 910.5,410.9 928.2,412.0 946.0,405.7 963.8,399.8 981.5,398.8 999.2,402.3 1017.0,407.7 1034.8,414.8 1052.5,405.3 1070.2,404.5 1088.0,401.4 1105.8,414.5 1123.5,407.8 1141.2,396.9"/><polyline points="591.0,348.8 608.8,384.4 626.5,386.1 644.2,391.1 662.0,393.6 679.8,386.5 697.5,402.0 715.2,405.0 733.0,402.2 750.8,386.8 768.5,386.8 786.2,389.2 804.0,398.6 821.8,378.5 839.5,384.8 857.2,387.4 875.0,383.2 892.8,395.6 910.5,413.0 928.2,395.4 946.0,411.8 963.8,409.3 981.5,407.7 999.2,420.8 1017.0,404.6 1034.8,422.9 1052.5,407.0 1070.2,414.3 1088.0,397.5 1105.8,417.7 1123.5,410.1 1141.2,405.4"/><polyline points="591.0,331.7 608.8,377.5 626.5,396.5 644.2,398.1 662.0,391.2 679.8,387.7 697.5,385.5 715.2,391.2 733.0,381.0 750.8,381.8 768.5,393.6 786.2,384.4 804.0,383.6 821.8,380.0 839.5,390.5 857.2,397.9 875.0,404.2 892.8,387.2 910.5,394.9 928.2,398.9 946.0,393.9 963.8,403.4 981.5,400.3 999.2,402.9 1017.0,409.3 1034.8,417.8 1052.5,415.5 1070.2,404.7 1088.0,410.0 1105.8,412.2 1123.5,415.0 1141.2,407.0"/><polyline points="591.0,329.4 608.8,378.5 626.5,377.9 644.2,390.7 662.0,391.6 679.8,401.1 697.5,389.9 715.2,395.0 733.0,392.0 750.8,380.3 768.5,391.7 786.2,381.0 804.0,388.5 821.8,387.0 839.5,369.9 857.2,379.5 875.0,367.5 892.8,395.0 910.5,405.8 928.2,399.5 946.0,399.5 963.8,401.1 981.5,398.7 999.2,409.4 1017.0,409.4 1034.8,402.6 1052.5,421.1 1070.2,417.8 1088.0,406.5 1105.8,427.1 1123.5,429.3 1141.2,419.6"/><polyline points="591.0,349.3 608.8,371.1 626.5,383.2 644.2,381.1 662.0,390.4 679.8,401.6 697.5,390.5 715.2,380.4 733.0,406.6 750.8,400.5 768.5,396.9 786.2,372.6 804.0,391.4 821.8,378.2 839.5,383.7 857.2,398.4 875.0,405.0 892.8,387.8 910.5,401.0 928.2,393.7 946.0,403.9 963.8,396.0 981.5,399.8 999.2,415.9 1017.0,409.7 1034.8,410.8 1052.5,412.1 1070.2,416.2 1088.0,420.9 1105.8,400.5 1123.5,396.9 1141.2,414.0"/><polyline points="591.0,345.4 608.8,387.0 626.5,392.1 644.2,407.7 662.0,397.9 679.8,388.7 697.5,401.9 715.2,386.7 733.0,388.3 750.8,388.1 768.5,382.8 786.2,392.3 804.0,381.8 821.8,399.5 839.5,376.6 857.2,398.5 875.0,389.1 892.8,404.2 910.5,399.2 928.2,410.0 946.0,378.4 963.8,397.9 981.5,417.2 999.2,411.4 1017.0,410.6 1034.8,417.0 1052.5,429.3 1070.2,401.1 1088.0,409.3 1105.8,406.2 1123.5,415.6 1141.2,404.3"/><polyline points="591.0,327.4 608.8,363.7 626.5,391.3 644.2,395.6 662.0,400.9 679.8,381.1 697.5,386.7 715.2,389.6 733.0,400.8 750.8,388.5 768.5,383.6 786.2,376.9 804.0,386.5 821.8,381.2 839.5,392.1 857.2,407.0 875.0,393.9 892.8,384.0 910.5,423.1 928.2,409.1 946.0,408.3 963.8,404.9 981.5,405.4 999.2,410.8 1017.0,412.1 1034.8,398.0 1052.5,404.3 1070.2,409.3 1088.0,411.2 1105.8,411.6 1123.5,413.5 1141.2,395.4"/><polyline points="591.0,332.3 608.8,370.7 626.5,387.1 644.2,392.5 662.0,410.0 679.8,391.0 697.5,392.1 715.2,381.6 733.0,408.7 750.8,385.7 768.5,384.1 786.2,379.9 804.0,385.8 821.8,382.2 839.5,394.8 857.2,386.6 875.0,389.6 892.8,388.8 910.5,408.8 928.2,406.7 946.0,412.0 963.8,408.4 981.5,408.7 999.2,410.5 1017.0,417.4 1034.8,414.0 1052.5,412.8 1070.2,397.2 1088.0,406.3 1105.8,404.6 1123.5,395.5 1141.2,420.6"/><polyline points="591.0,351.7 608.8,384.8 626.5,390.7 644.2,406.0 662.0,380.6 679.8,404.3 697.5,377.8 715.2,395.3 733.0,395.0 750.8,389.2 768.5,390.3 786.2,390.8 804.0,379.4 821.8,379.6 839.5,378.3 857.2,394.0 875.0,390.3 892.8,380.2 910.5,411.7 928.2,394.8 946.0,400.1 963.8,398.0 981.5,398.0 999.2,414.6 1017.0,404.4 1034.8,398.4 1052.5,404.7 1070.2,401.7 1088.0,397.6 1105.8,417.3 1123.5,419.2 1141.2,398.4"/><polyline points="591.0,352.5 608.8,390.6 626.5,374.8 644.2,397.3 662.0,391.7 679.8,400.6 697.5,370.4 715.2,398.9 733.0,391.0 750.8,388.8 768.5,392.0 786.2,366.0 804.0,384.5 821.8,384.9 839.5,389.8 857.2,402.1 875.0,399.0 892.8,386.8 910.5,409.6 928.2,397.9 946.0,410.1 963.8,402.6 981.5,402.5 999.2,411.0 1017.0,397.2 1034.8,407.4 1052.5,400.4 1070.2,417.4 1088.0,420.2 1105.8,398.4 1123.5,392.0 1141.2,411.9"/><polyline points="591.0,335.4 608.8,368.5 626.5,404.3 644.2,390.6 662.0,385.7 679.8,391.7 697.5,396.3 715.2,406.6 733.0,396.4 750.8,374.9 768.5,381.0 786.2,399.7 804.0,371.0 821.8,384.6 839.5,394.4 857.2,395.1 875.0,391.3 892.8,385.9 910.5,405.3 928.2,408.2 946.0,405.8 963.8,412.2 981.5,405.6 999.2,420.4 1017.0,411.1 1034.8,417.3 1052.5,407.4 1070.2,424.0 1088.0,420.1 1105.8,415.6 1123.5,402.1 1141.2,411.6"/><polyline points="591.0,316.5 608.8,373.1 626.5,387.4 644.2,387.1 662.0,395.3 679.8,399.4 697.5,408.6 715.2,394.2 733.0,381.5 750.8,366.2 768.5,383.8 786.2,392.3 804.0,394.1 821.8,385.9 839.5,379.8 857.2,387.5 875.0,392.0 892.8,393.8 910.5,408.9 928.2,405.1 946.0,420.2 963.8,405.4 981.5,408.1 999.2,418.5 1017.0,417.7 1034.8,405.0 1052.5,397.2 1070.2,399.7 1088.0,413.1 1105.8,414.9 1123.5,412.9 1141.2,416.5"/><polyline points="591.0,350.6 608.8,370.0 626.5,406.7 644.2,415.6 662.0,400.3 679.8,392.8 697.5,396.3 715.2,383.0 733.0,394.4 750.8,378.7 768.5,384.5 786.2,382.7 804.0,401.8 821.8,378.3 839.5,387.7 857.2,390.0 875.0,406.0 892.8,401.8 910.5,392.0 928.2,396.4 946.0,406.5 963.8,399.3 981.5,407.9 999.2,410.9 1017.0,401.6 1034.8,407.9 1052.5,414.1 1070.2,409.7 1088.0,411.4 1105.8,413.3 1123.5,409.3 1141.2,421.1"/><polyline points="591.0,330.1 608.8,380.0 626.5,382.1 644.2,397.5 662.0,401.0 679.8,399.4 697.5,399.7 715.2,400.4 733.0,398.6 750.8,383.4 768.5,391.2 786.2,393.1 804.0,392.2 821.8,387.5 839.5,387.5 857.2,377.3 875.0,386.7 892.8,391.7 910.5,412.3 928.2,413.9 946.0,405.4 963.8,395.2 981.5,408.1 999.2,418.2 1017.0,416.4 1034.8,404.6 1052.5,401.6 1070.2,403.0 1088.0,401.6 1105.8,418.2 1123.5,412.7 1141.2,427.5"/><polyline points="591.0,353.4 608.8,384.3 626.5,380.7 644.2,399.5 662.0,397.8 679.8,382.9 697.5,384.0 715.2,388.3 733.0,404.3 750.8,382.0 768.5,374.1 786.2,385.9 804.0,390.0 821.8,375.4 839.5,400.5 857.2,387.1 875.0,401.6 892.8,398.6 910.5,398.2 928.2,403.2 946.0,404.3 963.8,401.2 981.5,410.2 999.2,410.6 1017.0,396.2 1034.8,410.8 1052.5,400.9 1070.2,408.2 1088.0,412.0 1105.8,409.2 1123.5,418.3 1141.2,409.5"/><polyline points="591.0,335.9 608.8,389.4 626.5,392.0 644.2,393.0 662.0,394.1 679.8,390.8 697.5,394.7 715.2,386.3 733.0,408.3 750.8,395.0 768.5,367.0 786.2,377.3 804.0,384.7 821.8,379.8 839.5,367.9 857.2,398.6 875.0,383.5 892.8,398.5 910.5,407.7 928.2,416.3 946.0,396.8 963.8,418.7 981.5,394.1 999.2,422.1 1017.0,418.6 1034.8,413.6 1052.5,401.3 1070.2,423.1 1088.0,416.6 1105.8,396.7 1123.5,389.1 1141.2,404.7"/><polyline points="591.0,333.1 608.8,381.8 626.5,387.2 644.2,396.6 662.0,389.9 679.8,401.7 697.5,389.4 715.2,381.9 733.0,374.7 750.8,389.3 768.5,380.1 786.2,371.2 804.0,378.0 821.8,381.9 839.5,390.6 857.2,375.9 875.0,389.8 892.8,399.1 910.5,407.9 928.2,410.7 946.0,420.1 963.8,397.2 981.5,399.3 999.2,418.9 1017.0,423.3 1034.8,413.0 1052.5,407.7 1070.2,401.0 1088.0,415.3 1105.8,413.2 1123.5,401.7 1141.2,406.1"/><polyline points="591.0,332.4 608.8,381.1 626.5,385.2 644.2,404.4 662.0,405.3 679.8,397.1 697.5,404.0 715.2,402.9 733.0,406.6 750.8,381.7 768.5,390.6 786.2,400.5 804.0,390.9 821.8,382.3 839.5,387.6 857.2,412.1 875.0,390.5 892.8,388.6 910.5,412.0 928.2,401.7 946.0,392.1 963.8,392.0 981.5,404.8 999.2,405.7 1017.0,422.6 1034.8,405.9 1052.5,399.5 1070.2,404.5 1088.0,400.7 1105.8,420.2 1123.5,404.4 1141.2,422.9"/><polyline points="591.0,345.4 608.8,393.2 626.5,385.9 644.2,401.6 662.0,377.8 679.8,391.0 697.5,388.8 715.2,404.1 733.0,393.8 750.8,391.3 768.5,380.0 786.2,375.4 804.0,385.1 821.8,396.4 839.5,385.4 857.2,406.6 875.0,391.2 892.8,391.0 910.5,402.0 928.2,402.7 946.0,399.2 963.8,402.9 981.5,398.3 999.2,402.5 1017.0,423.2 1034.8,418.0 1052.5,408.4 1070.2,405.9 1088.0,398.1 1105.8,415.6 1123.5,405.4 1141.2,426.5"/><polyline points="591.0,326.7 608.8,379.6 626.5,396.7 644.2,390.5 662.0,411.4 679.8,403.1 697.5,402.9 715.2,387.9 733.0,403.3 750.8,394.1 768.5,387.0 786.2,400.6 804.0,388.7 821.8,367.6 839.5,388.8 857.2,408.2 875.0,389.1 892.8,400.1 910.5,399.8 928.2,405.0 946.0,383.0 963.8,390.3 981.5,402.5 999.2,406.3 1017.0,395.8 1034.8,416.7 1052.5,413.8 1070.2,403.7 1088.0,394.1 1105.8,415.5 1123.5,406.8 1141.2,416.7"/><polyline points="591.0,350.0 608.8,373.9 626.5,384.8 644.2,400.9 662.0,392.5 679.8,378.5 697.5,399.5 715.2,397.1 733.0,389.8 750.8,389.7 768.5,382.3 786.2,382.0 804.0,391.8 821.8,374.0 839.5,372.0 857.2,392.0 875.0,382.4 892.8,400.2 910.5,398.1 928.2,390.0 946.0,400.8 963.8,385.9 981.5,415.3 999.2,409.9 1017.0,415.7 1034.8,414.3 1052.5,411.8 1070.2,401.6 1088.0,416.5 1105.8,407.4 1123.5,403.9 1141.2,393.5"/><polyline points="591.0,350.6 608.8,374.2 626.5,382.8 644.2,378.6 662.0,401.7 679.8,393.2 697.5,402.3 715.2,393.8 733.0,387.2 750.8,389.7 768.5,372.3 786.2,372.5 804.0,384.6 821.8,391.2 839.5,394.2 857.2,392.4 875.0,392.2 892.8,394.8 910.5,402.4 928.2,400.0 946.0,408.2 963.8,400.0 981.5,402.4 999.2,419.8 1017.0,411.9 1034.8,405.9 1052.5,415.8 1070.2,409.0 1088.0,415.6 1105.8,403.1 1123.5,403.8 1141.2,398.5"/><polyline points="591.0,349.2 608.8,387.5 626.5,395.7 644.2,397.0 662.0,395.7 679.8,392.2 697.5,398.8 715.2,392.6 733.0,385.9 750.8,393.1 768.5,392.3 786.2,389.3 804.0,384.5 821.8,382.0 839.5,385.8 857.2,394.7 875.0,383.6 892.8,389.4 910.5,395.5 928.2,413.0 946.0,393.1 963.8,394.3 981.5,396.9 999.2,411.3 1017.0,402.5 1034.8,424.1 1052.5,415.9 1070.2,390.7 1088.0,411.8 1105.8,412.8 1123.5,399.8 1141.2,409.2"/><polyline points="591.0,340.6 608.8,370.8 626.5,385.1 644.2,396.6 662.0,389.8 679.8,393.4 697.5,384.2 715.2,398.9 733.0,388.8 750.8,394.7 768.5,401.5 786.2,398.4 804.0,381.2 821.8,388.3 839.5,382.8 857.2,396.6 875.0,386.2 892.8,384.7 910.5,403.5 928.2,397.4 946.0,413.7 963.8,409.7 981.5,406.6 999.2,408.7 1017.0,408.5 1034.8,417.7 1052.5,410.5 1070.2,410.0 1088.0,424.9 1105.8,411.0 1123.5,407.8 1141.2,408.1"/><polyline points="591.0,350.2 608.8,371.9 626.5,382.1 644.2,402.7 662.0,403.3 679.8,405.3 697.5,387.0 715.2,397.5 733.0,389.4 750.8,388.3 768.5,372.2 786.2,383.3 804.0,393.6 821.8,386.6 839.5,365.6 857.2,401.0 875.0,395.9 892.8,390.8 910.5,403.9 928.2,401.4 946.0,413.2 963.8,403.7 981.5,391.1 999.2,403.1 1017.0,423.1 1034.8,419.0 1052.5,416.4 1070.2,403.6 1088.0,414.4 1105.8,418.3 1123.5,410.8 1141.2,415.9"/><polyline points="591.0,349.2 608.8,384.4 626.5,389.7 644.2,397.8 662.0,384.2 679.8,391.7 697.5,400.8 715.2,407.8 733.0,395.6 750.8,393.8 768.5,385.2 786.2,377.3 804.0,388.6 821.8,388.8 839.5,378.0 857.2,386.2 875.0,393.5 892.8,389.0 910.5,408.2 928.2,393.2 946.0,410.7 963.8,399.2 981.5,407.0 999.2,397.6 1017.0,417.7 1034.8,411.8 1052.5,427.1 1070.2,396.8 1088.0,395.4 1105.8,415.9 1123.5,417.3 1141.2,395.8"/><polyline points="591.0,344.4 608.8,383.7 626.5,397.5 644.2,395.2 662.0,381.7 679.8,378.6 697.5,411.0 715.2,397.4 733.0,402.1 750.8,382.6 768.5,383.3 786.2,383.5 804.0,377.6 821.8,382.8 839.5,376.2 857.2,389.8 875.0,402.1 892.8,393.4 910.5,398.7 928.2,418.1 946.0,414.7 963.8,404.5 981.5,390.1 999.2,420.6 1017.0,420.7 1034.8,405.5 1052.5,421.7 1070.2,403.5 1088.0,408.0 1105.8,406.5 1123.5,411.7 1141.2,409.1"/><polyline points="591.0,351.7 608.8,373.4 626.5,389.8 644.2,394.6 662.0,396.2 679.8,387.5 697.5,393.9 715.2,405.3 733.0,400.8 750.8,375.7 768.5,381.9 786.2,377.1 804.0,379.4 821.8,380.0 839.5,375.3 857.2,396.9 875.0,400.5 892.8,394.4 910.5,400.3 928.2,405.5 946.0,398.0 963.8,412.6 981.5,423.0 999.2,388.6 1017.0,413.3 1034.8,410.6 1052.5,411.8 1070.2,408.0 1088.0,398.1 1105.8,409.5 1123.5,406.9 1141.2,409.0"/><polyline points="591.0,339.8 608.8,372.1 626.5,404.6 644.2,384.1 662.0,391.0 679.8,383.9 697.5,392.9 715.2,406.6 733.0,393.8 750.8,378.4 768.5,374.5 786.2,389.5 804.0,379.4 821.8,390.2 839.5,379.5 857.2,388.9 875.0,392.6 892.8,380.0 910.5,413.8 928.2,394.9 946.0,405.3 963.8,407.7 981.5,423.0 999.2,413.9 1017.0,416.9 1034.8,406.0 1052.5,409.0 1070.2,410.0 1088.0,418.7 1105.8,402.1 1123.5,413.4 1141.2,433.1"/><polyline points="591.0,332.4 608.8,361.3 626.5,381.9 644.2,393.1 662.0,407.5 679.8,398.0 697.5,403.3 715.2,388.4 733.0,393.9 750.8,387.5 768.5,378.4 786.2,387.5 804.0,382.9 821.8,387.0 839.5,374.0 857.2,376.8 875.0,404.2 892.8,393.6 910.5,403.5 928.2,425.0 946.0,412.4 963.8,407.9 981.5,399.0 999.2,413.3 1017.0,412.3 1034.8,408.4 1052.5,421.9 1070.2,416.5 1088.0,415.0 1105.8,403.9 1123.5,404.9 1141.2,419.4"/><polyline points="591.0,342.4 608.8,372.1 626.5,389.1 644.2,394.8 662.0,391.1 679.8,393.2 697.5,400.7 715.2,397.3 733.0,387.7 750.8,379.7 768.5,387.9 786.2,377.2 804.0,386.6 821.8,384.6 839.5,375.2 857.2,374.3 875.0,386.8 892.8,393.4 910.5,404.4 928.2,414.5 946.0,404.5 963.8,403.8 981.5,407.4 999.2,406.9 1017.0,424.2 1034.8,405.8 1052.5,403.5 1070.2,406.3 1088.0,420.0 1105.8,405.8 1123.5,404.2 1141.2,415.0"/><polyline points="591.0,349.7 608.8,372.9 626.5,391.8 644.2,389.0 662.0,405.4 679.8,385.7 697.5,392.0 715.2,390.8 733.0,386.8 750.8,384.6 768.5,390.5 786.2,378.6 804.0,400.4 821.8,387.1 839.5,387.8 857.2,387.0 875.0,392.6 892.8,400.2 910.5,396.1 928.2,398.6 946.0,397.5 963.8,393.6 981.5,409.1 999.2,403.6 1017.0,423.2 1034.8,400.0 1052.5,407.3 1070.2,410.4 1088.0,402.1 1105.8,392.9 1123.5,404.8 1141.2,409.9"/><polyline points="591.0,332.4 608.8,378.2 626.5,371.2 644.2,396.4 662.0,410.8 679.8,401.7 697.5,402.0 715.2,391.2 733.0,390.6 750.8,394.0 768.5,382.4 786.2,390.2 804.0,377.2 821.8,388.1 839.5,386.4 857.2,375.2 875.0,392.1 892.8,397.6 910.5,408.3 928.2,407.0 946.0,414.3 963.8,403.5 981.5,397.9 999.2,417.3 1017.0,427.0 1034.8,407.3 1052.5,422.2 1070.2,408.6 1088.0,398.1 1105.8,402.9 1123.5,403.1 1141.2,419.4"/><polyline points="591.0,340.9 608.8,371.6 626.5,387.1 644.2,405.3 662.0,393.4 679.8,388.2 697.5,396.9 715.2,387.3 733.0,398.1 750.8,393.0 768.5,386.5 786.2,381.6 804.0,386.0 821.8,373.7 839.5,397.6 857.2,412.0 875.0,393.2 892.8,376.5 910.5,398.6 928.2,392.4 946.0,389.0 963.8,402.9 981.5,402.7 999.2,405.0 1017.0,418.9 1034.8,410.3 1052.5,402.2 1070.2,413.3 1088.0,399.9 1105.8,407.2 1123.5,403.3 1141.2,412.4"/><polyline points="591.0,337.8 608.8,371.3 626.5,388.1 644.2,397.8 662.0,396.0 679.8,403.0 697.5,385.6 715.2,397.2 733.0,407.4 750.8,385.1 768.5,367.3 786.2,392.8 804.0,383.4 821.8,390.2 839.5,387.2 857.2,398.0 875.0,402.8 892.8,394.0 910.5,410.3 928.2,393.6 946.0,396.8 963.8,403.0 981.5,416.7 999.2,403.4 1017.0,407.2 1034.8,415.3 1052.5,405.8 1070.2,399.6 1088.0,394.2 1105.8,416.3 1123.5,400.9 1141.2,412.8"/><polyline points="591.0,344.1 608.8,368.0 626.5,389.6 644.2,376.8 662.0,393.1 679.8,385.6 697.5,395.8 715.2,395.6 733.0,395.4 750.8,389.9 768.5,379.8 786.2,373.4 804.0,375.0 821.8,393.0 839.5,376.6 857.2,390.2 875.0,395.8 892.8,391.7 910.5,396.0 928.2,387.0 946.0,411.5 963.8,399.3 981.5,390.9 999.2,404.8 1017.0,410.3 1034.8,394.2 1052.5,411.1 1070.2,410.0 1088.0,413.6 1105.8,410.0 1123.5,401.9 1141.2,396.8"/><polyline points="591.0,338.3 608.8,371.7 626.5,398.2 644.2,391.6 662.0,397.2 679.8,394.4 697.5,379.8 715.2,399.9 733.0,390.2 750.8,373.3 768.5,388.2 786.2,394.8 804.0,383.9 821.8,382.6 839.5,379.7 857.2,389.4 875.0,401.7 892.8,393.5 910.5,407.2 928.2,408.4 946.0,380.4 963.8,405.1 981.5,408.4 999.2,411.6 1017.0,397.9 1034.8,403.5 1052.5,415.2 1070.2,413.1 1088.0,413.4 1105.8,400.6 1123.5,412.0 1141.2,421.4"/><polyline points="591.0,340.1 608.8,386.6 626.5,392.7 644.2,400.4 662.0,388.4 679.8,388.6 697.5,388.4 715.2,403.0 733.0,403.8 750.8,376.5 768.5,374.5 786.2,385.8 804.0,395.2 821.8,387.0 839.5,389.8 857.2,396.6 875.0,397.4 892.8,391.7 910.5,407.6 928.2,409.2 946.0,402.9 963.8,417.2 981.5,395.3 999.2,406.7 1017.0,403.1 1034.8,418.3 1052.5,418.4 1070.2,403.8 1088.0,410.4 1105.8,406.2 1123.5,398.9 1141.2,403.4"/><polyline points="591.0,342.4 608.8,380.3 626.5,380.0 644.2,393.8 662.0,400.3 679.8,404.8 697.5,396.5 715.2,387.3 733.0,381.3 750.8,385.3 768.5,382.3 786.2,380.2 804.0,379.3 821.8,380.3 839.5,386.0 857.2,398.2 875.0,386.3 892.8,407.6 910.5,415.1 928.2,401.9 946.0,406.3 963.8,415.9 981.5,396.6 999.2,405.0 1017.0,405.0 1034.8,401.8 1052.5,415.5 1070.2,408.1 1088.0,410.6 1105.8,410.5 1123.5,408.3 1141.2,421.9"/><polyline points="591.0,338.6 608.8,369.1 626.5,375.0 644.2,388.5 662.0,395.4 679.8,395.2 697.5,396.2 715.2,390.6 733.0,397.4 750.8,388.5 768.5,375.4 786.2,388.1 804.0,388.2 821.8,382.8 839.5,393.6 857.2,393.4 875.0,387.0 892.8,400.4 910.5,418.0 928.2,394.8 946.0,403.4 963.8,410.9 981.5,408.8 999.2,418.0 1017.0,420.3 1034.8,395.8 1052.5,415.4 1070.2,397.1 1088.0,402.5 1105.8,401.3 1123.5,413.8 1141.2,396.8"/><polyline points="591.0,340.7 608.8,364.0 626.5,401.8 644.2,389.7 662.0,393.8 679.8,384.6 697.5,389.3 715.2,404.3 733.0,395.9 750.8,375.7 768.5,380.9 786.2,383.7 804.0,398.8 821.8,384.0 839.5,388.4 857.2,401.3 875.0,411.9 892.8,398.1 910.5,395.4 928.2,396.1 946.0,417.5 963.8,407.2 981.5,388.6 999.2,405.9 1017.0,406.3 1034.8,407.2 1052.5,415.0 1070.2,415.3 1088.0,420.6 1105.8,394.9 1123.5,412.3 1141.2,408.3"/><polyline points="591.0,331.5 608.8,382.6 626.5,375.3 644.2,382.9 662.0,406.8 679.8,397.2 697.5,400.5 715.2,404.4 733.0,383.7 750.8,395.9 768.5,385.8 786.2,389.3 804.0,391.4 821.8,390.1 839.5,381.9 857.2,392.9 875.0,394.3 892.8,401.4 910.5,386.4 928.2,415.3 946.0,396.6 963.8,421.4 981.5,407.9 999.2,424.1 1017.0,408.2 1034.8,423.9 1052.5,413.4 1070.2,413.4 1088.0,413.7 1105.8,390.1 1123.5,398.2 1141.2,397.1"/><polyline points="591.0,340.7 608.8,374.3 626.5,392.6 644.2,396.9 662.0,404.0 679.8,388.4 697.5,396.9 715.2,390.0 733.0,384.7 750.8,370.8 768.5,384.2 786.2,377.6 804.0,380.7 821.8,377.2 839.5,376.1 857.2,415.6 875.0,393.3 892.8,382.4 910.5,402.3 928.2,404.1 946.0,392.1 963.8,412.4 981.5,396.4 999.2,414.0 1017.0,406.1 1034.8,403.3 1052.5,435.8 1070.2,404.8 1088.0,397.4 1105.8,405.5 1123.5,401.7 1141.2,418.4"/><polyline points="591.0,343.2 608.8,366.1 626.5,399.9 644.2,391.8 662.0,383.1 679.8,402.4 697.5,398.9 715.2,385.4 733.0,384.5 750.8,383.3 768.5,379.2 786.2,389.0 804.0,386.9 821.8,375.0 839.5,375.8 857.2,390.6 875.0,403.1 892.8,387.4 910.5,408.4 928.2,398.4 946.0,407.1 963.8,399.0 981.5,407.0 999.2,402.3 1017.0,403.5 1034.8,425.2 1052.5,417.0 1070.2,399.4 1088.0,419.0 1105.8,408.1 1123.5,420.5 1141.2,398.6"/><polyline points="591.0,338.7 608.8,372.0 626.5,379.8 644.2,384.0 662.0,409.2 679.8,393.4 697.5,390.9 715.2,380.1 733.0,402.6 750.8,393.6 768.5,383.2 786.2,373.4 804.0,389.2 821.8,384.6 839.5,372.8 857.2,409.5 875.0,398.5 892.8,384.6 910.5,397.0 928.2,410.0 946.0,413.3 963.8,408.5 981.5,407.9 999.2,406.7 1017.0,426.6 1034.8,407.6 1052.5,411.7 1070.2,413.0 1088.0,407.6 1105.8,416.2 1123.5,422.5 1141.2,391.9"/><polyline points="591.0,338.3 608.8,386.2 626.5,397.4 644.2,390.2 662.0,399.5 679.8,395.6 697.5,395.2 715.2,388.9 733.0,402.2 750.8,394.8 768.5,398.0 786.2,387.2 804.0,386.2 821.8,394.3 839.5,412.1 857.2,391.3 875.0,392.5 892.8,407.5 910.5,395.0 928.2,383.6 946.0,412.2 963.8,415.5 981.5,415.0 999.2,418.4 1017.0,419.2 1034.8,404.7 1052.5,418.8 1070.2,402.2 1088.0,397.6 1105.8,408.5 1123.5,399.8 1141.2,401.3"/><polyline points="591.0,335.0 608.8,372.8 626.5,387.4 644.2,385.9 662.0,389.3 679.8,392.9 697.5,395.4 715.2,398.0 733.0,400.4 750.8,387.0 768.5,388.8 786.2,390.6 804.0,385.0 821.8,386.6 839.5,377.8 857.2,395.0 875.0,401.1 892.8,387.8 910.5,414.8 928.2,400.0 946.0,412.9 963.8,417.7 981.5,406.0 999.2,407.0 1017.0,413.8 1034.8,406.9 1052.5,402.8 1070.2,418.6 1088.0,394.6 1105.8,417.5 1123.5,403.8 1141.2,417.7"/><polyline points="591.0,336.0 608.8,390.9 626.5,382.1 644.2,375.9 662.0,417.8 679.8,394.4 697.5,393.1 715.2,394.0 733.0,391.5 750.8,387.5 768.5,378.9 786.2,402.8 804.0,379.4 821.8,390.3 839.5,396.0 857.2,391.3 875.0,400.1 892.8,388.7 910.5,396.0 928.2,397.6 946.0,412.9 963.8,412.6 981.5,396.7 999.2,418.3 1017.0,402.7 1034.8,411.5 1052.5,415.7 1070.2,393.3 1088.0,415.1 1105.8,407.6 1123.5,398.0 1141.2,415.5"/><polyline points="591.0,342.3 608.8,378.9 626.5,383.7 644.2,388.5 662.0,383.2 679.8,392.0 697.5,385.4 715.2,390.3 733.0,397.2 750.8,391.3 768.5,388.3 786.2,387.2 804.0,382.6 821.8,392.5 839.5,394.4 857.2,388.9 875.0,389.3 892.8,384.9 910.5,401.4 928.2,400.3 946.0,419.7 963.8,414.9 981.5,392.9 999.2,416.1 1017.0,407.9 1034.8,395.7 1052.5,411.9 1070.2,404.3 1088.0,412.3 1105.8,414.1 1123.5,404.6 1141.2,422.0"/></g>
<g fill="none" stroke="#000" stroke-width="1" stroke-linejoin="miter"><polyline points="182.8,395.1 200.5,423.7 218.2,401.3 236.0,407.7 253.8,409.3 271.5,413.8 289.2,397.2 307.0,389.1 324.8,407.9 342.5,396.1 360.2,405.1 378.0,422.4 395.8,402.7"/><polyline points="182.8,430.8 200.5,405.9 218.2,411.6 236.0,407.6 253.8,404.2 271.5,416.6 289.2,406.9 307.0,401.8 324.8,404.6 342.5,406.3 360.2,409.3 378.0,409.6 395.8,402.5"/><polyline points="182.8,402.8 200.5,414.8 218.2,401.4 236.0,407.3 253.8,400.0 271.5,389.9 289.2,400.5 307.0,411.1 324.8,414.0 342.5,412.5 360.2,400.4 378.0,402.1 395.8,396.0"/><polyline points="182.8,408.3 200.5,401.1 218.2,409.6 236.0,407.4 253.8,410.2 271.5,405.3 289.2,408.2 307.0,401.3 324.8,400.5 342.5,387.9 360.2,408.3 378.0,407.9 395.8,399.6"/><polyline points="182.8,423.4 200.5,409.9 218.2,408.9 236.0,413.2 253.8,417.7 271.5,422.0 289.2,403.7 307.0,409.6 324.8,395.8 342.5,408.9 360.2,417.7 378.0,416.0 395.8,428.5"/><polyline points="182.8,402.8 200.5,410.4 218.2,420.8 236.0,399.1 253.8,401.4 271.5,409.1 289.2,406.0 307.0,415.1 324.8,405.0 342.5,408.8 360.2,408.4 378.0,410.1 395.8,418.7"/><polyline points="182.8,391.4 200.5,400.3 218.2,403.3 236.0,406.4 253.8,404.8 271.5,403.4 289.2,389.2 307.0,397.6 324.8,405.7 342.5,393.2 360.2,398.8 378.0,399.2 395.8,406.1"/><polyline points="182.8,401.0 200.5,401.6 218.2,409.9 236.0,399.2 253.8,402.0 271.5,399.8 289.2,400.1 307.0,419.1 324.8,384.8 342.5,408.1 360.2,397.8 378.0,404.3 395.8,392.2"/><polyline points="182.8,411.1 200.5,417.1 218.2,397.7 236.0,395.0 253.8,415.5 271.5,421.5 289.2,407.0 307.0,391.6 324.8,395.3 342.5,414.1 360.2,420.0 378.0,406.0 395.8,396.9"/><polyline points="182.8,404.8 200.5,405.2 218.2,405.1 236.0,413.9 253.8,402.7 271.5,411.0 289.2,418.0 307.0,418.0 324.8,419.9 342.5,407.1 360.2,397.2 378.0,411.3 395.8,411.6"/><polyline points="182.8,410.7 200.5,399.6 218.2,413.4 236.0,420.5 253.8,408.3 271.5,407.7 289.2,412.1 307.0,411.4 324.8,411.6 342.5,408.9 360.2,405.3 378.0,419.1 395.8,398.5"/><polyline points="182.8,413.5 200.5,402.9 218.2,398.5 236.0,402.3 253.8,402.7 271.5,419.8 289.2,405.4 307.0,404.7 324.8,402.6 342.5,409.7 360.2,409.7 378.0,414.0 395.8,404.7"/><polyline points="182.8,409.1 200.5,408.2 218.2,395.4 236.0,399.0 253.8,405.2 271.5,398.4 289.2,392.3 307.0,404.1 324.8,400.0 342.5,404.9 360.2,409.0 378.0,399.1 395.8,394.3"/><polyline points="182.8,404.8 200.5,409.8 218.2,401.5 236.0,409.5 253.8,400.5 271.5,399.4 289.2,404.0 307.0,403.2 324.8,402.3 342.5,404.5 360.2,411.2 378.0,399.1 395.8,391.2"/><polyline points="182.8,415.5 200.5,398.9 218.2,411.1 236.0,415.9 253.8,414.3 271.5,421.2 289.2,414.0 307.0,387.1 324.8,412.0 342.5,402.0 360.2,400.9 378.0,395.1 395.8,398.3"/><polyline points="182.8,413.8 200.5,410.3 218.2,414.5 236.0,402.4 253.8,399.1 271.5,419.5 289.2,408.8 307.0,402.7 324.8,410.9 342.5,399.8 360.2,417.1 378.0,395.7 395.8,401.4"/><polyline points="182.8,396.7 200.5,412.3 218.2,410.6 236.0,406.4 253.8,410.3 271.5,402.5 289.2,413.2 307.0,401.7 324.8,398.1 342.5,404.7 360.2,404.5 378.0,408.6 395.8,411.0"/><polyline points="182.8,400.0 200.5,413.9 218.2,421.6 236.0,419.5 253.8,411.1 271.5,410.2 289.2,409.8 307.0,425.1 324.8,410.5 342.5,414.4 360.2,403.0 378.0,418.9 395.8,411.1"/><polyline points="182.8,405.3 200.5,426.3 218.2,410.8 236.0,411.2 253.8,400.7 271.5,395.9 289.2,390.4 307.0,402.0 324.8,407.6 342.5,408.0 360.2,395.6 378.0,411.1 395.8,402.2"/><polyline points="182.8,410.9 200.5,405.2 218.2,405.6 236.0,410.9 253.8,414.9 271.5,415.9 289.2,405.4 307.0,401.5 324.8,413.8 342.5,420.1 360.2,407.0 378.0,407.5 395.8,407.4"/><polyline points="182.8,401.4 200.5,411.5 218.2,418.8 236.0,412.7 253.8,402.7 271.5,397.7 289.2,408.6 307.0,418.3 324.8,414.2 342.5,418.9 360.2,405.7 378.0,408.9 395.8,402.5"/><polyline points="182.8,403.4 200.5,406.3 218.2,413.3 236.0,415.6 253.8,414.9 271.5,426.3 289.2,414.8 307.0,402.5 324.8,417.2 342.5,403.1 360.2,401.3 378.0,414.6 395.8,405.0"/><polyline points="182.8,406.4 200.5,395.1 218.2,414.4 236.0,416.8 253.8,406.1 271.5,416.9 289.2,414.1 307.0,416.6 324.8,418.7 342.5,398.9 360.2,413.8 378.0,406.8 395.8,413.5"/><polyline points="182.8,419.3 200.5,407.1 218.2,410.5 236.0,408.9 253.8,409.1 271.5,414.0 289.2,400.1 307.0,396.9 324.8,415.4 342.5,409.8 360.2,403.9 378.0,402.3 395.8,396.4"/><polyline points="182.8,408.2 200.5,409.2 218.2,402.3 236.0,414.5 253.8,412.6 271.5,408.5 289.2,401.6 307.0,402.3 324.8,400.1 342.5,392.7 360.2,407.0 378.0,412.2 395.8,395.8"/><polyline points="182.8,409.4 200.5,413.8 218.2,415.2 236.0,403.5 253.8,413.9 271.5,405.4 289.2,389.7 307.0,423.3 324.8,408.7 342.5,406.0 360.2,418.2 378.0,411.7 395.8,404.2"/><polyline points="182.8,406.3 200.5,390.4 218.2,408.9 236.0,400.9 253.8,400.1 271.5,408.1 289.2,423.6 307.0,399.0 324.8,410.0 342.5,396.9 360.2,395.9 378.0,405.1 395.8,414.5"/><polyline points="182.8,416.9 200.5,411.5 218.2,403.6 236.0,400.9 253.8,405.7 271.5,410.5 289.2,405.5 307.0,406.1 324.8,403.8 342.5,402.0 360.2,399.1 378.0,402.1 395.8,421.0"/><polyline points="182.8,411.2 200.5,409.4 218.2,416.3 236.0,407.5 253.8,418.7 271.5,411.3 289.2,416.1 307.0,404.6 324.8,423.7 342.5,411.9 360.2,415.2 378.0,404.9 395.8,405.3"/><polyline points="182.8,418.3 200.5,404.8 218.2,416.3 236.0,404.4 253.8,408.9 271.5,409.8 289.2,415.9 307.0,402.9 324.8,413.3 342.5,411.4 360.2,414.9 378.0,403.1 395.8,409.2"/><polyline points="182.8,412.7 200.5,413.6 218.2,398.0 236.0,403.7 253.8,404.3 271.5,397.9 289.2,402.0 307.0,397.0 324.8,408.9 342.5,397.9 360.2,415.2 378.0,390.5 395.8,409.0"/><polyline points="182.8,396.4 200.5,410.1 218.2,399.9 236.0,416.8 253.8,409.6 271.5,408.7 289.2,409.6 307.0,414.3 324.8,408.6 342.5,412.8 360.2,411.5 378.0,405.0 395.8,416.8"/><polyline points="182.8,412.6 200.5,416.7 218.2,403.9 236.0,405.7 253.8,405.3 271.5,407.4 289.2,417.8 307.0,405.7 324.8,407.0 342.5,400.6 360.2,406.6 378.0,399.5 395.8,418.1"/><polyline points="182.8,416.2 200.5,409.7 218.2,408.7 236.0,407.3 253.8,403.2 271.5,390.5 289.2,407.6 307.0,401.2 324.8,399.1 342.5,402.1 360.2,406.1 378.0,411.3 395.8,399.1"/><polyline points="182.8,407.0 200.5,408.8 218.2,401.0 236.0,392.9 253.8,412.6 271.5,412.0 289.2,398.7 307.0,406.0 324.8,411.0 342.5,421.1 360.2,411.8 378.0,407.1 395.8,401.5"/><polyline points="182.8,400.8 200.5,410.2 218.2,406.6 236.0,403.9 253.8,398.3 271.5,406.5 289.2,403.2 307.0,408.5 324.8,398.8 342.5,410.6 360.2,404.9 378.0,419.6 395.8,400.2"/><polyline points="182.8,412.9 200.5,428.0 218.2,421.5 236.0,404.5 253.8,409.2 271.5,420.7 289.2,415.6 307.0,419.8 324.8,416.6 342.5,424.1 360.2,411.8 378.0,405.8 395.8,408.6"/><polyline points="182.8,407.5 200.5,406.2 218.2,405.4 236.0,407.4 253.8,404.9 271.5,414.9 289.2,408.4 307.0,413.3 324.8,397.2 342.5,407.9 360.2,404.2 378.0,393.5 395.8,422.5"/><polyline points="182.8,409.3 200.5,412.2 218.2,400.6 236.0,385.2 253.8,408.4 271.5,403.1 289.2,408.6 307.0,402.7 324.8,413.2 342.5,407.6 360.2,401.3 378.0,421.3 395.8,399.6"/><polyline points="182.8,404.8 200.5,405.5 218.2,397.5 236.0,401.3 253.8,395.3 271.5,398.3 289.2,406.2 307.0,397.6 324.8,406.6 342.5,399.6 360.2,402.0 378.0,399.0 395.8,409.7"/><polyline points="182.8,416.4 200.5,402.5 218.2,409.1 236.0,416.8 253.8,410.1 271.5,400.5 289.2,402.7 307.0,400.7 324.8,418.0 342.5,409.5 360.2,414.5 378.0,414.1 395.8,405.7"/><polyline points="182.8,413.3 200.5,396.2 218.2,410.1 236.0,407.8 253.8,405.2 271.5,412.2 289.2,401.5 307.0,408.7 324.8,392.1 342.5,409.0 360.2,405.5 378.0,423.1 395.8,411.9"/><polyline points="182.8,405.6 200.5,400.3 218.2,418.3 236.0,415.8 253.8,409.6 271.5,410.0 289.2,409.5 307.0,408.3 324.8,413.4 342.5,413.0 360.2,407.6 378.0,403.4 395.8,420.5"/><polyline points="182.8,422.5 200.5,406.4 218.2,404.6 236.0,395.9 253.8,398.2 271.5,415.8 289.2,403.4 307.0,414.2 324.8,398.0 342.5,411.9 360.2,407.1 378.0,403.0 395.8,393.2"/><polyline points="182.8,411.5 200.5,418.2 218.2,404.4 236.0,422.1 253.8,417.7 271.5,416.0 289.2,416.3 307.0,407.1 324.8,410.7 342.5,415.2 360.2,408.3 378.0,421.9 395.8,418.0"/><polyline points="182.8,423.6 200.5,408.7 218.2,406.7 236.0,410.2 253.8,422.6 271.5,415.7 289.2,415.2 307.0,419.9 324.8,420.2 342.5,420.7 360.2,419.2 378.0,414.6 395.8,416.1"/><polyline points="182.8,388.0 200.5,403.3 218.2,404.7 236.0,398.5 253.8,400.2 271.5,411.6 289.2,401.4 307.0,404.1 324.8,417.7 342.5,406.3 360.2,410.6 378.0,407.1 395.8,408.0"/><polyline points="182.8,416.6 200.5,407.6 218.2,408.1 236.0,415.6 253.8,406.6 271.5,392.1 289.2,409.3 307.0,420.3 324.8,403.7 342.5,415.2 360.2,408.2 378.0,399.9 395.8,408.5"/><polyline points="182.8,397.6 200.5,403.1 218.2,400.3 236.0,389.6 253.8,397.4 271.5,408.8 289.2,406.1 307.0,397.6 324.8,395.0 342.5,399.7 360.2,390.8 378.0,402.0 395.8,388.4"/><polyline points="182.8,404.6 200.5,399.9 218.2,405.7 236.0,402.7 253.8,406.5 271.5,412.5 289.2,403.9 307.0,392.4 324.8,407.7 342.5,398.9 360.2,412.9 378.0,411.7 395.8,404.6"/><polyline points="182.8,395.7 200.5,405.8 218.2,410.7 236.0,418.1 253.8,403.4 271.5,401.6 289.2,402.1 307.0,402.9 324.8,409.6 342.5,398.0 360.2,413.8 378.0,398.8 395.8,424.6"/><polyline points="182.8,394.6 200.5,408.6 218.2,392.8 236.0,412.6 253.8,401.9 271.5,408.4 289.2,410.2 307.0,413.3 324.8,416.3 342.5,414.7 360.2,411.9 378.0,402.2 395.8,398.4"/><polyline points="182.8,405.4 200.5,408.8 218.2,415.9 236.0,415.7 253.8,404.8 271.5,399.7 289.2,395.4 307.0,405.8 324.8,406.9 342.5,399.6 360.2,416.8 378.0,422.8 395.8,403.7"/><polyline points="182.8,413.3 200.5,410.4 218.2,408.6 236.0,416.0 253.8,414.2 271.5,406.2 289.2,412.7 307.0,404.9 324.8,408.9 342.5,413.6 360.2,412.6 378.0,398.1 395.8,413.4"/><polyline points="182.8,408.6 200.5,392.8 218.2,395.8 236.0,409.4 253.8,405.8 271.5,388.6 289.2,410.4 307.0,399.1 324.8,395.1 342.5,405.4 360.2,399.0 378.0,403.8 395.8,405.4"/><polyline points="182.8,416.1 200.5,415.0 218.2,416.7 236.0,417.8 253.8,409.8 271.5,417.9 289.2,409.3 307.0,410.2 324.8,413.6 342.5,421.6 360.2,420.2 378.0,393.0 395.8,422.9"/><polyline points="182.8,417.7 200.5,402.0 218.2,399.7 236.0,393.0 253.8,398.7 271.5,413.1 289.2,401.4 307.0,399.7 324.8,410.0 342.5,399.9 360.2,401.7 378.0,401.3 395.8,410.0"/><polyline points="182.8,403.5 200.5,391.6 218.2,403.0 236.0,391.8 253.8,396.1 271.5,401.3 289.2,405.5 307.0,402.8 324.8,412.3 342.5,405.5 360.2,408.7 378.0,401.2 395.8,400.0"/><polyline points="182.8,419.9 200.5,406.1 218.2,416.3 236.0,402.3 253.8,415.1 271.5,413.8 289.2,396.4 307.0,406.9 324.8,416.1 342.5,418.8 360.2,413.7 378.0,407.5 395.8,411.2"/><polyline points="182.8,404.3 200.5,402.7 218.2,407.8 236.0,404.0 253.8,406.9 271.5,402.0 289.2,407.1 307.0,420.4 324.8,395.7 342.5,403.8 360.2,399.5 378.0,406.4 395.8,406.2"/><polyline points="182.8,405.9 200.5,403.6 218.2,406.7 236.0,414.4 253.8,408.8 271.5,402.6 289.2,406.2 307.0,418.8 324.8,400.1 342.5,412.6 360.2,399.8 378.0,393.1 395.8,399.6"/><polyline points="182.8,403.0 200.5,402.4 218.2,401.1 236.0,400.3 253.8,403.6 271.5,390.1 289.2,411.0 307.0,410.0 324.8,408.7 342.5,414.5 360.2,403.7 378.0,407.9 395.8,389.3"/><polyline points="182.8,411.8 200.5,413.5 218.2,406.1 236.0,398.3 253.8,409.8 271.5,413.5 289.2,413.9 307.0,403.6 324.8,400.8 342.5,405.4 360.2,399.9 378.0,391.9 395.8,409.9"/><polyline points="182.8,401.9 200.5,407.7 218.2,399.3 236.0,397.4 253.8,411.3 271.5,394.9 289.2,405.5 307.0,424.8 324.8,416.7 342.5,412.8 360.2,412.3 378.0,406.5 395.8,403.7"/><polyline points="182.8,408.4 200.5,417.4 218.2,412.2 236.0,422.0 253.8,408.1 271.5,406.8 289.2,409.8 307.0,424.2 324.8,419.4 342.5,414.6 360.2,413.4 378.0,415.2 395.8,405.8"/><polyline points="182.8,410.1 200.5,408.6 218.2,410.6 236.0,405.2 253.8,415.3 271.5,411.1 289.2,403.0 307.0,411.6 324.8,406.0 342.5,411.3 360.2,414.6 378.0,405.0 395.8,408.3"/><polyline points="182.8,421.8 200.5,409.8 218.2,399.1 236.0,408.1 253.8,403.4 271.5,424.8 289.2,402.8 307.0,399.4 324.8,412.6 342.5,403.6 360.2,404.6 378.0,405.6 395.8,402.5"/><polyline points="182.8,405.2 200.5,410.6 218.2,419.3 236.0,406.4 253.8,411.9 271.5,400.8 289.2,416.5 307.0,422.1 324.8,408.4 342.5,403.6 360.2,406.4 378.0,417.2 395.8,397.2"/><polyline points="182.8,405.2 200.5,413.1 218.2,415.8 236.0,418.1 253.8,421.4 271.5,403.1 289.2,411.7 307.0,416.7 324.8,413.1 342.5,419.3 360.2,411.5 378.0,409.1 395.8,395.1"/><polyline points="182.8,393.7 200.5,404.1 218.2,406.6 236.0,401.0 253.8,409.1 271.5,397.3 289.2,406.1 307.0,401.0 324.8,391.2 342.5,387.5 360.2,400.5 378.0,413.5 395.8,410.2"/><polyline points="182.8,415.2 200.5,407.0 218.2,418.2 236.0,410.7 253.8,405.1 271.5,436.5 289.2,413.6 307.0,407.9 324.8,414.3 342.5,400.1 360.2,400.0 378.0,422.6 395.8,413.3"/><polyline points="182.8,403.4 200.5,396.6 218.2,413.6 236.0,390.2 253.8,412.9 271.5,396.7 289.2,395.0 307.0,404.3 324.8,394.8 342.5,399.7 360.2,399.9 378.0,386.4 395.8,395.3"/><polyline points="182.8,398.1 200.5,401.3 218.2,414.6 236.0,414.6 253.8,418.7 271.5,400.9 289.2,413.8 307.0,409.6 324.8,398.5 342.5,411.7 360.2,407.9 378.0,403.1 395.8,400.0"/><polyline points="182.8,405.2 200.5,399.9 218.2,399.2 236.0,397.7 253.8,407.5 271.5,403.4 289.2,389.0 307.0,402.6 324.8,405.4 342.5,397.6 360.2,398.6 378.0,397.7 395.8,406.6"/><polyline points="182.8,406.4 200.5,406.3 218.2,416.9 236.0,394.7 253.8,422.6 271.5,396.9 289.2,404.0 307.0,399.7 324.8,406.6 342.5,409.7 360.2,422.7 378.0,414.4 395.8,400.7"/><polyline points="182.8,402.7 200.5,411.9 218.2,409.5 236.0,404.3 253.8,402.5 271.5,412.7 289.2,406.7 307.0,416.3 324.8,413.9 342.5,428.4 360.2,433.7 378.0,436.4 395.8,438.5"/><polyline points="182.8,400.0 200.5,415.9 218.2,423.5 236.0,399.6 253.8,403.4 271.5,411.9 289.2,408.6 307.0,425.0 324.8,406.4 342.5,425.1 360.2,402.4 378.0,406.4 395.8,415.1"/><polyline points="182.8,420.4 200.5,421.9 218.2,423.0 236.0,407.9 253.8,415.0 271.5,406.6 289.2,419.1 307.0,391.7 324.8,403.9 342.5,407.1 360.2,405.1 378.0,420.3 395.8,398.5"/><polyline points="182.8,404.4 200.5,398.0 218.2,411.6 236.0,411.2 253.8,389.2 271.5,389.1 289.2,410.7 307.0,407.5 324.8,393.0 342.5,404.4 360.2,395.6 378.0,410.6 395.8,395.0"/><polyline points="182.8,405.6 200.5,413.0 218.2,408.3 236.0,394.3 253.8,407.0 271.5,397.0 289.2,415.9 307.0,416.8 324.8,413.6 342.5,421.4 360.2,411.1 378.0,416.1 395.8,412.2"/><polyline points="182.8,411.9 200.5,423.0 218.2,401.8 236.0,398.3 253.8,404.1 271.5,421.4 289.2,407.8 307.0,403.8 324.8,403.6 342.5,413.2 360.2,409.4 378.0,418.6 395.8,407.4"/><polyline points="182.8,413.8 200.5,432.1 218.2,408.4 236.0,408.9 253.8,417.0 271.5,402.6 289.2,406.5 307.0,405.9 324.8,411.7 342.5,399.8 360.2,420.3 378.0,410.9 395.8,411.2"/><polyline points="182.8,389.7 200.5,416.0 218.2,400.2 236.0,412.7 253.8,405.5 271.5,405.1 289.2,410.3 307.0,419.0 324.8,406.0 342.5,402.4 360.2,410.1 378.0,388.6 395.8,400.4"/><polyline points="182.8,394.1 200.5,410.3 218.2,401.9 236.0,405.2 253.8,404.3 271.5,401.9 289.2,399.4 307.0,413.6 324.8,410.2 342.5,415.1 360.2,403.0 378.0,406.2 395.8,406.8"/><polyline points="182.8,394.3 200.5,397.4 218.2,399.4 236.0,397.8 253.8,409.3 271.5,408.8 289.2,409.1 307.0,404.2 324.8,413.5 342.5,452.0 360.2,426.1 378.0,421.8 395.8,418.4"/><polyline points="182.8,390.4 200.5,405.7 218.2,400.1 236.0,392.1 253.8,415.4 271.5,407.6 289.2,417.6 307.0,407.3 324.8,411.5 342.5,402.4 360.2,412.0 378.0,404.5 395.8,411.9"/><polyline points="182.8,408.0 200.5,409.0 218.2,402.7 236.0,407.0 253.8,414.6 271.5,416.8 289.2,408.3 307.0,391.2 324.8,413.3 342.5,421.3 360.2,406.1 378.0,401.5 395.8,410.0"/><polyline points="182.8,403.3 200.5,420.6 218.2,414.5 236.0,400.4 253.8,415.4 271.5,406.9 289.2,412.9 307.0,410.5 324.8,408.3 342.5,410.2 360.2,404.8 378.0,402.5 395.8,406.1"/><polyline points="182.8,407.8 200.5,394.5 218.2,412.5 236.0,406.1 253.8,412.7 271.5,411.4 289.2,408.4 307.0,410.5 324.8,395.9 342.5,417.7 360.2,420.5 378.0,411.1 395.8,402.7"/><polyline points="182.8,421.3 200.5,406.2 218.2,400.9 236.0,403.4 253.8,404.0 271.5,414.7 289.2,409.1 307.0,411.4 324.8,406.9 342.5,419.0 360.2,409.5 378.0,411.0 395.8,420.9"/><polyline points="182.8,406.5 200.5,416.6 218.2,411.1 236.0,402.6 253.8,416.8 271.5,397.7 289.2,392.6 307.0,401.1 324.8,394.5 342.5,406.8 360.2,408.5 378.0,406.3 395.8,404.1"/><polyline points="182.8,389.9 200.5,409.5 218.2,406.1 236.0,403.7 253.8,407.5 271.5,392.8 289.2,411.3 307.0,407.9 324.8,412.3 342.5,389.1 360.2,406.0 378.0,403.2 395.8,387.4"/><polyline points="182.8,400.5 200.5,409.1 218.2,410.4 236.0,403.0 253.8,403.7 271.5,411.9 289.2,399.1 307.0,409.9 324.8,416.0 342.5,406.0 360.2,409.0 378.0,406.5 395.8,412.3"/><polyline points="182.8,396.5 200.5,398.2 218.2,409.8 236.0,412.7 253.8,407.0 271.5,411.8 289.2,399.8 307.0,398.8 324.8,391.5 342.5,411.2 360.2,406.6 378.0,402.4 395.8,392.9"/><polyline points="182.8,404.1 200.5,412.1 218.2,405.5 236.0,399.0 253.8,395.5 271.5,404.1 289.2,416.0 307.0,418.6 324.8,398.7 342.5,407.8 360.2,398.8 378.0,406.0 395.8,383.4"/><polyline points="182.8,415.8 200.5,402.3 218.2,408.6 236.0,405.4 253.8,395.4 271.5,409.7 289.2,413.1 307.0,406.8 324.8,409.2 342.5,413.3 360.2,409.4 378.0,404.3 395.8,393.3"/><polyline points="182.8,410.1 200.5,414.4 218.2,404.8 236.0,411.9 253.8,387.2 271.5,406.7 289.2,396.0 307.0,411.5 324.8,413.9 342.5,412.9 360.2,410.5 378.0,413.1 395.8,417.9"/><polyline points="182.8,403.6 200.5,396.0 218.2,410.4 236.0,411.6 253.8,408.4 271.5,401.4 289.2,410.6 307.0,404.5 324.8,424.0 342.5,408.7 360.2,409.1 378.0,402.4 395.8,410.6"/><polyline points="182.8,410.2 200.5,398.9 218.2,412.3 236.0,424.5 253.8,404.1 271.5,409.9 289.2,407.2 307.0,410.6 324.8,407.0 342.5,410.0 360.2,404.5 378.0,414.1 395.8,419.6"/><polyline points="182.8,419.4 200.5,415.0 218.2,418.0 236.0,403.3 253.8,405.4 271.5,414.7 289.2,422.5 307.0,402.8 324.8,411.8 342.5,412.9 360.2,407.2 378.0,412.3 395.8,406.0"/><polyline points="182.8,413.5 200.5,407.6 218.2,410.8 236.0,404.7 253.8,389.4 271.5,422.3 289.2,416.6 307.0,414.4 324.8,411.1 342.5,413.6 360.2,409.1 378.0,412.2 395.8,421.5"/><polyline points="182.8,419.3 200.5,402.2 218.2,407.4 236.0,404.5 253.8,410.1 271.5,410.5 289.2,406.7 307.0,398.7 324.8,398.9 342.5,406.3 360.2,419.0 378.0,392.8 395.8,405.0"/><polyline points="182.8,410.7 200.5,408.2 218.2,414.8 236.0,421.0 253.8,406.7 271.5,411.1 289.2,412.2 307.0,410.1 324.8,409.0 342.5,393.4 360.2,409.6 378.0,401.2 395.8,405.7"/><polyline points="182.8,405.4 200.5,405.3 218.2,406.6 236.0,401.0 253.8,419.9 271.5,421.3 289.2,407.3 307.0,420.3 324.8,414.2 342.5,400.8 360.2,415.3 378.0,413.5 395.8,409.7"/><polyline points="182.8,386.2 200.5,402.7 218.2,400.8 236.0,394.8 253.8,393.8 271.5,412.5 289.2,391.9 307.0,408.2 324.8,403.6 342.5,411.8 360.2,391.1 378.0,403.6 395.8,411.9"/><polyline points="182.8,392.5 200.5,401.6 218.2,414.0 236.0,417.8 253.8,407.1 271.5,413.1 289.2,414.0 307.0,411.1 324.8,400.6 342.5,412.0 360.2,399.4 378.0,407.5 395.8,412.5"/><polyline points="182.8,418.7 200.5,421.6 218.2,417.6 236.0,410.2 253.8,412.8 271.5,410.7 289.2,411.0 307.0,415.9 324.8,418.5 342.5,410.7 360.2,416.0 378.0,412.5 395.8,411.8"/><polyline points="182.8,403.8 200.5,406.7 218.2,411.9 236.0,410.0 253.8,409.8 271.5,400.9 289.2,393.0 307.0,401.7 324.8,404.4 342.5,405.9 360.2,414.3 378.0,406.7 395.8,414.9"/><polyline points="182.8,412.5 200.5,398.1 218.2,394.9 236.0,402.2 253.8,408.6 271.5,414.1 289.2,406.3 307.0,412.7 324.8,406.1 342.5,394.5 360.2,398.3 378.0,394.1 395.8,404.7"/><polyline points="182.8,395.1 200.5,407.6 218.2,405.0 236.0,398.3 253.8,402.5 271.5,399.3 289.2,420.7 307.0,389.1 324.8,386.4 342.5,387.1 360.2,390.7 378.0,398.4 395.8,407.6"/><polyline points="182.8,405.1 200.5,407.6 218.2,399.6 236.0,410.6 253.8,405.7 271.5,407.8 289.2,410.0 307.0,410.2 324.8,411.7 342.5,399.8 360.2,409.4 378.0,394.9 395.8,391.0"/><polyline points="182.8,408.9 200.5,408.0 218.2,411.5 236.0,392.8 253.8,401.5 271.5,403.8 289.2,399.6 307.0,407.7 324.8,409.6 342.5,407.6 360.2,406.2 378.0,422.0 395.8,406.0"/><polyline points="182.8,419.6 200.5,400.1 218.2,399.5 236.0,416.3 253.8,414.7 271.5,412.7 289.2,404.9 307.0,411.4 324.8,396.6 342.5,398.5 360.2,417.8 378.0,397.7 395.8,405.6"/><polyline points="182.8,400.7 200.5,404.3 218.2,412.6 236.0,405.4 253.8,420.2 271.5,407.5 289.2,421.4 307.0,408.3 324.8,417.2 342.5,411.6 360.2,408.9 378.0,398.8 395.8,412.5"/><polyline points="182.8,402.9 200.5,400.0 218.2,399.8 236.0,405.9 253.8,413.2 271.5,404.2 289.2,398.7 307.0,400.6 324.8,398.4 342.5,394.9 360.2,403.8 378.0,401.8 395.8,403.9"/><polyline points="182.8,422.1 200.5,412.0 218.2,413.7 236.0,406.1 253.8,399.2 271.5,400.5 289.2,409.2 307.0,415.2 324.8,427.8 342.5,411.3 360.2,400.9 378.0,409.1 395.8,415.4"/><polyline points="182.8,406.5 200.5,403.8 218.2,406.1 236.0,403.4 253.8,402.9 271.5,412.8 289.2,409.5 307.0,404.9 324.8,406.9 342.5,402.7 360.2,402.8 378.0,406.1 395.8,404.7"/><polyline points="182.8,417.3 200.5,429.5 218.2,407.8 236.0,415.2 253.8,423.4 271.5,416.0 289.2,414.1 307.0,408.5 324.8,414.6 342.5,409.4 360.2,421.9 378.0,418.5 395.8,412.4"/><polyline points="182.8,404.4 200.5,415.8 218.2,412.5 236.0,402.4 253.8,405.2 271.5,408.8 289.2,405.9 307.0,412.0 324.8,409.7 342.5,413.9 360.2,410.0 378.0,413.0 395.8,407.4"/><polyline points="182.8,413.2 200.5,410.6 218.2,405.4 236.0,407.7 253.8,417.4 271.5,406.3 289.2,408.6 307.0,419.4 324.8,412.7 342.5,413.0 360.2,401.9 378.0,401.8 395.8,410.2"/><polyline points="182.8,401.3 200.5,417.2 218.2,415.0 236.0,406.3 253.8,419.5 271.5,414.5 289.2,409.8 307.0,412.5 324.8,409.3 342.5,415.3 360.2,408.2 378.0,405.1 395.8,408.0"/><polyline points="182.8,403.4 200.5,400.7 218.2,410.0 236.0,415.8 253.8,405.2 271.5,418.6 289.2,402.5 307.0,418.0 324.8,412.8 342.5,396.0 360.2,411.7 378.0,406.4 395.8,406.7"/><polyline points="182.8,400.2 200.5,405.7 218.2,412.3 236.0,414.5 253.8,412.6 271.5,411.0 289.2,407.9 307.0,403.4 324.8,396.9 342.5,411.9 360.2,401.7 378.0,406.1 395.8,395.2"/><polyline points="182.8,407.5 200.5,414.5 218.2,407.1 236.0,409.4 253.8,404.8 271.5,389.4 289.2,410.8 307.0,411.6 324.8,412.3 342.5,420.2 360.2,414.7 378.0,411.5 395.8,403.6"/><polyline points="182.8,412.7 200.5,411.9 218.2,423.0 236.0,417.8 253.8,419.2 271.5,403.1 289.2,411.7 307.0,422.7 324.8,411.9 342.5,406.6 360.2,416.9 378.0,411.3 395.8,415.4"/><polyline points="182.8,407.8 200.5,417.6 218.2,406.3 236.0,406.6 253.8,404.1 271.5,410.5 289.2,411.8 307.0,402.0 324.8,409.1 342.5,420.0 360.2,396.5 378.0,415.2 395.8,414.5"/><polyline points="182.8,398.7 200.5,412.5 218.2,398.1 236.0,402.9 253.8,403.5 271.5,402.1 289.2,416.7 307.0,404.6 324.8,394.3 342.5,404.7 360.2,407.2 378.0,395.0 395.8,404.0"/><polyline points="182.8,398.8 200.5,411.0 218.2,404.1 236.0,393.6 253.8,410.4 271.5,403.0 289.2,384.3 307.0,397.5 324.8,388.4 342.5,400.8 360.2,424.8 378.0,419.7 395.8,407.2"/><polyline points="182.8,399.1 200.5,406.2 218.2,413.5 236.0,404.9 253.8,413.4 271.5,403.6 289.2,389.6 307.0,406.8 324.8,411.8 342.5,408.7 360.2,412.4 378.0,398.0 395.8,402.7"/><polyline points="182.8,411.3 200.5,414.2 218.2,404.3 236.0,399.6 253.8,404.0 271.5,405.8 289.2,404.0 307.0,400.5 324.8,413.5 342.5,414.2 360.2,414.3 378.0,412.8 395.8,411.1"/><polyline points="182.8,407.9 200.5,392.6 218.2,407.6 236.0,391.7 253.8,418.9 271.5,410.3 289.2,401.3 307.0,405.6 324.8,402.2 342.5,416.9 360.2,413.8 378.0,406.5 395.8,402.3"/><polyline points="182.8,408.7 200.5,405.3 218.2,398.0 236.0,399.3 253.8,403.8 271.5,397.3 289.2,402.2 307.0,421.7 324.8,409.2 342.5,414.0 360.2,404.8 378.0,418.6 395.8,409.9"/><polyline points="182.8,412.8 200.5,423.5 218.2,403.0 236.0,407.3 253.8,413.2 271.5,409.0 289.2,412.9 307.0,425.2 324.8,407.5 342.5,411.6 360.2,405.9 378.0,403.8 395.8,395.9"/><polyline points="182.8,408.9 200.5,417.4 218.2,399.2 236.0,407.4 253.8,407.6 271.5,413.9 289.2,409.0 307.0,412.5 324.8,419.2 342.5,400.7 360.2,407.8 378.0,411.5 395.8,403.9"/><polyline points="182.8,401.0 200.5,406.4 218.2,395.3 236.0,423.7 253.8,421.6 271.5,417.2 289.2,414.2 307.0,414.7 324.8,406.3 342.5,406.6 360.2,393.6 378.0,414.9 395.8,406.9"/><polyline points="182.8,404.8 200.5,389.6 218.2,397.5 236.0,385.6 253.8,397.7 271.5,400.6 289.2,383.9 307.0,395.6 324.8,404.3 342.5,398.4 360.2,411.7 378.0,407.3 395.8,409.3"/><polyline points="182.8,405.6 200.5,406.9 218.2,399.4 236.0,401.6 253.8,396.2 271.5,399.7 289.2,406.0 307.0,413.5 324.8,407.2 342.5,409.6 360.2,403.8 378.0,406.9 395.8,410.2"/><polyline points="182.8,408.6 200.5,411.6 218.2,407.5 236.0,399.5 253.8,401.1 271.5,404.5 289.2,386.2 307.0,398.3 324.8,399.8 342.5,400.3 360.2,397.1 378.0,396.5 395.8,402.1"/><polyline points="182.8,404.8 200.5,404.3 218.2,410.8 236.0,404.3 253.8,404.7 271.5,413.2 289.2,411.8 307.0,403.4 324.8,395.5 342.5,400.6 360.2,408.8 378.0,393.2 395.8,402.7"/><polyline points="182.8,415.2 200.5,404.9 218.2,395.7 236.0,399.5 253.8,409.6 271.5,416.4 289.2,408.7 307.0,408.0 324.8,405.3 342.5,418.1 360.2,415.8 378.0,395.3 395.8,406.9"/><polyline points="182.8,411.8 200.5,413.3 218.2,402.2 236.0,417.7 253.8,409.7 271.5,416.2 289.2,410.6 307.0,408.0 324.8,418.2 342.5,451.2 360.2,445.0 378.0,423.2 395.8,435.1"/><polyline points="182.8,406.8 200.5,416.7 218.2,411.4 236.0,403.7 253.8,405.7 271.5,412.6 289.2,418.6 307.0,405.7 324.8,408.4 342.5,411.0 360.2,406.2 378.0,410.0 395.8,409.4"/><polyline points="182.8,411.3 200.5,413.2 218.2,405.6 236.0,408.4 253.8,410.6 271.5,400.5 289.2,407.3 307.0,402.8 324.8,407.2 342.5,406.0 360.2,407.3 378.0,415.7 395.8,419.5"/><polyline points="182.8,411.6 200.5,400.3 218.2,413.2 236.0,414.5 253.8,406.8 271.5,409.5 289.2,415.0 307.0,414.4 324.8,405.3 342.5,404.1 360.2,397.4 378.0,406.8 395.8,405.0"/><polyline points="182.8,396.9 200.5,401.4 218.2,404.3 236.0,395.5 253.8,405.3 271.5,403.2 289.2,409.2 307.0,411.4 324.8,411.6 342.5,404.9 360.2,408.4 378.0,408.1 395.8,414.0"/><polyline points="182.8,396.0 200.5,402.1 218.2,408.7 236.0,402.8 253.8,402.3 271.5,396.5 289.2,403.6 307.0,403.0 324.8,394.3 342.5,405.8 360.2,398.1 378.0,386.5 395.8,400.0"/><polyline points="182.8,409.0 200.5,407.7 218.2,412.7 236.0,412.0 253.8,395.2 271.5,403.0 289.2,408.7 307.0,407.5 324.8,413.8 342.5,415.0 360.2,409.1 378.0,405.4 395.8,420.1"/><polyline points="182.8,418.4 200.5,408.6 218.2,408.4 236.0,404.1 253.8,412.6 271.5,424.7 289.2,406.5 307.0,402.6 324.8,412.4 342.5,417.6 360.2,406.9 378.0,398.5 395.8,406.7"/><polyline points="182.8,403.1 200.5,408.2 218.2,405.1 236.0,410.4 253.8,390.4 271.5,406.9 289.2,405.9 307.0,406.6 324.8,394.4 342.5,414.1 360.2,400.0 378.0,407.8 395.8,400.9"/><polyline points="182.8,394.9 200.5,401.8 218.2,415.5 236.0,398.3 253.8,407.2 271.5,393.9 289.2,413.9 307.0,396.6 324.8,398.1 342.5,405.2 360.2,410.1 378.0,397.1 395.8,405.6"/><polyline points="182.8,403.0 200.5,411.6 218.2,416.3 236.0,424.8 253.8,417.6 271.5,396.5 289.2,417.6 307.0,415.8 324.8,410.7 342.5,413.4 360.2,416.4 378.0,406.7 395.8,399.9"/><polyline points="182.8,402.3 200.5,401.7 218.2,397.4 236.0,410.1 253.8,398.7 271.5,404.8 289.2,401.2 307.0,415.5 324.8,413.5 342.5,422.6 360.2,401.4 378.0,399.4 395.8,408.2"/><polyline points="182.8,407.9 200.5,403.5 218.2,409.2 236.0,397.9 253.8,399.8 271.5,402.2 289.2,409.1 307.0,411.0 324.8,411.7 342.5,403.9 360.2,398.0 378.0,400.2 395.8,403.2"/><polyline points="182.8,390.3 200.5,404.7 218.2,404.2 236.0,396.1 253.8,409.4 271.5,403.3 289.2,401.8 307.0,407.4 324.8,405.0 342.5,395.2 360.2,397.9 378.0,392.5 395.8,407.0"/><polyline points="182.8,401.8 200.5,398.4 218.2,414.7 236.0,412.7 253.8,396.5 271.5,414.3 289.2,401.7 307.0,417.5 324.8,410.4 342.5,402.5 360.2,405.1 378.0,405.6 395.8,386.0"/><polyline points="182.8,414.4 200.5,389.1 218.2,414.1 236.0,409.3 253.8,401.1 271.5,423.0 289.2,414.9 307.0,402.5 324.8,403.4 342.5,413.2 360.2,421.7 378.0,412.8 395.8,406.1"/><polyline points="182.8,421.8 200.5,417.2 218.2,411.6 236.0,408.2 253.8,408.4 271.5,412.3 289.2,422.2 307.0,412.0 324.8,406.2 342.5,421.9 360.2,419.8 378.0,413.1 395.8,421.3"/><polyline points="182.8,407.1 200.5,402.6 218.2,404.7 236.0,408.7 253.8,408.9 271.5,403.8 289.2,404.1 307.0,398.5 324.8,404.0 342.5,419.3 360.2,406.4 378.0,400.8 395.8,403.0"/><polyline points="182.8,398.9 200.5,413.1 218.2,398.9 236.0,403.0 253.8,415.2 271.5,404.6 289.2,413.8 307.0,403.5 324.8,410.4 342.5,420.2 360.2,398.3 378.0,408.6 395.8,397.0"/><polyline points="182.8,407.8 200.5,398.4 218.2,391.9 236.0,411.0 253.8,407.6 271.5,416.1 289.2,408.3 307.0,407.6 324.8,400.8 342.5,397.1 360.2,407.9 378.0,398.6 395.8,416.8"/><polyline points="591.0,326.9 608.8,329.3 626.5,399.3 644.2,422.5 662.0,408.9 679.8,381.7 697.5,360.3 715.2,356.4 733.0,373.5 750.8,392.7 768.5,435.9 786.2,529.8 804.0,564.3 821.8,525.9 839.5,473.0 857.2,435.9 875.0,417.4 892.8,413.2 910.5,406.4 928.2,421.5 946.0,422.2 963.8,407.7 981.5,404.3 999.2,405.8 1017.0,415.5 1034.8,411.6 1052.5,406.0 1070.2,396.2 1088.0,392.7 1105.8,385.3 1123.5,411.0 1141.2,400.3"/><polyline points="591.0,312.6 608.8,338.4 626.5,393.5 644.2,420.8 662.0,416.0 679.8,392.8 697.5,355.2 715.2,354.6 733.0,372.2 750.8,393.2 768.5,379.2 786.2,387.9 804.0,454.5 821.8,465.1 839.5,445.4 857.2,438.7 875.0,439.8 892.8,430.1 910.5,431.8 928.2,403.2 946.0,405.3 963.8,403.1 981.5,412.1 999.2,409.6 1017.0,398.8 1034.8,408.1 1052.5,406.0 1070.2,410.7 1088.0,408.7 1105.8,380.3 1123.5,393.2 1141.2,384.1"/><polyline points="591.0,313.2 608.8,348.4 626.5,368.8 644.2,446.0 662.0,422.0 679.8,412.0 697.5,363.0 715.2,367.8 733.0,368.1 750.8,398.5 768.5,462.0 786.2,607.4 804.0,566.8 821.8,511.4 839.5,468.5 857.2,433.7 875.0,421.3 892.8,422.9 910.5,423.4 928.2,427.1 946.0,429.7 963.8,428.3 981.5,413.3 999.2,412.8 1017.0,408.2 1034.8,429.4 1052.5,403.7 1070.2,399.2 1088.0,404.8 1105.8,379.8 1123.5,389.2 1141.2,379.1"/><polyline points="591.0,310.6 608.8,322.6 626.5,381.9 644.2,423.3 662.0,400.8 679.8,362.1 697.5,358.2 715.2,362.3 733.0,363.3 750.8,427.3 768.5,535.1 786.2,597.7 804.0,539.6 821.8,504.7 839.5,477.6 857.2,446.1 875.0,424.4 892.8,417.2 910.5,408.8 928.2,415.9 946.0,406.0 963.8,421.8 981.5,401.3 999.2,399.6 1017.0,383.0 1034.8,388.8 1052.5,396.5 1070.2,390.2 1088.0,406.3 1105.8,373.7 1123.5,371.8 1141.2,386.7"/><polyline points="591.0,297.8 608.8,310.8 626.5,376.5 644.2,396.8 662.0,410.3 679.8,404.7 697.5,361.3 715.2,333.5 733.0,349.2 750.8,380.8 768.5,493.8 786.2,593.8 804.0,547.0 821.8,496.2 839.5,455.3 857.2,425.7 875.0,403.8 892.8,422.0 910.5,399.8 928.2,398.5 946.0,417.2 963.8,396.4 981.5,391.0 999.2,395.4 1017.0,376.2 1034.8,389.4 1052.5,412.0 1070.2,391.0 1088.0,367.3 1105.8,369.0 1123.5,373.1 1141.2,379.0"/><polyline points="591.0,291.2 608.8,344.0 626.5,390.7 644.2,401.1 662.0,421.3 679.8,409.7 697.5,356.4 715.2,339.3 733.0,376.3 750.8,405.5 768.5,515.0 786.2,574.7 804.0,532.0 821.8,479.5 839.5,447.9 857.2,427.3 875.0,414.8 892.8,411.5 910.5,424.3 928.2,416.7 946.0,426.0 963.8,416.3 981.5,398.4 999.2,399.3 1017.0,420.0 1034.8,405.4 1052.5,410.3 1070.2,389.4 1088.0,398.2 1105.8,380.5 1123.5,379.9 1141.2,376.2"/><polyline points="591.0,287.1 608.8,323.7 626.5,398.1 644.2,427.5 662.0,430.1 679.8,384.6 697.5,375.5 715.2,365.2 733.0,359.1 750.8,388.0 768.5,381.1 786.2,385.2 804.0,397.1 821.8,386.5 839.5,494.3 857.2,446.2 875.0,440.3 892.8,428.9 910.5,436.9 928.2,426.0 946.0,421.5 963.8,406.8 981.5,408.0 999.2,402.3 1017.0,411.1 1034.8,412.2 1052.5,400.4 1070.2,391.5 1088.0,386.1 1105.8,374.6 1123.5,386.3 1141.2,367.9"/><polyline points="591.0,298.0 608.8,325.4 626.5,394.6 644.2,389.7 662.0,421.3 679.8,381.9 697.5,355.0 715.2,348.5 733.0,333.7 750.8,392.1 768.5,442.4 786.2,542.3 804.0,563.0 821.8,500.1 839.5,467.2 857.2,426.2 875.0,418.3 892.8,390.6 910.5,421.9 928.2,406.9 946.0,406.5 963.8,395.3 981.5,386.4 999.2,397.5 1017.0,374.6 1034.8,413.5 1052.5,387.4 1070.2,382.9 1088.0,386.0 1105.8,391.9 1123.5,377.6 1141.2,385.0"/><polyline points="591.0,300.3 608.8,330.6 626.5,387.3 644.2,387.6 662.0,417.9 679.8,383.9 697.5,354.1 715.2,335.4 733.0,364.6 750.8,404.0 768.5,518.4 786.2,558.1 804.0,523.5 821.8,461.6 839.5,441.7 857.2,408.5 875.0,399.8 892.8,411.3 910.5,391.3 928.2,413.1 946.0,422.3 963.8,410.4 981.5,381.1 999.2,399.8 1017.0,393.5 1034.8,404.8 1052.5,394.2 1070.2,399.5 1088.0,401.0 1105.8,379.3 1123.5,388.7 1141.2,372.5"/><polyline points="591.0,323.2 608.8,346.7 626.5,438.2 644.2,409.6 662.0,415.8 679.8,383.4 697.5,370.1 715.2,369.5 733.0,379.6 750.8,401.9 768.5,465.6 786.2,565.6 804.0,552.1 821.8,541.0 839.5,485.7 857.2,450.0 875.0,437.1 892.8,428.0 910.5,406.2 928.2,424.0 946.0,424.8 963.8,424.5 981.5,404.7 999.2,411.0 1017.0,415.6 1034.8,429.3 1052.5,415.8 1070.2,398.0 1088.0,411.2 1105.8,408.6 1123.5,393.2 1141.2,375.6"/><polyline points="591.0,322.6 608.8,336.9 626.5,371.5 644.2,398.1 662.0,426.1 679.8,403.4 697.5,359.0 715.2,364.8 733.0,363.9 750.8,402.1 768.5,407.1 786.2,401.0 804.0,395.8 821.8,399.2 839.5,448.3 857.2,475.6 875.0,439.3 892.8,430.5 910.5,426.1 928.2,414.5 946.0,417.6 963.8,413.1 981.5,404.5 999.2,415.0 1017.0,408.5 1034.8,408.8 1052.5,403.3 1070.2,393.8 1088.0,405.5 1105.8,377.4 1123.5,383.3 1141.2,400.8"/><polyline points="591.0,311.3 608.8,317.2 626.5,382.1 644.2,393.8 662.0,416.2 679.8,372.5 697.5,350.2 715.2,354.0 733.0,355.8 750.8,391.4 768.5,481.9 786.2,573.2 804.0,547.5 821.8,503.2 839.5,451.7 857.2,427.7 875.0,407.7 892.8,402.4 910.5,424.0 928.2,403.1 946.0,408.6 963.8,405.7 981.5,395.0 999.2,396.2 1017.0,396.8 1034.8,410.6 1052.5,396.1 1070.2,398.1 1088.0,389.4 1105.8,378.2 1123.5,379.0 1141.2,395.0"/><polyline points="591.0,311.8 608.8,331.4 626.5,376.8 644.2,389.8 662.0,410.0 679.8,384.1 697.5,338.4 715.2,331.9 733.0,357.8 750.8,428.6 768.5,520.4 786.2,555.3 804.0,505.9 821.8,470.6 839.5,430.2 857.2,420.5 875.0,402.1 892.8,399.1 910.5,394.7 928.2,409.2 946.0,407.4 963.8,408.0 981.5,400.3 999.2,393.6 1017.0,404.7 1034.8,395.3 1052.5,400.9 1070.2,387.4 1088.0,382.8 1105.8,371.2 1123.5,381.5 1141.2,378.5"/><polyline points="591.0,323.0 608.8,324.6 626.5,413.3 644.2,409.6 662.0,430.5 679.8,384.7 697.5,382.8 715.2,356.6 733.0,366.2 750.8,402.4 768.5,455.0 786.2,553.7 804.0,547.1 821.8,503.0 839.5,479.5 857.2,457.8 875.0,419.9 892.8,432.3 910.5,426.8 928.2,414.9 946.0,422.1 963.8,433.3 981.5,401.6 999.2,402.3 1017.0,398.7 1034.8,433.0 1052.5,415.3 1070.2,396.4 1088.0,397.8 1105.8,394.5 1123.5,386.9 1141.2,398.6"/><polyline points="591.0,298.5 608.8,337.9 626.5,407.0 644.2,417.6 662.0,425.3 679.8,392.7 697.5,350.7 715.2,345.3 733.0,363.6 750.8,384.7 768.5,484.6 786.2,592.2 804.0,549.0 821.8,511.9 839.5,463.5 857.2,441.3 875.0,406.8 892.8,418.8 910.5,407.5 928.2,427.2 946.0,401.0 963.8,406.9 981.5,409.8 999.2,420.0 1017.0,391.2 1034.8,410.4 1052.5,397.1 1070.2,412.3 1088.0,412.1 1105.8,387.8 1123.5,392.9 1141.2,380.5"/><polyline points="591.0,306.4 608.8,337.9 626.5,386.3 644.2,420.0 662.0,410.5 679.8,379.5 697.5,367.2 715.2,354.3 733.0,357.0 750.8,379.7 768.5,452.0 786.2,561.4 804.0,560.2 821.8,503.9 839.5,465.3 857.2,446.2 875.0,431.9 892.8,424.7 910.5,402.6 928.2,400.1 946.0,412.4 963.8,405.2 981.5,403.9 999.2,405.1 1017.0,394.5 1034.8,405.5 1052.5,384.7 1070.2,381.0 1088.0,395.2 1105.8,396.2 1123.5,365.8 1141.2,367.8"/><polyline points="591.0,312.9 608.8,340.1 626.5,390.9 644.2,441.0 662.0,438.7 679.8,413.8 697.5,346.9 715.2,332.5 733.0,350.2 750.8,436.0 768.5,548.2 786.2,578.6 804.0,524.5 821.8,485.6 839.5,454.5 857.2,443.0 875.0,421.6 892.8,414.4 910.5,404.9 928.2,410.0 946.0,406.2 963.8,418.6 981.5,399.8 999.2,409.2 1017.0,403.0 1034.8,410.5 1052.5,385.4 1070.2,393.7 1088.0,383.8 1105.8,389.5 1123.5,384.1 1141.2,384.6"/><polyline points="591.0,310.8 608.8,340.9 626.5,373.8 644.2,390.4 662.0,429.1 679.8,406.2 697.5,348.6 715.2,344.6 733.0,367.4 750.8,387.6 768.5,394.1 786.2,448.6 804.0,557.3 821.8,593.4 839.5,539.2 857.2,505.6 875.0,463.9 892.8,433.6 910.5,434.3 928.2,428.3 946.0,409.2 963.8,408.5 981.5,405.4 999.2,399.9 1017.0,388.3 1034.8,415.3 1052.5,407.3 1070.2,382.1 1088.0,407.4 1105.8,373.3 1123.5,372.4 1141.2,375.0"/><polyline points="591.0,300.0 608.8,322.0 626.5,395.6 644.2,394.1 662.0,423.3 679.8,428.4 697.5,359.5 715.2,349.7 733.0,373.4 750.8,420.1 768.5,520.8 786.2,579.9 804.0,527.9 821.8,485.7 839.5,461.2 857.2,441.2 875.0,417.2 892.8,404.7 910.5,408.7 928.2,407.7 946.0,405.6 963.8,425.6 981.5,408.4 999.2,389.6 1017.0,408.2 1034.8,408.3 1052.5,393.7 1070.2,391.5 1088.0,413.6 1105.8,381.4 1123.5,374.8 1141.2,380.9"/><polyline points="591.0,315.7 608.8,337.3 626.5,385.6 644.2,423.6 662.0,426.0 679.8,402.9 697.5,350.9 715.2,351.0 733.0,363.3 750.8,440.6 768.5,529.6 786.2,569.9 804.0,525.3 821.8,498.8 839.5,449.5 857.2,426.4 875.0,422.7 892.8,414.6 910.5,426.9 928.2,425.0 946.0,417.0 963.8,413.2 981.5,404.7 999.2,416.0 1017.0,408.1 1034.8,419.0 1052.5,385.0 1070.2,390.8 1088.0,395.1 1105.8,391.8 1123.5,391.9 1141.2,387.3"/><polyline points="591.0,306.3 608.8,322.9 626.5,375.5 644.2,384.9 662.0,409.7 679.8,369.4 697.5,358.8 715.2,343.2 733.0,366.5 750.8,400.6 768.5,498.6 786.2,580.2 804.0,528.9 821.8,488.7 839.5,434.3 857.2,421.7 875.0,430.9 892.8,406.9 910.5,415.6 928.2,399.1 946.0,389.6 963.8,400.0 981.5,389.5 999.2,386.0 1017.0,402.7 1034.8,413.7 1052.5,386.8 1070.2,405.2 1088.0,392.4 1105.8,364.7 1123.5,383.5 1141.2,377.9"/><polyline points="591.0,313.3 608.8,317.9 626.5,409.2 644.2,389.0 662.0,427.6 679.8,380.8 697.5,355.1 715.2,354.2 733.0,358.8 750.8,424.7 768.5,509.2 786.2,573.5 804.0,523.3 821.8,463.3 839.5,462.4 857.2,429.0 875.0,409.0 892.8,415.3 910.5,413.9 928.2,419.8 946.0,419.2 963.8,422.1 981.5,391.3 999.2,404.2 1017.0,396.7 1034.8,397.7 1052.5,395.2 1070.2,389.0 1088.0,397.1 1105.8,381.4 1123.5,386.9 1141.2,383.2"/><polyline points="591.0,312.8 608.8,338.4 626.5,416.0 644.2,406.5 662.0,423.3 679.8,380.3 697.5,360.8 715.2,366.1 733.0,386.5 750.8,411.1 768.5,519.7 786.2,601.3 804.0,558.6 821.8,505.8 839.5,459.3 857.2,441.4 875.0,435.1 892.8,411.5 910.5,413.7 928.2,406.8 946.0,408.1 963.8,400.6 981.5,412.7 999.2,397.1 1017.0,403.7 1034.8,416.1 1052.5,400.2 1070.2,389.5 1088.0,389.6 1105.8,375.7 1123.5,385.6 1141.2,379.4"/><polyline points="591.0,323.3 608.8,349.6 626.5,384.7 644.2,402.9 662.0,426.8 679.8,394.9 697.5,372.3 715.2,366.7 733.0,380.8 750.8,402.5 768.5,514.0 786.2,567.9 804.0,533.8 821.8,487.6 839.5,456.4 857.2,432.1 875.0,432.0 892.8,411.7 910.5,424.4 928.2,408.6 946.0,416.9 963.8,420.3 981.5,415.4 999.2,397.2 1017.0,388.6 1034.8,430.6 1052.5,399.3 1070.2,400.7 1088.0,397.7 1105.8,401.1 1123.5,395.4 1141.2,399.4"/><polyline points="591.0,312.4 608.8,347.5 626.5,434.4 644.2,410.7 662.0,430.3 679.8,411.5 697.5,386.9 715.2,338.0 733.0,367.3 750.8,407.3 768.5,397.1 786.2,385.3 804.0,401.1 821.8,388.1 839.5,489.8 857.2,491.5 875.0,463.0 892.8,444.3 910.5,443.5 928.2,426.3 946.0,419.8 963.8,414.0 981.5,404.2 999.2,400.1 1017.0,415.5 1034.8,427.1 1052.5,401.1 1070.2,393.4 1088.0,406.8 1105.8,401.4 1123.5,395.0 1141.2,400.2"/><polyline points="591.0,316.9 608.8,333.9 626.5,389.3 644.2,395.0 662.0,419.3 679.8,407.7 697.5,372.6 715.2,343.6 733.0,369.2 750.8,382.6 768.5,394.3 786.2,395.4 804.0,385.4 821.8,424.0 839.5,469.5 857.2,449.6 875.0,426.8 892.8,443.3 910.5,418.8 928.2,428.5 946.0,418.4 963.8,430.0 981.5,408.5 999.2,411.8 1017.0,413.9 1034.8,411.2 1052.5,404.3 1070.2,406.5 1088.0,391.5 1105.8,392.2 1123.5,373.2 1141.2,405.3"/><polyline points="591.0,316.0 608.8,333.8 626.5,399.9 644.2,405.0 662.0,404.9 679.8,392.1 697.5,392.9 715.2,357.8 733.0,382.7 750.8,395.3 768.5,393.8 786.2,396.0 804.0,416.6 821.8,492.0 839.5,461.7 857.2,440.3 875.0,449.9 892.8,436.8 910.5,421.7 928.2,419.5 946.0,423.8 963.8,420.0 981.5,398.4 999.2,418.3 1017.0,427.2 1034.8,415.9 1052.5,398.3 1070.2,411.8 1088.0,410.6 1105.8,381.2 1123.5,376.0 1141.2,377.3"/><polyline points="591.0,290.0 608.8,324.2 626.5,373.8 644.2,386.6 662.0,416.3 679.8,375.5 697.5,365.4 715.2,345.1 733.0,351.2 750.8,389.9 768.5,484.9 786.2,587.2 804.0,564.4 821.8,542.6 839.5,545.2 857.2,517.7 875.0,505.1 892.8,500.5 910.5,471.6 928.2,463.8 946.0,445.4 963.8,460.4 981.5,418.7 999.2,408.8 1017.0,403.8 1034.8,433.5 1052.5,413.7 1070.2,392.3 1088.0,385.7 1105.8,399.5 1123.5,374.3 1141.2,380.0"/><polyline points="591.0,298.2 608.8,304.2 626.5,393.5 644.2,395.4 662.0,459.8 679.8,422.2 697.5,369.1 715.2,333.9 733.0,366.1 750.8,379.1 768.5,470.6 786.2,616.5 804.0,548.4 821.8,511.3 839.5,458.7 857.2,449.6 875.0,427.5 892.8,409.0 910.5,399.8 928.2,401.4 946.0,407.9 963.8,401.0 981.5,387.8 999.2,401.5 1017.0,399.5 1034.8,414.2 1052.5,404.0 1070.2,382.3 1088.0,389.5 1105.8,370.9 1123.5,366.8 1141.2,379.6"/><polyline points="591.0,321.2 608.8,323.8 626.5,350.2 644.2,376.0 662.0,430.5 679.8,413.7 697.5,367.5 715.2,365.2 733.0,359.7 750.8,384.7 768.5,497.6 786.2,598.2 804.0,549.4 821.8,505.5 839.5,463.6 857.2,423.7 875.0,431.4 892.8,415.2 910.5,404.4 928.2,406.5 946.0,417.0 963.8,404.1 981.5,390.1 999.2,403.0 1017.0,406.9 1034.8,416.6 1052.5,406.9 1070.2,398.3 1088.0,390.2 1105.8,365.6 1123.5,380.6 1141.2,376.6"/><polyline points="591.0,327.5 608.8,320.5 626.5,422.3 644.2,415.9 662.0,446.3 679.8,426.6 697.5,356.1 715.2,357.0 733.0,375.5 750.8,443.2 768.5,542.4 786.2,593.6 804.0,572.3 821.8,544.5 839.5,535.1 857.2,530.3 875.0,504.3 892.8,494.0 910.5,489.6 928.2,457.9 946.0,450.0 963.8,459.9 981.5,434.2 999.2,432.6 1017.0,421.8 1034.8,416.1 1052.5,424.5 1070.2,403.3 1088.0,406.2 1105.8,396.9 1123.5,396.0 1141.2,382.4"/><polyline points="591.0,311.0 608.8,312.1 626.5,408.0 644.2,410.7 662.0,451.5 679.8,419.4 697.5,375.5 715.2,352.2 733.0,371.4 750.8,410.6 768.5,502.0 786.2,567.1 804.0,517.2 821.8,486.0 839.5,459.8 857.2,427.3 875.0,415.3 892.8,407.3 910.5,403.9 928.2,405.8 946.0,415.5 963.8,399.9 981.5,417.5 999.2,410.8 1017.0,404.4 1034.8,407.9 1052.5,411.6 1070.2,397.2 1088.0,412.4 1105.8,384.9 1123.5,389.9 1141.2,379.0"/><polyline points="591.0,309.3 608.8,331.9 626.5,384.7 644.2,414.8 662.0,436.5 679.8,389.3 697.5,379.2 715.2,352.4 733.0,361.1 750.8,449.7 768.5,549.7 786.2,575.3 804.0,515.3 821.8,491.1 839.5,451.9 857.2,423.0 875.0,420.1 892.8,419.7 910.5,417.7 928.2,413.1 946.0,431.1 963.8,412.9 981.5,410.2 999.2,406.6 1017.0,409.2 1034.8,402.5 1052.5,423.8 1070.2,415.6 1088.0,398.6 1105.8,398.6 1123.5,389.8 1141.2,395.9"/><polyline points="591.0,313.9 608.8,334.4 626.5,372.5 644.2,426.8 662.0,417.0 679.8,397.9 697.5,358.0 715.2,344.3 733.0,366.6 750.8,435.2 768.5,526.7 786.2,539.0 804.0,513.7 821.8,481.0 839.5,447.0 857.2,425.2 875.0,415.7 892.8,419.1 910.5,408.0 928.2,411.8 946.0,414.3 963.8,410.3 981.5,404.0 999.2,406.7 1017.0,398.9 1034.8,426.2 1052.5,395.7 1070.2,397.3 1088.0,395.4 1105.8,383.0 1123.5,373.9 1141.2,383.6"/><polyline points="591.0,321.8 608.8,324.8 626.5,428.4 644.2,433.0 662.0,426.5 679.8,430.4 697.5,364.9 715.2,352.5 733.0,356.0 750.8,399.9 768.5,505.9 786.2,578.8 804.0,514.8 821.8,491.4 839.5,437.5 857.2,413.6 875.0,408.6 892.8,417.1 910.5,397.4 928.2,408.4 946.0,422.5 963.8,410.4 981.5,395.3 999.2,390.4 1017.0,384.2 1034.8,417.5 1052.5,386.0 1070.2,394.2 1088.0,397.1 1105.8,374.2 1123.5,377.3 1141.2,387.5"/><polyline points="591.0,297.1 608.8,329.6 626.5,405.9 644.2,417.2 662.0,412.7 679.8,392.8 697.5,360.0 715.2,361.1 733.0,359.6 750.8,386.9 768.5,397.9 786.2,513.7 804.0,606.3 821.8,538.0 839.5,490.3 857.2,455.0 875.0,416.9 892.8,420.3 910.5,425.9 928.2,421.9 946.0,410.8 963.8,406.1 981.5,396.8 999.2,412.1 1017.0,397.4 1034.8,412.3 1052.5,404.3 1070.2,396.0 1088.0,386.8 1105.8,388.0 1123.5,378.1 1141.2,380.9"/><polyline points="591.0,323.6 608.8,347.6 626.5,418.7 644.2,389.6 662.0,416.0 679.8,393.2 697.5,361.5 715.2,367.7 733.0,376.1 750.8,416.0 768.5,514.8 786.2,578.8 804.0,547.7 821.8,502.8 839.5,496.3 857.2,461.9 875.0,434.2 892.8,424.4 910.5,426.2 928.2,418.6 946.0,428.2 963.8,419.1 981.5,426.9 999.2,413.3 1017.0,398.7 1034.8,408.4 1052.5,403.4 1070.2,418.4 1088.0,397.1 1105.8,397.5 1123.5,377.9 1141.2,394.2"/><polyline points="591.0,318.3 608.8,336.2 626.5,365.3 644.2,432.5 662.0,446.7 679.8,396.8 697.5,366.8 715.2,340.1 733.0,349.2 750.8,420.7 768.5,519.0 786.2,568.7 804.0,522.3 821.8,468.7 839.5,439.8 857.2,418.7 875.0,423.4 892.8,408.1 910.5,399.9 928.2,402.1 946.0,416.3 963.8,410.3 981.5,392.9 999.2,394.4 1017.0,403.5 1034.8,403.9 1052.5,395.3 1070.2,387.7 1088.0,369.0 1105.8,384.3 1123.5,378.0 1141.2,386.2"/><polyline points="591.0,326.3 608.8,365.9 626.5,408.1 644.2,411.0 662.0,446.7 679.8,398.6 697.5,384.7 715.2,371.3 733.0,376.8 750.8,431.0 768.5,524.2 786.2,587.3 804.0,527.6 821.8,484.3 839.5,463.1 857.2,440.5 875.0,419.9 892.8,435.1 910.5,432.8 928.2,438.9 946.0,430.1 963.8,442.2 981.5,412.3 999.2,414.5 1017.0,423.2 1034.8,430.0 1052.5,405.0 1070.2,407.2 1088.0,414.7 1105.8,400.8 1123.5,393.7 1141.2,397.3"/><polyline points="591.0,324.4 608.8,330.8 626.5,367.4 644.2,383.4 662.0,413.3 679.8,385.7 697.5,341.7 715.2,348.7 733.0,357.1 750.8,399.3 768.5,393.5 786.2,449.6 804.0,563.8 821.8,553.3 839.5,490.9 857.2,465.7 875.0,449.5 892.8,421.7 910.5,407.8 928.2,413.2 946.0,406.7 963.8,416.4 981.5,403.9 999.2,398.9 1017.0,408.4 1034.8,424.7 1052.5,404.4 1070.2,408.4 1088.0,400.6 1105.8,382.2 1123.5,384.1 1141.2,396.1"/><polyline points="591.0,319.5 608.8,326.5 626.5,388.0 644.2,389.9 662.0,412.4 679.8,399.6 697.5,360.0 715.2,352.7 733.0,367.0 750.8,402.9 768.5,452.4 786.2,564.3 804.0,575.1 821.8,530.6 839.5,498.1 857.2,469.4 875.0,428.9 892.8,432.1 910.5,416.0 928.2,419.8 946.0,417.4 963.8,412.5 981.5,398.2 999.2,402.6 1017.0,413.9 1034.8,399.4 1052.5,406.2 1070.2,399.5 1088.0,395.1 1105.8,388.4 1123.5,390.3 1141.2,386.7"/><polyline points="591.0,313.2 608.8,340.1 626.5,392.3 644.2,429.9 662.0,425.7 679.8,397.6 697.5,364.5 715.2,365.6 733.0,373.8 750.8,408.7 768.5,400.4 786.2,494.8 804.0,583.7 821.8,526.2 839.5,478.2 857.2,438.0 875.0,407.9 892.8,405.2 910.5,410.0 928.2,399.8 946.0,411.2 963.8,423.2 981.5,410.3 999.2,394.3 1017.0,395.0 1034.8,412.1 1052.5,401.0 1070.2,408.4 1088.0,400.7 1105.8,391.7 1123.5,387.4 1141.2,397.4"/><polyline points="591.0,311.4 608.8,336.6 626.5,410.3 644.2,407.5 662.0,430.2 679.8,398.3 697.5,359.0 715.2,358.7 733.0,372.2 750.8,407.9 768.5,509.8 786.2,599.1 804.0,526.5 821.8,495.0 839.5,441.7 857.2,449.2 875.0,415.8 892.8,415.8 910.5,416.6 928.2,398.9 946.0,425.5 963.8,407.4 981.5,412.0 999.2,414.2 1017.0,410.7 1034.8,391.3 1052.5,393.1 1070.2,395.0 1088.0,384.1 1105.8,384.4 1123.5,398.2 1141.2,395.4"/><polyline points="591.0,322.5 608.8,344.1 626.5,398.4 644.2,396.0 662.0,422.1 679.8,378.6 697.5,377.3 715.2,340.8 733.0,357.0 750.8,410.3 768.5,509.0 786.2,581.4 804.0,525.4 821.8,469.4 839.5,446.2 857.2,426.3 875.0,426.7 892.8,397.6 910.5,406.9 928.2,402.8 946.0,412.3 963.8,418.5 981.5,399.0 999.2,419.5 1017.0,392.5 1034.8,411.0 1052.5,394.9 1070.2,384.6 1088.0,388.9 1105.8,383.1 1123.5,376.7 1141.2,376.8"/><polyline points="591.0,302.5 608.8,345.8 626.5,388.8 644.2,432.6 662.0,435.2 679.8,391.7 697.5,366.3 715.2,353.0 733.0,369.5 750.8,383.2 768.5,465.8 786.2,570.9 804.0,565.1 821.8,548.6 839.5,531.3 857.2,535.5 875.0,510.8 892.8,502.8 910.5,491.7 928.2,456.0 946.0,450.5 963.8,418.1 981.5,421.6 999.2,410.9 1017.0,410.4 1034.8,416.9 1052.5,385.4 1070.2,400.9 1088.0,390.1 1105.8,372.9 1123.5,378.6 1141.2,390.7"/><polyline points="591.0,305.8 608.8,329.4 626.5,385.6 644.2,411.3 662.0,424.0 679.8,384.7 697.5,360.1 715.2,346.9 733.0,367.1 750.8,402.3 768.5,516.1 786.2,603.6 804.0,546.5 821.8,520.0 839.5,497.8 857.2,460.0 875.0,450.3 892.8,435.4 910.5,429.3 928.2,416.2 946.0,411.4 963.8,403.9 981.5,399.8 999.2,399.9 1017.0,401.8 1034.8,413.1 1052.5,404.2 1070.2,399.7 1088.0,392.0 1105.8,380.5 1123.5,375.4 1141.2,385.5"/><polyline points="591.0,320.4 608.8,341.5 626.5,404.3 644.2,397.4 662.0,400.3 679.8,408.3 697.5,365.5 715.2,365.0 733.0,389.9 750.8,434.0 768.5,502.5 786.2,567.3 804.0,523.4 821.8,496.5 839.5,444.4 857.2,428.2 875.0,430.2 892.8,402.5 910.5,413.2 928.2,405.9 946.0,407.5 963.8,421.0 981.5,407.3 999.2,405.7 1017.0,406.4 1034.8,412.1 1052.5,406.4 1070.2,407.4 1088.0,392.2 1105.8,390.3 1123.5,385.0 1141.2,397.3"/><polyline points="591.0,320.4 608.8,334.5 626.5,397.1 644.2,433.6 662.0,443.7 679.8,429.6 697.5,351.5 715.2,385.4 733.0,396.0 750.8,396.3 768.5,489.3 786.2,594.6 804.0,549.0 821.8,504.1 839.5,467.5 857.2,425.2 875.0,419.8 892.8,425.6 910.5,420.0 928.2,405.7 946.0,417.7 963.8,426.4 981.5,389.0 999.2,421.2 1017.0,406.3 1034.8,429.6 1052.5,416.1 1070.2,407.0 1088.0,399.0 1105.8,388.3 1123.5,383.7 1141.2,391.0"/><polyline points="591.0,311.3 608.8,333.2 626.5,379.2 644.2,386.6 662.0,430.4 679.8,404.2 697.5,348.9 715.2,350.9 733.0,370.8 750.8,408.3 768.5,503.7 786.2,570.1 804.0,526.5 821.8,495.6 839.5,453.4 857.2,440.1 875.0,426.6 892.8,431.9 910.5,407.8 928.2,414.0 946.0,404.9 963.8,418.9 981.5,409.8 999.2,418.1 1017.0,402.0 1034.8,420.1 1052.5,405.8 1070.2,414.6 1088.0,396.3 1105.8,384.3 1123.5,393.4 1141.2,385.3"/><polyline points="591.0,313.3 608.8,338.0 626.5,377.0 644.2,379.2 662.0,414.3 679.8,391.7 697.5,366.3 715.2,330.4 733.0,378.1 750.8,392.2 768.5,462.7 786.2,545.0 804.0,532.8 821.8,495.4 839.5,458.5 857.2,433.3 875.0,402.5 892.8,405.9 910.5,409.6 928.2,407.9 946.0,403.4 963.8,410.2 981.5,409.4 999.2,387.7 1017.0,409.5 1034.8,399.5 1052.5,390.6 1070.2,386.1 1088.0,397.6 1105.8,384.9 1123.5,390.1 1141.2,374.1"/><polyline points="591.0,319.6 608.8,313.4 626.5,391.5 644.2,394.4 662.0,411.0 679.8,382.9 697.5,341.6 715.2,338.1 733.0,356.6 750.8,389.5 768.5,477.3 786.2,620.0 804.0,542.9 821.8,501.2 839.5,444.9 857.2,416.7 875.0,422.4 892.8,412.2 910.5,390.3 928.2,411.5 946.0,392.2 963.8,410.1 981.5,402.9 999.2,396.2 1017.0,393.3 1034.8,403.6 1052.5,395.6 1070.2,384.9 1088.0,391.8 1105.8,372.9 1123.5,363.1 1141.2,380.8"/><polyline points="591.0,312.2 608.8,342.9 626.5,419.8 644.2,413.6 662.0,430.8 679.8,396.0 697.5,351.5 715.2,371.3 733.0,381.9 750.8,405.5 768.5,471.6 786.2,568.0 804.0,565.0 821.8,530.3 839.5,475.4 857.2,437.9 875.0,432.6 892.8,419.9 910.5,414.7 928.2,423.2 946.0,427.6 963.8,415.8 981.5,393.9 999.2,396.6 1017.0,403.4 1034.8,418.4 1052.5,411.1 1070.2,411.6 1088.0,421.0 1105.8,384.7 1123.5,402.2 1141.2,391.8"/><polyline points="591.0,310.7 608.8,342.9 626.5,404.8 644.2,413.8 662.0,414.3 679.8,423.4 697.5,353.0 715.2,364.7 733.0,363.8 750.8,390.8 768.5,446.7 786.2,531.7 804.0,569.1 821.8,512.7 839.5,459.9 857.2,437.7 875.0,423.8 892.8,420.7 910.5,424.4 928.2,402.9 946.0,407.0 963.8,407.3 981.5,391.5 999.2,420.5 1017.0,399.7 1034.8,410.0 1052.5,400.0 1070.2,392.0 1088.0,403.4 1105.8,386.8 1123.5,379.7 1141.2,382.8"/><polyline points="591.0,313.8 608.8,327.1 626.5,394.1 644.2,387.5 662.0,422.4 679.8,401.2 697.5,354.4 715.2,363.4 733.0,385.3 750.8,399.3 768.5,511.5 786.2,579.0 804.0,534.7 821.8,474.2 839.5,449.3 857.2,439.6 875.0,419.7 892.8,410.8 910.5,410.6 928.2,417.6 946.0,418.4 963.8,417.8 981.5,404.7 999.2,386.0 1017.0,397.4 1034.8,410.8 1052.5,405.9 1070.2,405.1 1088.0,391.1 1105.8,392.5 1123.5,399.8 1141.2,390.8"/><polyline points="591.0,305.7 608.8,323.8 626.5,393.7 644.2,376.9 662.0,438.2 679.8,392.1 697.5,364.6 715.2,353.9 733.0,385.4 750.8,385.4 768.5,472.3 786.2,568.2 804.0,564.0 821.8,523.2 839.5,471.8 857.2,438.2 875.0,414.7 892.8,419.3 910.5,420.6 928.2,417.8 946.0,412.0 963.8,419.8 981.5,393.2 999.2,416.3 1017.0,418.1 1034.8,424.9 1052.5,411.7 1070.2,416.5 1088.0,385.2 1105.8,378.5 1123.5,387.7 1141.2,387.5"/><polyline points="591.0,301.7 608.8,312.0 626.5,398.5 644.2,384.9 662.0,396.4 679.8,385.6 697.5,378.7 715.2,350.8 733.0,382.6 750.8,458.7 768.5,571.6 786.2,567.9 804.0,520.0 821.8,455.7 839.5,432.8 857.2,413.3 875.0,411.8 892.8,418.6 910.5,416.6 928.2,415.5 946.0,392.4 963.8,400.3 981.5,397.4 999.2,403.5 1017.0,400.4 1034.8,400.2 1052.5,386.2 1070.2,403.5 1088.0,382.3 1105.8,379.5 1123.5,381.1 1141.2,385.0"/><polyline points="591.0,294.3 608.8,349.6 626.5,350.2 644.2,388.8 662.0,410.7 679.8,380.6 697.5,340.9 715.2,337.7 733.0,358.6 750.8,440.2 768.5,537.7 786.2,571.8 804.0,506.9 821.8,475.0 839.5,455.2 857.2,429.3 875.0,415.6 892.8,409.7 910.5,416.3 928.2,404.2 946.0,410.6 963.8,400.8 981.5,404.5 999.2,402.8 1017.0,397.7 1034.8,395.2 1052.5,396.7 1070.2,407.8 1088.0,384.9 1105.8,382.5 1123.5,364.3 1141.2,370.2"/><polyline points="591.0,318.3 608.8,345.0 626.5,438.9 644.2,397.4 662.0,423.8 679.8,411.8 697.5,367.3 715.2,350.1 733.0,367.0 750.8,475.9 768.5,565.1 786.2,557.2 804.0,498.3 821.8,467.5 839.5,423.4 857.2,410.4 875.0,418.1 892.8,394.6 910.5,428.3 928.2,417.8 946.0,409.8 963.8,408.2 981.5,405.8 999.2,404.9 1017.0,392.7 1034.8,411.6 1052.5,393.8 1070.2,392.9 1088.0,393.2 1105.8,384.1 1123.5,380.8 1141.2,382.6"/><polyline points="591.0,322.7 608.8,325.9 626.5,389.7 644.2,400.9 662.0,421.3 679.8,384.8 697.5,358.4 715.2,348.2 733.0,360.8 750.8,450.1 768.5,535.8 786.2,562.0 804.0,499.5 821.8,456.9 839.5,422.7 857.2,397.5 875.0,409.7 892.8,406.6 910.5,390.7 928.2,420.7 946.0,422.8 963.8,407.1 981.5,403.7 999.2,412.5 1017.0,405.1 1034.8,388.7 1052.5,410.3 1070.2,379.5 1088.0,387.4 1105.8,395.2 1123.5,374.3 1141.2,368.3"/><polyline points="591.0,313.9 608.8,330.7 626.5,423.7 644.2,409.9 662.0,445.7 679.8,411.7 697.5,365.9 715.2,341.1 733.0,369.9 750.8,398.0 768.5,508.4 786.2,597.4 804.0,546.7 821.8,499.2 839.5,476.4 857.2,442.9 875.0,424.7 892.8,431.4 910.5,418.8 928.2,409.0 946.0,401.4 963.8,412.4 981.5,412.2 999.2,405.7 1017.0,402.6 1034.8,411.8 1052.5,412.4 1070.2,404.2 1088.0,394.3 1105.8,364.8 1123.5,388.9 1141.2,384.5"/><polyline points="591.0,310.4 608.8,342.5 626.5,394.0 644.2,402.0 662.0,427.8 679.8,365.7 697.5,355.6 715.2,344.5 733.0,370.5 750.8,442.4 768.5,539.8 786.2,589.1 804.0,540.8 821.8,505.6 839.5,448.2 857.2,438.4 875.0,413.1 892.8,409.1 910.5,418.6 928.2,419.8 946.0,410.6 963.8,420.9 981.5,401.4 999.2,400.5 1017.0,401.8 1034.8,411.2 1052.5,411.4 1070.2,406.7 1088.0,390.2 1105.8,382.0 1123.5,379.4 1141.2,388.2"/><polyline points="591.0,309.0 608.8,338.0 626.5,395.1 644.2,404.2 662.0,427.5 679.8,399.5 697.5,362.0 715.2,346.6 733.0,377.5 750.8,427.8 768.5,528.9 786.2,580.0 804.0,553.8 821.8,537.1 839.5,518.3 857.2,489.0 875.0,477.6 892.8,443.9 910.5,443.6 928.2,413.8 946.0,414.4 963.8,408.2 981.5,408.9 999.2,398.6 1017.0,403.8 1034.8,420.1 1052.5,398.6 1070.2,407.5 1088.0,387.7 1105.8,396.8 1123.5,377.5 1141.2,375.7"/><polyline points="591.0,294.4 608.8,345.1 626.5,416.2 644.2,385.3 662.0,409.3 679.8,405.2 697.5,355.3 715.2,361.8 733.0,363.5 750.8,389.5 768.5,392.2 786.2,397.7 804.0,397.3 821.8,467.6 839.5,491.7 857.2,478.5 875.0,459.9 892.8,429.7 910.5,424.8 928.2,421.0 946.0,421.9 963.8,426.2 981.5,398.9 999.2,414.8 1017.0,393.9 1034.8,415.8 1052.5,400.4 1070.2,397.9 1088.0,406.7 1105.8,382.9 1123.5,386.9 1141.2,400.9"/><polyline points="591.0,302.2 608.8,318.1 626.5,387.0 644.2,410.0 662.0,419.0 679.8,401.9 697.5,360.2 715.2,355.2 733.0,382.0 750.8,397.9 768.5,481.1 786.2,572.6 804.0,548.3 821.8,501.9 839.5,463.9 857.2,448.4 875.0,417.5 892.8,420.6 910.5,410.2 928.2,417.3 946.0,432.3 963.8,415.6 981.5,394.4 999.2,388.9 1017.0,404.6 1034.8,410.1 1052.5,391.9 1070.2,394.7 1088.0,395.3 1105.8,375.7 1123.5,383.9 1141.2,389.4"/><polyline points="591.0,309.8 608.8,320.1 626.5,374.5 644.2,371.9 662.0,400.9 679.8,384.9 697.5,341.5 715.2,344.3 733.0,373.1 750.8,388.0 768.5,394.8 786.2,432.1 804.0,551.0 821.8,573.3 839.5,533.9 857.2,477.6 875.0,453.9 892.8,438.3 910.5,418.1 928.2,411.9 946.0,405.7 963.8,388.4 981.5,390.9 999.2,391.8 1017.0,406.1 1034.8,408.3 1052.5,389.6 1070.2,402.2 1088.0,393.7 1105.8,366.3 1123.5,391.5 1141.2,383.7"/><polyline points="591.0,329.2 608.8,341.0 626.5,384.8 644.2,426.3 662.0,438.0 679.8,392.3 697.5,389.4 715.2,364.2 733.0,399.0 750.8,428.5 768.5,506.8 786.2,605.2 804.0,555.4 821.8,525.1 839.5,472.5 857.2,452.3 875.0,443.2 892.8,438.0 910.5,434.4 928.2,436.8 946.0,434.7 963.8,421.9 981.5,415.1 999.2,410.4 1017.0,416.2 1034.8,409.5 1052.5,408.9 1070.2,424.1 1088.0,409.3 1105.8,392.0 1123.5,403.8 1141.2,400.3"/><polyline points="591.0,309.6 608.8,333.9 626.5,431.7 644.2,419.1 662.0,418.4 679.8,395.9 697.5,371.1 715.2,368.8 733.0,369.8 750.8,376.7 768.5,487.7 786.2,583.2 804.0,537.6 821.8,515.1 839.5,472.0 857.2,448.5 875.0,426.7 892.8,424.2 910.5,411.0 928.2,401.1 946.0,411.4 963.8,405.3 981.5,388.2 999.2,384.4 1017.0,396.2 1034.8,408.0 1052.5,417.1 1070.2,391.9 1088.0,387.1 1105.8,382.6 1123.5,390.3 1141.2,372.4"/><polyline points="591.0,316.9 608.8,339.0 626.5,384.7 644.2,387.9 662.0,421.8 679.8,380.6 697.5,348.5 715.2,350.6 733.0,384.3 750.8,409.5 768.5,508.8 786.2,583.6 804.0,539.9 821.8,476.2 839.5,448.1 857.2,429.5 875.0,417.5 892.8,405.5 910.5,402.5 928.2,417.4 946.0,421.1 963.8,403.7 981.5,392.7 999.2,399.1 1017.0,395.4 1034.8,417.6 1052.5,409.4 1070.2,403.4 1088.0,387.0 1105.8,374.7 1123.5,379.5 1141.2,383.4"/><polyline points="591.0,318.1 608.8,346.1 626.5,401.6 644.2,391.7 662.0,429.2 679.8,399.7 697.5,362.8 715.2,355.9 733.0,364.9 750.8,396.8 768.5,499.5 786.2,593.0 804.0,548.1 821.8,493.9 839.5,468.4 857.2,454.9 875.0,417.2 892.8,419.3 910.5,417.3 928.2,419.8 946.0,422.7 963.8,411.3 981.5,414.0 999.2,412.2 1017.0,403.9 1034.8,421.0 1052.5,417.0 1070.2,414.9 1088.0,397.0 1105.8,395.9 1123.5,388.7 1141.2,382.2"/><polyline points="591.0,318.9 608.8,345.3 626.5,414.5 644.2,415.3 662.0,443.9 679.8,411.4 697.5,373.8 715.2,366.5 733.0,359.4 750.8,422.2 768.5,511.4 786.2,602.2 804.0,552.9 821.8,494.1 839.5,465.1 857.2,433.3 875.0,424.2 892.8,415.8 910.5,422.7 928.2,434.7 946.0,428.6 963.8,416.9 981.5,407.3 999.2,424.1 1017.0,412.7 1034.8,431.1 1052.5,428.9 1070.2,419.5 1088.0,397.6 1105.8,377.4 1123.5,410.4 1141.2,385.0"/><polyline points="591.0,295.4 608.8,354.4 626.5,356.9 644.2,397.4 662.0,426.2 679.8,387.7 697.5,336.4 715.2,346.0 733.0,370.2 750.8,403.3 768.5,498.2 786.2,572.5 804.0,504.9 821.8,485.2 839.5,454.2 857.2,426.8 875.0,402.8 892.8,415.6 910.5,418.0 928.2,416.4 946.0,401.9 963.8,409.7 981.5,389.4 999.2,405.9 1017.0,391.6 1034.8,393.9 1052.5,393.5 1070.2,396.1 1088.0,386.5 1105.8,375.9 1123.5,369.0 1141.2,378.0"/><polyline points="591.0,319.3 608.8,311.7 626.5,358.8 644.2,414.1 662.0,448.5 679.8,408.1 697.5,356.5 715.2,347.4 733.0,360.0 750.8,381.7 768.5,404.0 786.2,514.8 804.0,580.4 821.8,537.2 839.5,497.7 857.2,450.1 875.0,429.1 892.8,420.7 910.5,405.8 928.2,413.6 946.0,417.2 963.8,412.0 981.5,387.5 999.2,404.1 1017.0,400.1 1034.8,410.5 1052.5,391.7 1070.2,398.3 1088.0,392.8 1105.8,378.8 1123.5,377.1 1141.2,382.3"/><polyline points="591.0,302.4 608.8,316.5 626.5,391.7 644.2,386.1 662.0,415.9 679.8,383.6 697.5,348.4 715.2,335.5 733.0,349.4 750.8,392.6 768.5,504.7 786.2,578.0 804.0,520.3 821.8,490.9 839.5,451.4 857.2,430.9 875.0,412.7 892.8,418.5 910.5,409.5 928.2,405.9 946.0,406.4 963.8,410.6 981.5,393.6 999.2,398.4 1017.0,390.6 1034.8,414.5 1052.5,390.9 1070.2,368.4 1088.0,389.8 1105.8,371.5 1123.5,372.9 1141.2,380.1"/><polyline points="591.0,302.7 608.8,295.8 626.5,370.5 644.2,402.3 662.0,421.0 679.8,387.3 697.5,363.5 715.2,343.3 733.0,350.8 750.8,379.4 768.5,495.1 786.2,580.0 804.0,533.4 821.8,484.4 839.5,450.3 857.2,409.9 875.0,403.7 892.8,401.8 910.5,392.7 928.2,397.4 946.0,387.9 963.8,397.3 981.5,396.4 999.2,388.6 1017.0,395.0 1034.8,395.7 1052.5,381.3 1070.2,385.1 1088.0,365.1 1105.8,363.7 1123.5,367.2 1141.2,365.2"/><polyline points="591.0,333.0 608.8,341.8 626.5,432.9 644.2,425.2 662.0,419.1 679.8,415.9 697.5,366.5 715.2,364.4 733.0,373.1 750.8,404.5 768.5,387.9 786.2,398.2 804.0,442.7 821.8,449.7 839.5,431.6 857.2,424.9 875.0,420.0 892.8,418.0 910.5,420.6 928.2,425.3 946.0,418.8 963.8,410.0 981.5,410.6 999.2,403.4 1017.0,405.9 1034.8,414.0 1052.5,411.7 1070.2,401.6 1088.0,392.6 1105.8,373.8 1123.5,374.7 1141.2,388.7"/><polyline points="591.0,287.9 608.8,318.2 626.5,401.7 644.2,418.7 662.0,408.4 679.8,363.9 697.5,343.5 715.2,354.8 733.0,360.6 750.8,395.2 768.5,386.0 786.2,389.5 804.0,391.2 821.8,451.6 839.5,470.0 857.2,450.9 875.0,438.0 892.8,427.7 910.5,426.9 928.2,413.6 946.0,404.6 963.8,399.4 981.5,392.0 999.2,401.8 1017.0,399.4 1034.8,418.7 1052.5,397.4 1070.2,391.0 1088.0,402.3 1105.8,388.8 1123.5,390.6 1141.2,370.2"/><polyline points="591.0,307.6 608.8,331.0 626.5,382.4 644.2,386.0 662.0,426.3 679.8,417.7 697.5,349.9 715.2,367.5 733.0,382.2 750.8,385.0 768.5,482.8 786.2,584.1 804.0,531.6 821.8,488.3 839.5,448.0 857.2,429.4 875.0,422.4 892.8,419.1 910.5,410.7 928.2,404.0 946.0,415.9 963.8,416.6 981.5,394.7 999.2,404.7 1017.0,392.0 1034.8,404.4 1052.5,402.2 1070.2,395.2 1088.0,402.6 1105.8,381.9 1123.5,385.3 1141.2,392.8"/><polyline points="591.0,291.1 608.8,340.2 626.5,394.0 644.2,397.9 662.0,419.0 679.8,379.3 697.5,362.9 715.2,330.6 733.0,373.5 750.8,429.0 768.5,518.4 786.2,564.5 804.0,512.2 821.8,470.3 839.5,416.8 857.2,409.0 875.0,406.4 892.8,408.3 910.5,388.4 928.2,404.2 946.0,404.6 963.8,413.3 981.5,396.3 999.2,402.9 1017.0,398.6 1034.8,395.5 1052.5,414.1 1070.2,395.6 1088.0,388.0 1105.8,372.5 1123.5,389.4 1141.2,376.6"/><polyline points="591.0,306.9 608.8,323.3 626.5,374.4 644.2,398.7 662.0,420.5 679.8,415.6 697.5,367.3 715.2,372.7 733.0,351.3 750.8,392.2 768.5,433.8 786.2,533.2 804.0,565.6 821.8,504.7 839.5,479.6 857.2,441.0 875.0,439.5 892.8,429.4 910.5,401.6 928.2,421.9 946.0,414.2 963.8,418.8 981.5,399.7 999.2,414.9 1017.0,412.9 1034.8,412.8 1052.5,390.4 1070.2,380.8 1088.0,404.9 1105.8,387.9 1123.5,373.7 1141.2,377.9"/><polyline points="591.0,312.9 608.8,348.7 626.5,397.6 644.2,398.4 662.0,419.4 679.8,423.2 697.5,385.5 715.2,393.1 733.0,375.0 750.8,389.0 768.5,505.4 786.2,585.3 804.0,551.7 821.8,498.0 839.5,464.8 857.2,458.1 875.0,424.8 892.8,425.2 910.5,425.7 928.2,433.8 946.0,434.1 963.8,418.1 981.5,423.1 999.2,413.0 1017.0,414.0 1034.8,425.4 1052.5,423.3 1070.2,410.2 1088.0,411.4 1105.8,390.4 1123.5,384.6 1141.2,387.3"/><polyline points="591.0,308.8 608.8,324.6 626.5,362.7 644.2,396.5 662.0,434.7 679.8,392.5 697.5,356.1 715.2,357.3 733.0,395.7 750.8,389.1 768.5,385.4 786.2,406.1 804.0,500.0 821.8,582.1 839.5,533.0 857.2,481.9 875.0,456.2 892.8,436.1 910.5,412.1 928.2,416.7 946.0,420.8 963.8,400.3 981.5,402.1 999.2,404.0 1017.0,387.5 1034.8,432.4 1052.5,412.7 1070.2,416.1 1088.0,382.6 1105.8,384.9 1123.5,395.7 1141.2,381.1"/><polyline points="591.0,328.7 608.8,351.6 626.5,404.5 644.2,425.0 662.0,445.7 679.8,402.6 697.5,363.8 715.2,365.0 733.0,378.5 750.8,397.2 768.5,403.6 786.2,404.2 804.0,446.7 821.8,472.0 839.5,464.8 857.2,449.1 875.0,429.1 892.8,442.4 910.5,432.4 928.2,426.2 946.0,412.9 963.8,430.4 981.5,403.9 999.2,403.5 1017.0,412.3 1034.8,430.2 1052.5,413.2 1070.2,409.9 1088.0,396.9 1105.8,403.0 1123.5,391.7 1141.2,400.2"/><polyline points="591.0,335.6 608.8,345.8 626.5,395.7 644.2,427.3 662.0,425.1 679.8,405.4 697.5,386.0 715.2,380.1 733.0,376.8 750.8,431.2 768.5,519.4 786.2,586.9 804.0,562.8 821.8,510.6 839.5,465.9 857.2,462.3 875.0,447.9 892.8,440.3 910.5,435.0 928.2,424.5 946.0,417.6 963.8,431.5 981.5,414.1 999.2,417.7 1017.0,428.2 1034.8,409.8 1052.5,401.6 1070.2,399.8 1088.0,402.4 1105.8,397.6 1123.5,401.3 1141.2,391.5"/><polyline points="591.0,320.0 608.8,346.2 626.5,372.7 644.2,391.9 662.0,419.3 679.8,414.3 697.5,369.3 715.2,357.9 733.0,357.2 750.8,397.6 768.5,504.5 786.2,575.3 804.0,544.3 821.8,483.9 839.5,457.2 857.2,440.2 875.0,427.1 892.8,418.6 910.5,437.7 928.2,418.2 946.0,421.6 963.8,415.0 981.5,416.9 999.2,418.6 1017.0,418.4 1034.8,419.5 1052.5,416.3 1070.2,395.1 1088.0,396.6 1105.8,395.8 1123.5,370.6 1141.2,375.9"/><polyline points="591.0,301.5 608.8,336.1 626.5,390.5 644.2,411.2 662.0,437.0 679.8,444.2 697.5,358.7 715.2,340.2 733.0,386.1 750.8,397.8 768.5,480.7 786.2,586.0 804.0,555.8 821.8,512.4 839.5,470.9 857.2,451.8 875.0,430.7 892.8,436.0 910.5,407.4 928.2,414.0 946.0,422.7 963.8,423.2 981.5,401.5 999.2,417.6 1017.0,414.3 1034.8,430.1 1052.5,403.7 1070.2,412.7 1088.0,397.3 1105.8,391.3 1123.5,394.8 1141.2,384.3"/><polyline points="591.0,300.7 608.8,342.7 626.5,376.3 644.2,402.3 662.0,410.7 679.8,374.2 697.5,353.0 715.2,349.1 733.0,346.5 750.8,400.0 768.5,450.0 786.2,576.6 804.0,585.9 821.8,524.0 839.5,487.1 857.2,450.3 875.0,431.7 892.8,419.4 910.5,415.1 928.2,415.5 946.0,412.2 963.8,405.4 981.5,387.1 999.2,402.6 1017.0,398.9 1034.8,415.5 1052.5,395.3 1070.2,399.0 1088.0,384.3 1105.8,386.1 1123.5,380.4 1141.2,386.4"/><polyline points="591.0,323.7 608.8,344.6 626.5,416.2 644.2,431.7 662.0,453.2 679.8,414.1 697.5,379.6 715.2,391.0 733.0,365.0 750.8,409.5 768.5,500.9 786.2,606.3 804.0,553.9 821.8,510.1 839.5,462.2 857.2,444.4 875.0,417.7 892.8,433.5 910.5,424.9 928.2,417.7 946.0,437.6 963.8,425.4 981.5,407.0 999.2,419.5 1017.0,411.2 1034.8,407.8 1052.5,416.1 1070.2,424.6 1088.0,392.6 1105.8,393.6 1123.5,403.4 1141.2,400.0"/><polyline points="591.0,312.1 608.8,330.5 626.5,377.3 644.2,396.6 662.0,409.7 679.8,405.9 697.5,369.0 715.2,337.7 733.0,366.1 750.8,395.9 768.5,475.0 786.2,586.2 804.0,533.6 821.8,492.9 839.5,447.1 857.2,433.4 875.0,421.4 892.8,437.2 910.5,431.0 928.2,419.0 946.0,417.0 963.8,417.1 981.5,408.8 999.2,388.0 1017.0,406.2 1034.8,420.9 1052.5,406.8 1070.2,392.2 1088.0,385.4 1105.8,372.9 1123.5,402.4 1141.2,394.8"/><polyline points="591.0,326.0 608.8,354.0 626.5,388.4 644.2,422.7 662.0,428.2 679.8,406.9 697.5,353.1 715.2,362.5 733.0,375.1 750.8,439.0 768.5,533.0 786.2,573.2 804.0,537.4 821.8,487.8 839.5,464.7 857.2,432.0 875.0,427.7 892.8,416.5 910.5,413.6 928.2,414.7 946.0,413.9 963.8,425.5 981.5,402.6 999.2,411.9 1017.0,413.2 1034.8,436.5 1052.5,417.1 1070.2,396.8 1088.0,390.6 1105.8,391.5 1123.5,394.9 1141.2,385.2"/><polyline points="591.0,318.9 608.8,334.4 626.5,415.7 644.2,413.4 662.0,416.3 679.8,403.4 697.5,354.4 715.2,369.2 733.0,368.7 750.8,383.5 768.5,405.1 786.2,400.7 804.0,488.2 821.8,576.2 839.5,547.0 857.2,507.8 875.0,480.2 892.8,463.0 910.5,432.8 928.2,425.8 946.0,434.3 963.8,414.6 981.5,401.3 999.2,407.9 1017.0,415.5 1034.8,409.4 1052.5,405.2 1070.2,397.9 1088.0,414.1 1105.8,399.8 1123.5,392.1 1141.2,399.0"/><polyline points="591.0,304.4 608.8,312.5 626.5,418.5 644.2,418.5 662.0,437.7 679.8,432.3 697.5,355.5 715.2,350.3 733.0,379.9 750.8,380.0 768.5,386.4 786.2,445.7 804.0,554.5 821.8,554.9 839.5,509.4 857.2,469.6 875.0,424.1 892.8,411.2 910.5,409.8 928.2,411.7 946.0,404.9 963.8,411.0 981.5,402.6 999.2,392.1 1017.0,396.0 1034.8,401.1 1052.5,385.7 1070.2,400.7 1088.0,403.6 1105.8,376.3 1123.5,392.6 1141.2,391.7"/><polyline points="591.0,311.2 608.8,329.3 626.5,358.2 644.2,410.8 662.0,414.7 679.8,392.9 697.5,360.6 715.2,346.5 733.0,354.6 750.8,389.7 768.5,392.8 786.2,401.0 804.0,453.2 821.8,474.0 839.5,482.4 857.2,457.6 875.0,428.6 892.8,421.5 910.5,417.2 928.2,424.9 946.0,410.0 963.8,422.4 981.5,402.1 999.2,393.8 1017.0,401.8 1034.8,394.7 1052.5,394.6 1070.2,401.2 1088.0,385.1 1105.8,379.2 1123.5,371.2 1141.2,382.1"/><polyline points="591.0,296.5 608.8,322.8 626.5,362.4 644.2,384.8 662.0,407.0 679.8,393.7 697.5,370.8 715.2,332.0 733.0,373.5 750.8,367.0 768.5,461.7 786.2,591.4 804.0,547.7 821.8,486.5 839.5,448.8 857.2,423.3 875.0,391.3 892.8,411.3 910.5,401.3 928.2,387.1 946.0,408.7 963.8,410.6 981.5,405.8 999.2,403.4 1017.0,392.1 1034.8,409.2 1052.5,394.1 1070.2,391.7 1088.0,402.3 1105.8,373.7 1123.5,355.8 1141.2,372.5"/><polyline points="591.0,304.7 608.8,343.2 626.5,363.5 644.2,400.5 662.0,414.7 679.8,375.9 697.5,358.1 715.2,353.2 733.0,371.1 750.8,375.4 768.5,493.6 786.2,582.6 804.0,528.1 821.8,475.0 839.5,437.5 857.2,410.9 875.0,419.4 892.8,405.4 910.5,419.2 928.2,407.2 946.0,407.8 963.8,398.3 981.5,383.9 999.2,397.6 1017.0,393.6 1034.8,415.5 1052.5,383.4 1070.2,379.9 1088.0,396.1 1105.8,369.4 1123.5,367.6 1141.2,359.0"/><polyline points="591.0,310.2 608.8,324.3 626.5,385.7 644.2,407.5 662.0,421.9 679.8,393.5 697.5,365.8 715.2,343.2 733.0,352.1 750.8,407.0 768.5,516.8 786.2,573.2 804.0,523.9 821.8,474.2 839.5,453.7 857.2,412.1 875.0,420.2 892.8,414.5 910.5,428.0 928.2,403.2 946.0,412.3 963.8,402.9 981.5,394.4 999.2,400.1 1017.0,405.6 1034.8,419.1 1052.5,394.7 1070.2,387.8 1088.0,390.7 1105.8,389.2 1123.5,384.9 1141.2,385.5"/><polyline points="591.0,317.8 608.8,343.4 626.5,367.3 644.2,397.5 662.0,421.1 679.8,386.2 697.5,344.2 715.2,345.8 733.0,381.7 750.8,386.9 768.5,407.2 786.2,456.8 804.0,558.6 821.8,573.6 839.5,528.4 857.2,461.5 875.0,450.8 892.8,431.0 910.5,412.1 928.2,415.3 946.0,409.2 963.8,431.3 981.5,426.9 999.2,394.8 1017.0,400.3 1034.8,414.7 1052.5,399.0 1070.2,412.2 1088.0,401.2 1105.8,386.9 1123.5,374.9 1141.2,375.4"/><polyline points="591.0,315.1 608.8,335.9 626.5,375.8 644.2,394.3 662.0,416.3 679.8,396.2 697.5,370.2 715.2,351.2 733.0,379.9 750.8,388.3 768.5,457.3 786.2,548.3 804.0,531.2 821.8,503.4 839.5,461.7 857.2,434.9 875.0,418.0 892.8,415.8 910.5,403.0 928.2,433.2 946.0,417.3 963.8,421.4 981.5,412.7 999.2,402.1 1017.0,401.3 1034.8,403.5 1052.5,401.8 1070.2,396.9 1088.0,378.7 1105.8,386.6 1123.5,374.1 1141.2,382.7"/><polyline points="591.0,322.0 608.8,337.0 626.5,404.2 644.2,422.5 662.0,411.9 679.8,409.9 697.5,368.4 715.2,381.5 733.0,384.1 750.8,404.6 768.5,462.9 786.2,565.4 804.0,582.3 821.8,547.3 839.5,490.3 857.2,478.9 875.0,456.6 892.8,440.9 910.5,436.3 928.2,414.9 946.0,425.6 963.8,422.2 981.5,411.8 999.2,403.5 1017.0,405.9 1034.8,421.7 1052.5,404.5 1070.2,406.6 1088.0,395.7 1105.8,399.6 1123.5,412.9 1141.2,399.1"/><polyline points="591.0,300.4 608.8,334.5 626.5,369.1 644.2,414.5 662.0,420.4 679.8,380.4 697.5,380.4 715.2,326.8 733.0,360.9 750.8,388.8 768.5,494.0 786.2,578.5 804.0,541.6 821.8,495.7 839.5,457.8 857.2,438.7 875.0,412.0 892.8,413.4 910.5,419.1 928.2,414.9 946.0,417.3 963.8,407.6 981.5,406.5 999.2,400.2 1017.0,393.5 1034.8,396.9 1052.5,381.5 1070.2,389.6 1088.0,389.1 1105.8,384.7 1123.5,376.5 1141.2,373.1"/><polyline points="591.0,319.3 608.8,329.8 626.5,370.6 644.2,420.3 662.0,432.2 679.8,393.3 697.5,338.2 715.2,345.9 733.0,377.6 750.8,387.7 768.5,477.3 786.2,595.8 804.0,546.9 821.8,499.4 839.5,454.2 857.2,437.2 875.0,422.0 892.8,420.1 910.5,399.3 928.2,424.9 946.0,429.4 963.8,418.0 981.5,400.5 999.2,414.0 1017.0,414.5 1034.8,406.7 1052.5,403.2 1070.2,401.5 1088.0,388.1 1105.8,384.7 1123.5,393.6 1141.2,403.3"/><polyline points="591.0,297.5 608.8,329.9 626.5,355.2 644.2,424.3 662.0,400.6 679.8,376.6 697.5,338.6 715.2,357.2 733.0,361.3 750.8,410.6 768.5,529.1 786.2,572.1 804.0,524.1 821.8,493.9 839.5,451.2 857.2,431.1 875.0,416.1 892.8,405.9 910.5,406.4 928.2,394.6 946.0,412.1 963.8,403.3 981.5,387.0 999.2,388.5 1017.0,395.4 1034.8,401.1 1052.5,397.5 1070.2,401.4 1088.0,385.0 1105.8,361.6 1123.5,377.8 1141.2,376.3"/><polyline points="591.0,324.5 608.8,310.6 626.5,418.3 644.2,386.2 662.0,415.9 679.8,431.1 697.5,379.6 715.2,363.4 733.0,356.4 750.8,399.4 768.5,500.4 786.2,579.6 804.0,548.6 821.8,496.7 839.5,486.2 857.2,447.9 875.0,423.5 892.8,431.8 910.5,421.2 928.2,426.5 946.0,401.2 963.8,407.6 981.5,402.0 999.2,389.0 1017.0,403.8 1034.8,412.4 1052.5,401.0 1070.2,398.0 1088.0,382.0 1105.8,389.9 1123.5,396.7 1141.2,373.5"/><polyline points="591.0,311.0 608.8,316.1 626.5,390.8 644.2,389.7 662.0,397.3 679.8,394.3 697.5,353.3 715.2,339.8 733.0,381.8 750.8,397.4 768.5,377.0 786.2,384.3 804.0,460.4 821.8,444.3 839.5,438.4 857.2,430.0 875.0,426.5 892.8,403.1 910.5,414.7 928.2,418.7 946.0,388.5 963.8,403.0 981.5,389.1 999.2,402.1 1017.0,383.5 1034.8,404.3 1052.5,394.2 1070.2,385.3 1088.0,387.7 1105.8,364.4 1123.5,368.0 1141.2,369.8"/><polyline points="591.0,310.1 608.8,326.4 626.5,379.6 644.2,415.4 662.0,437.3 679.8,397.1 697.5,360.4 715.2,358.9 733.0,363.7 750.8,394.2 768.5,411.2 786.2,503.9 804.0,587.2 821.8,566.6 839.5,524.8 857.2,453.4 875.0,436.0 892.8,430.2 910.5,427.9 928.2,401.0 946.0,429.9 963.8,426.1 981.5,411.5 999.2,405.0 1017.0,389.5 1034.8,416.1 1052.5,399.0 1070.2,404.9 1088.0,394.0 1105.8,377.3 1123.5,405.4 1141.2,407.7"/><polyline points="591.0,307.7 608.8,303.3 626.5,385.8 644.2,398.9 662.0,417.2 679.8,388.8 697.5,368.8 715.2,358.3 733.0,352.2 750.8,383.7 768.5,471.3 786.2,577.6 804.0,564.1 821.8,495.1 839.5,474.0 857.2,453.3 875.0,427.4 892.8,420.1 910.5,396.5 928.2,402.0 946.0,397.3 963.8,416.7 981.5,393.6 999.2,387.8 1017.0,393.9 1034.8,413.2 1052.5,383.4 1070.2,397.3 1088.0,387.7 1105.8,375.0 1123.5,379.6 1141.2,370.6"/><polyline points="591.0,283.7 608.8,321.6 626.5,380.7 644.2,401.1 662.0,414.3 679.8,400.4 697.5,354.4 715.2,343.3 733.0,363.1 750.8,411.1 768.5,510.3 786.2,568.3 804.0,524.2 821.8,485.8 839.5,433.5 857.2,415.7 875.0,429.5 892.8,404.6 910.5,390.0 928.2,406.6 946.0,410.3 963.8,416.8 981.5,400.3 999.2,402.0 1017.0,399.0 1034.8,415.3 1052.5,383.6 1070.2,393.5 1088.0,391.6 1105.8,380.7 1123.5,388.9 1141.2,368.5"/><polyline points="591.0,311.7 608.8,330.8 626.5,361.4 644.2,413.8 662.0,441.3 679.8,417.6 697.5,380.8 715.2,363.6 733.0,381.5 750.8,437.9 768.5,549.4 786.2,572.5 804.0,534.6 821.8,490.8 839.5,461.7 857.2,447.7 875.0,416.1 892.8,425.3 910.5,418.8 928.2,422.8 946.0,420.0 963.8,421.0 981.5,405.6 999.2,416.7 1017.0,417.4 1034.8,423.1 1052.5,401.6 1070.2,402.4 1088.0,402.3 1105.8,406.9 1123.5,396.7 1141.2,394.9"/><polyline points="591.0,297.0 608.8,321.1 626.5,398.1 644.2,414.0 662.0,429.2 679.8,397.1 697.5,377.7 715.2,363.8 733.0,365.7 750.8,396.5 768.5,505.3 786.2,576.3 804.0,522.7 821.8,482.0 839.5,441.9 857.2,424.1 875.0,434.2 892.8,423.9 910.5,422.9 928.2,425.3 946.0,411.9 963.8,414.1 981.5,408.3 999.2,419.6 1017.0,403.5 1034.8,405.0 1052.5,399.9 1070.2,415.9 1088.0,398.7 1105.8,378.9 1123.5,392.1 1141.2,395.9"/><polyline points="591.0,294.3 608.8,327.8 626.5,397.3 644.2,414.4 662.0,409.4 679.8,377.6 697.5,367.0 715.2,349.8 733.0,375.9 750.8,393.1 768.5,412.6 786.2,505.5 804.0,566.0 821.8,533.1 839.5,488.8 857.2,463.4 875.0,433.3 892.8,425.4 910.5,406.6 928.2,409.6 946.0,416.4 963.8,420.0 981.5,387.4 999.2,400.5 1017.0,400.2 1034.8,408.7 1052.5,397.9 1070.2,395.5 1088.0,386.4 1105.8,384.3 1123.5,392.1 1141.2,366.3"/><polyline points="591.0,301.7 608.8,337.8 626.5,406.6 644.2,409.9 662.0,416.0 679.8,402.1 697.5,385.8 715.2,369.6 733.0,385.3 750.8,400.7 768.5,499.1 786.2,573.1 804.0,536.6 821.8,490.3 839.5,458.4 857.2,452.7 875.0,417.8 892.8,426.8 910.5,418.8 928.2,415.2 946.0,425.2 963.8,420.7 981.5,420.4 999.2,426.7 1017.0,414.8 1034.8,415.1 1052.5,404.0 1070.2,391.2 1088.0,401.7 1105.8,386.0 1123.5,409.5 1141.2,386.5"/><polyline points="591.0,320.1 608.8,335.4 626.5,383.2 644.2,414.2 662.0,416.5 679.8,405.6 697.5,358.0 715.2,352.6 733.0,345.1 750.8,385.1 768.5,466.8 786.2,559.7 804.0,545.6 821.8,510.0 839.5,473.2 857.2,426.4 875.0,421.3 892.8,416.1 910.5,427.7 928.2,412.6 946.0,405.2 963.8,408.2 981.5,409.3 999.2,378.9 1017.0,407.2 1034.8,417.8 1052.5,397.5 1070.2,404.6 1088.0,384.7 1105.8,371.7 1123.5,367.3 1141.2,379.4"/><polyline points="591.0,303.7 608.8,337.0 626.5,385.4 644.2,406.3 662.0,415.8 679.8,396.5 697.5,348.0 715.2,349.0 733.0,377.6 750.8,388.9 768.5,479.3 786.2,587.6 804.0,556.9 821.8,523.6 839.5,472.3 857.2,449.0 875.0,421.5 892.8,424.8 910.5,415.6 928.2,416.6 946.0,405.0 963.8,419.7 981.5,394.0 999.2,393.4 1017.0,399.4 1034.8,405.4 1052.5,408.6 1070.2,400.9 1088.0,389.6 1105.8,394.3 1123.5,391.4 1141.2,383.7"/><polyline points="591.0,300.3 608.8,330.2 626.5,380.7 644.2,365.8 662.0,410.0 679.8,403.8 697.5,360.5 715.2,344.2 733.0,356.3 750.8,389.3 768.5,479.4 786.2,562.9 804.0,523.4 821.8,506.5 839.5,449.6 857.2,428.5 875.0,416.4 892.8,411.5 910.5,414.5 928.2,409.3 946.0,404.3 963.8,405.9 981.5,397.1 999.2,411.5 1017.0,412.0 1034.8,412.8 1052.5,412.1 1070.2,389.4 1088.0,383.1 1105.8,360.9 1123.5,386.8 1141.2,383.3"/><polyline points="591.0,300.3 608.8,335.2 626.5,383.4 644.2,435.4 662.0,412.8 679.8,412.4 697.5,364.3 715.2,348.8 733.0,333.7 750.8,389.5 768.5,466.9 786.2,585.2 804.0,545.3 821.8,494.8 839.5,462.2 857.2,439.2 875.0,409.9 892.8,419.1 910.5,401.7 928.2,409.9 946.0,420.3 963.8,402.4 981.5,397.8 999.2,401.3 1017.0,402.8 1034.8,412.9 1052.5,396.8 1070.2,392.2 1088.0,389.4 1105.8,373.8 1123.5,362.8 1141.2,380.4"/><polyline points="591.0,306.3 608.8,337.0 626.5,376.9 644.2,395.3 662.0,421.6 679.8,395.2 697.5,345.9 715.2,357.4 733.0,363.8 750.8,420.3 768.5,507.5 786.2,604.6 804.0,542.5 821.8,507.4 839.5,459.2 857.2,438.8 875.0,429.1 892.8,402.6 910.5,395.6 928.2,410.7 946.0,412.8 963.8,416.4 981.5,412.4 999.2,398.2 1017.0,399.0 1034.8,402.5 1052.5,405.6 1070.2,407.1 1088.0,393.3 1105.8,391.4 1123.5,379.5 1141.2,380.0"/><polyline points="591.0,308.7 608.8,335.9 626.5,430.4 644.2,416.4 662.0,431.9 679.8,384.9 697.5,374.0 715.2,343.6 733.0,366.2 750.8,398.7 768.5,421.0 786.2,495.6 804.0,602.4 821.8,547.9 839.5,488.5 857.2,470.2 875.0,459.9 892.8,432.1 910.5,412.4 928.2,418.2 946.0,422.5 963.8,409.7 981.5,409.6 999.2,402.9 1017.0,408.1 1034.8,413.5 1052.5,408.6 1070.2,407.2 1088.0,394.1 1105.8,403.1 1123.5,381.3 1141.2,394.4"/><polyline points="591.0,328.8 608.8,344.4 626.5,385.4 644.2,424.0 662.0,423.4 679.8,406.5 697.5,361.8 715.2,356.8 733.0,384.3 750.8,413.7 768.5,498.7 786.2,607.7 804.0,559.2 821.8,523.9 839.5,476.1 857.2,448.5 875.0,430.7 892.8,431.8 910.5,425.3 928.2,411.3 946.0,424.2 963.8,432.2 981.5,416.3 999.2,406.5 1017.0,411.9 1034.8,420.7 1052.5,419.2 1070.2,412.6 1088.0,401.4 1105.8,401.2 1123.5,378.3 1141.2,378.1"/><polyline points="591.0,314.4 608.8,339.6 626.5,399.7 644.2,414.8 662.0,438.4 679.8,407.7 697.5,366.5 715.2,366.7 733.0,360.8 750.8,391.2 768.5,457.4 786.2,566.1 804.0,540.3 821.8,495.8 839.5,449.1 857.2,430.4 875.0,413.3 892.8,435.6 910.5,415.2 928.2,399.1 946.0,405.0 963.8,396.1 981.5,394.0 999.2,389.9 1017.0,414.7 1034.8,411.7 1052.5,394.7 1070.2,418.2 1088.0,393.2 1105.8,401.9 1123.5,385.1 1141.2,387.7"/><polyline points="591.0,313.8 608.8,331.6 626.5,393.0 644.2,414.7 662.0,425.2 679.8,378.7 697.5,385.0 715.2,349.4 733.0,360.0 750.8,386.8 768.5,446.4 786.2,539.9 804.0,577.4 821.8,543.3 839.5,493.7 857.2,452.8 875.0,422.9 892.8,419.1 910.5,419.9 928.2,407.3 946.0,408.5 963.8,419.7 981.5,402.2 999.2,416.9 1017.0,393.4 1034.8,409.1 1052.5,397.9 1070.2,403.2 1088.0,390.9 1105.8,394.7 1123.5,402.5 1141.2,386.4"/><polyline points="591.0,317.7 608.8,330.9 626.5,417.2 644.2,407.5 662.0,445.7 679.8,407.0 697.5,358.4 715.2,356.8 733.0,384.1 750.8,390.5 768.5,485.2 786.2,575.5 804.0,559.2 821.8,525.5 839.5,504.5 857.2,468.6 875.0,449.8 892.8,450.2 910.5,428.6 928.2,434.8 946.0,412.8 963.8,405.0 981.5,403.7 999.2,407.5 1017.0,402.3 1034.8,401.4 1052.5,389.9 1070.2,414.9 1088.0,389.2 1105.8,390.0 1123.5,394.0 1141.2,393.4"/><polyline points="591.0,299.8 608.8,315.1 626.5,373.7 644.2,396.9 662.0,432.3 679.8,398.5 697.5,351.8 715.2,338.0 733.0,325.0 750.8,404.9 768.5,515.6 786.2,565.3 804.0,502.9 821.8,466.9 839.5,445.5 857.2,411.9 875.0,413.0 892.8,394.5 910.5,398.5 928.2,399.7 946.0,399.3 963.8,405.3 981.5,384.1 999.2,379.5 1017.0,386.1 1034.8,412.9 1052.5,395.1 1070.2,373.9 1088.0,367.6 1105.8,366.5 1123.5,355.9 1141.2,357.1"/><polyline points="591.0,307.4 608.8,341.0 626.5,404.9 644.2,423.0 662.0,442.8 679.8,418.8 697.5,367.7 715.2,343.1 733.0,375.6 750.8,406.9 768.5,404.6 786.2,449.9 804.0,566.2 821.8,564.0 839.5,514.8 857.2,467.6 875.0,440.4 892.8,417.7 910.5,422.8 928.2,433.4 946.0,418.2 963.8,403.2 981.5,401.6 999.2,411.9 1017.0,412.1 1034.8,410.0 1052.5,400.2 1070.2,405.0 1088.0,401.8 1105.8,390.8 1123.5,389.4 1141.2,389.3"/><polyline points="591.0,305.3 608.8,318.8 626.5,394.6 644.2,417.6 662.0,432.9 679.8,401.8 697.5,363.8 715.2,346.2 733.0,364.5 750.8,414.5 768.5,503.9 786.2,573.0 804.0,538.6 821.8,533.8 839.5,521.4 857.2,513.3 875.0,504.2 892.8,491.1 910.5,479.6 928.2,454.3 946.0,473.5 963.8,442.4 981.5,440.0 999.2,424.8 1017.0,417.9 1034.8,419.5 1052.5,408.1 1070.2,387.2 1088.0,391.7 1105.8,401.4 1123.5,386.6 1141.2,375.6"/><polyline points="591.0,321.2 608.8,341.2 626.5,383.2 644.2,406.4 662.0,413.5 679.8,383.2 697.5,385.8 715.2,327.5 733.0,361.0 750.8,408.2 768.5,508.8 786.2,578.4 804.0,527.7 821.8,490.5 839.5,444.2 857.2,421.2 875.0,422.5 892.8,404.4 910.5,416.9 928.2,420.6 946.0,422.0 963.8,419.8 981.5,391.3 999.2,400.5 1017.0,399.9 1034.8,418.0 1052.5,397.5 1070.2,407.4 1088.0,393.4 1105.8,393.4 1123.5,383.1 1141.2,383.0"/><polyline points="591.0,299.1 608.8,334.0 626.5,395.8 644.2,360.3 662.0,413.1 679.8,390.7 697.5,353.6 715.2,334.0 733.0,359.4 750.8,389.6 768.5,431.6 786.2,522.0 804.0,579.5 821.8,495.0 839.5,453.4 857.2,432.8 875.0,409.0 892.8,402.9 910.5,403.2 928.2,406.7 946.0,426.7 963.8,404.2 981.5,392.0 999.2,386.9 1017.0,398.5 1034.8,410.7 1052.5,389.5 1070.2,388.8 1088.0,391.9 1105.8,373.6 1123.5,371.8 1141.2,384.8"/><polyline points="591.0,321.4 608.8,340.3 626.5,408.2 644.2,419.8 662.0,431.0 679.8,403.1 697.5,350.4 715.2,365.9 733.0,369.4 750.8,399.1 768.5,456.0 786.2,540.2 804.0,560.7 821.8,539.4 839.5,492.2 857.2,463.8 875.0,443.1 892.8,437.9 910.5,421.2 928.2,420.8 946.0,429.7 963.8,422.9 981.5,412.4 999.2,407.7 1017.0,404.8 1034.8,404.5 1052.5,406.4 1070.2,413.5 1088.0,415.9 1105.8,385.3 1123.5,390.3 1141.2,394.5"/><polyline points="591.0,305.5 608.8,334.5 626.5,376.3 644.2,382.7 662.0,425.1 679.8,394.0 697.5,366.5 715.2,364.1 733.0,352.0 750.8,402.1 768.5,490.7 786.2,584.4 804.0,534.6 821.8,490.7 839.5,490.1 857.2,444.1 875.0,429.8 892.8,426.8 910.5,424.4 928.2,415.3 946.0,409.8 963.8,429.4 981.5,400.5 999.2,395.5 1017.0,405.1 1034.8,406.7 1052.5,405.7 1070.2,391.3 1088.0,398.6 1105.8,371.1 1123.5,386.5 1141.2,390.9"/><polyline points="591.0,310.8 608.8,346.0 626.5,378.6 644.2,377.9 662.0,416.8 679.8,378.0 697.5,358.3 715.2,337.4 733.0,381.3 750.8,393.6 768.5,496.5 786.2,588.7 804.0,534.9 821.8,474.8 839.5,436.4 857.2,412.4 875.0,408.1 892.8,420.4 910.5,421.7 928.2,408.7 946.0,399.0 963.8,419.8 981.5,394.6 999.2,396.1 1017.0,399.9 1034.8,419.4 1052.5,405.3 1070.2,395.9 1088.0,381.6 1105.8,384.5 1123.5,394.1 1141.2,385.7"/><polyline points="591.0,312.6 608.8,334.2 626.5,409.9 644.2,441.6 662.0,444.6 679.8,423.4 697.5,379.9 715.2,332.7 733.0,377.1 750.8,378.4 768.5,437.1 786.2,531.8 804.0,578.3 821.8,510.5 839.5,492.1 857.2,439.9 875.0,429.0 892.8,415.6 910.5,420.8 928.2,412.2 946.0,416.0 963.8,408.8 981.5,400.8 999.2,398.2 1017.0,408.4 1034.8,408.4 1052.5,396.5 1070.2,406.6 1088.0,400.5 1105.8,400.4 1123.5,386.3 1141.2,393.6"/><polyline points="591.0,315.0 608.8,341.1 626.5,376.6 644.2,386.2 662.0,409.6 679.8,378.4 697.5,350.8 715.2,341.6 733.0,369.9 750.8,434.3 768.5,523.4 786.2,585.1 804.0,531.3 821.8,481.5 839.5,434.1 857.2,421.5 875.0,421.0 892.8,419.3 910.5,421.7 928.2,404.2 946.0,408.9 963.8,416.3 981.5,397.1 999.2,416.3 1017.0,418.8 1034.8,400.6 1052.5,393.6 1070.2,394.1 1088.0,393.5 1105.8,390.4 1123.5,396.8 1141.2,374.5"/><polyline points="591.0,313.2 608.8,318.6 626.5,372.9 644.2,394.2 662.0,404.3 679.8,368.7 697.5,347.9 715.2,358.0 733.0,363.1 750.8,392.2 768.5,482.3 786.2,605.5 804.0,548.3 821.8,506.1 839.5,475.8 857.2,442.6 875.0,427.0 892.8,419.7 910.5,404.3 928.2,402.4 946.0,406.1 963.8,419.3 981.5,421.6 999.2,392.4 1017.0,404.7 1034.8,392.7 1052.5,400.2 1070.2,400.4 1088.0,394.4 1105.8,372.5 1123.5,380.3 1141.2,397.3"/><polyline points="591.0,307.7 608.8,337.5 626.5,363.8 644.2,386.1 662.0,430.4 679.8,388.5 697.5,359.6 715.2,348.5 733.0,361.5 750.8,394.3 768.5,500.1 786.2,579.1 804.0,524.2 821.8,489.4 839.5,463.4 857.2,415.2 875.0,427.0 892.8,408.2 910.5,410.0 928.2,415.7 946.0,419.1 963.8,413.8 981.5,407.1 999.2,391.2 1017.0,391.5 1034.8,402.5 1052.5,399.3 1070.2,389.7 1088.0,384.9 1105.8,390.5 1123.5,382.9 1141.2,373.1"/><polyline points="591.0,320.3 608.8,342.2 626.5,398.0 644.2,465.6 662.0,461.9 679.8,396.9 697.5,362.8 715.2,364.5 733.0,380.2 750.8,424.2 768.5,518.5 786.2,577.3 804.0,531.1 821.8,481.4 839.5,449.7 857.2,437.4 875.0,409.6 892.8,435.0 910.5,415.7 928.2,429.8 946.0,418.2 963.8,422.9 981.5,401.8 999.2,415.4 1017.0,407.5 1034.8,404.8 1052.5,405.3 1070.2,396.4 1088.0,405.2 1105.8,385.1 1123.5,397.0 1141.2,396.1"/><polyline points="591.0,319.4 608.8,340.7 626.5,387.2 644.2,397.1 662.0,427.4 679.8,381.6 697.5,366.8 715.2,346.6 733.0,380.5 750.8,394.5 768.5,409.9 786.2,490.5 804.0,581.5 821.8,525.5 839.5,483.3 857.2,439.8 875.0,436.6 892.8,410.8 910.5,419.6 928.2,420.4 946.0,426.5 963.8,420.0 981.5,390.5 999.2,398.0 1017.0,394.3 1034.8,402.8 1052.5,395.7 1070.2,406.8 1088.0,402.3 1105.8,389.3 1123.5,377.4 1141.2,382.2"/><polyline points="591.0,291.7 608.8,337.7 626.5,406.8 644.2,381.8 662.0,432.9 679.8,412.2 697.5,366.3 715.2,350.6 733.0,369.6 750.8,391.9 768.5,457.5 786.2,567.2 804.0,567.2 821.8,521.2 839.5,493.4 857.2,454.4 875.0,422.6 892.8,425.7 910.5,433.0 928.2,412.9 946.0,417.1 963.8,403.2 981.5,404.3 999.2,402.4 1017.0,407.2 1034.8,414.4 1052.5,403.7 1070.2,408.2 1088.0,391.7 1105.8,378.3 1123.5,396.6 1141.2,392.3"/></g>
<polyline points="182.8,415.0 413.5,415.0 413.5,183.5 484.6,183.5 484.6,646.3 555.5,646.3 555.5,415.0 1141.2,415.0" fill="none" stroke="#000" stroke-width="4.8" stroke-linejoin="round" stroke-linecap="round"/>
<polyline points="182.8,415.0 200.5,415.0 218.2,415.0 236.0,415.0 253.8,415.0 271.5,415.0 289.2,415.0 307.0,424.5 324.8,489.6 342.5,497.8 360.2,479.0 378.0,461.0 395.8,442.3" fill="none" stroke="#f00" stroke-width="4" stroke-linejoin="round" stroke-linecap="round"/>
<polyline points="591.0,310.0 608.8,337.0 626.5,402.0 644.2,411.0 662.0,420.0 679.8,398.0 697.5,367.0 715.2,357.0 733.0,366.0 750.8,383.0 768.5,484.0 786.2,585.0 804.0,543.0 821.8,501.0 839.5,460.0 857.2,434.0 875.0,420.0 892.8,413.0 910.5,413.0 928.2,413.0 946.0,412.0 963.8,412.0 981.5,402.0 999.2,402.0 1017.0,402.0 1034.8,411.0 1052.5,402.0 1070.2,398.0 1088.0,394.0 1105.8,384.0 1123.5,384.0 1141.2,384.0" fill="none" stroke="#000" stroke-width="8" stroke-linejoin="miter"/>
<polyline points="591.0,310.0 608.8,337.0 626.5,402.0 644.2,411.0 662.0,420.0 679.8,398.0 697.5,367.0 715.2,357.0 733.0,366.0 750.8,383.0 768.5,484.0 786.2,585.0 804.0,543.0 821.8,501.0 839.5,460.0 857.2,434.0 875.0,420.0 892.8,413.0 910.5,413.0 928.2,413.0 946.0,412.0 963.8,412.0 981.5,402.0 999.2,402.0 1017.0,402.0 1034.8,411.0 1052.5,402.0 1070.2,398.0 1088.0,394.0 1105.8,384.0 1123.5,384.0 1141.2,384.0" fill="none" stroke="#fff" stroke-width="3.5" stroke-linejoin="miter"/>
<g fill="none" stroke="#000" stroke-width="1.4" stroke-dasharray="4.6 3">
<line x1="342.6" y1="45" x2="342.6" y2="832"/>
<line x1="413.5" y1="415" x2="413.5" y2="758"/>
<line x1="484.6" y1="646" x2="484.6" y2="758"/>
<line x1="786.2" y1="45" x2="786.2" y2="684"/>
</g>
<g fill="none" stroke="#000" stroke-linecap="round">
<line x1="342.6" y1="62.8" x2="786.2" y2="62.8" stroke-width="2.3"/>
<line x1="342.6" y1="54.2" x2="342.6" y2="71.3" stroke-width="2.8"/>
<line x1="786.2" y1="54.2" x2="786.2" y2="71.3" stroke-width="2.8"/>
<line x1="484.6" y1="683.6" x2="786.2" y2="683.6" stroke-width="2.3"/>
<line x1="484.6" y1="674.8" x2="484.6" y2="691.9" stroke-width="2.8"/>
<line x1="786.2" y1="674.8" x2="786.2" y2="691.9" stroke-width="2.8"/>
<line x1="413.6" y1="757.8" x2="484.6" y2="757.8" stroke-width="2.3"/>
<line x1="413.6" y1="749.1" x2="413.6" y2="765.8" stroke-width="2.8"/>
<line x1="484.6" y1="749.1" x2="484.6" y2="765.8" stroke-width="2.8"/>
<line x1="342.6" y1="831.7" x2="413.6" y2="831.7" stroke-width="2.3"/>
<line x1="342.6" y1="823.2" x2="342.6" y2="839.7" stroke-width="2.8"/>
<line x1="413.6" y1="823.2" x2="413.6" y2="839.7" stroke-width="2.8"/>
<line x1="591" y1="248.3" x2="644.8" y2="201.8" stroke-width="2.6"/>
<line x1="271.8" y1="619.3" x2="325.3" y2="516.4" stroke-width="2.6"/>
<line x1="803.7" y1="615.3" x2="840" y2="647" stroke-width="2.6"/>
</g>
<g fill="none" stroke="#000" stroke-width="2.6" stroke-linecap="round" stroke-linejoin="miter">
<polyline points="166,111.4 147.7,111.4 147.7,718.7 166,718.7"/>
<line x1="147.7" y1="415" x2="166" y2="415"/>
<polyline points="1158.2,173.2 1176.5,173.2 1176.5,656.5 1158.2,656.5"/>
<line x1="1158.2" y1="415" x2="1176.5" y2="415"/>
</g>
<g>
<text x="68.00" y="123.5" font-size="36" textLength="58.37" lengthAdjust="spacingAndGlyphs">400</text>
<rect x="60.2" y="721.05" width="16.9" height="2.5" fill="#231f20"/>
<text x="79.21" y="730.7" font-size="36" textLength="57.64" lengthAdjust="spacingAndGlyphs">400</text>
<text x="1203.66" y="185.6" font-size="36" textLength="58.61" lengthAdjust="spacingAndGlyphs">300</text>
<rect x="1196.0" y="658.95" width="16.9" height="2.5" fill="#231f20"/>
<text x="1214.68" y="668.9" font-size="36" textLength="57.98" lengthAdjust="spacingAndGlyphs">300</text>
<text x="597.86" y="189.8" font-size="44.5" textLength="360.07" lengthAdjust="spacingAndGlyphs">stimulation artifact</text>
<text x="182.92" y="662.0" font-size="44.5" textLength="244.07" lengthAdjust="spacingAndGlyphs">trigger spike</text>
<text x="856.60" y="662.2" font-size="44.5" textLength="256.39" lengthAdjust="spacingAndGlyphs">elicited spike</text>
<text transform="translate(39.0,0) rotate(-90)" x="-673.48" y="0" font-size="45" textLength="512.26" lengthAdjust="spacingAndGlyphs">Recording Amplitude (<tspan font-family="Liberation Serif">&#956;</tspan>V)</text>
<text transform="translate(1320.4,0) rotate(90)" x="155.47" y="0" font-size="45" textLength="542.31" lengthAdjust="spacingAndGlyphs">Stimulation Amplitude (mV)</text>
<text x="466.71" y="32.5" font-size="39">t</text><text x="476.99" y="52.0" font-size="31">0</text><rect x="496.10" y="22.00" width="19.40" height="2.6" fill="#231f20"/><text x="516.71" y="32.5" font-size="39">t</text><text x="527.42" y="52.0" font-size="31">3</text><path fill="#231f20" d="M575.90,32.50 L579.30,32.50 L579.30,5.80 L576.60,5.80 C575.70,8.50 574.20,10.70 569.70,10.90 L569.70,13.40 L575.90,13.40 Z"/><text x="586.47" y="32.5" font-size="39" textLength="116.03" lengthAdjust="spacingAndGlyphs">.25 ms</text>
<text x="520.01" y="727.5" font-size="39">t</text><text x="530.04" y="746.7" font-size="31">2</text><rect x="549.10" y="717.00" width="19.70" height="2.6" fill="#231f20"/><text x="570.41" y="727.5" font-size="39">t</text><text x="580.72" y="746.7" font-size="31">3</text><text x="618.59" y="727.5" font-size="39" textLength="137.10" lengthAdjust="spacingAndGlyphs">0.85 ms</text>
<text x="422.41" y="801.5" font-size="39">t</text><path fill="#231f20" d="M441.17,821.00 L444.00,821.00 L444.00,799.40 L441.75,799.40 C441.00,801.58 439.75,803.36 436.00,803.53 L436.00,805.55 L441.17,805.55 Z"/><rect x="451.80" y="791.00" width="19.20" height="2.6" fill="#231f20"/><text x="472.41" y="801.5" font-size="39">t</text><text x="482.64" y="821.0" font-size="31">2</text><text x="521.19" y="801.5" font-size="39" textLength="115.70" lengthAdjust="spacingAndGlyphs">0.2 ms</text>
<text x="351.41" y="875.5" font-size="39">t</text><text x="362.19" y="894.7" font-size="31">0</text><rect x="381.00" y="865.00" width="19.20" height="2.6" fill="#231f20"/><text x="401.61" y="875.5" font-size="39">t</text><path fill="#231f20" d="M420.37,894.70 L423.20,894.70 L423.20,873.10 L420.95,873.10 C420.20,875.28 418.95,877.06 415.20,877.23 L415.20,879.25 L420.37,879.25 Z"/><text x="450.09" y="875.5" font-size="39" textLength="115.70" lengthAdjust="spacingAndGlyphs">0.2 ms</text>
</g>
</svg>
</body></html>
